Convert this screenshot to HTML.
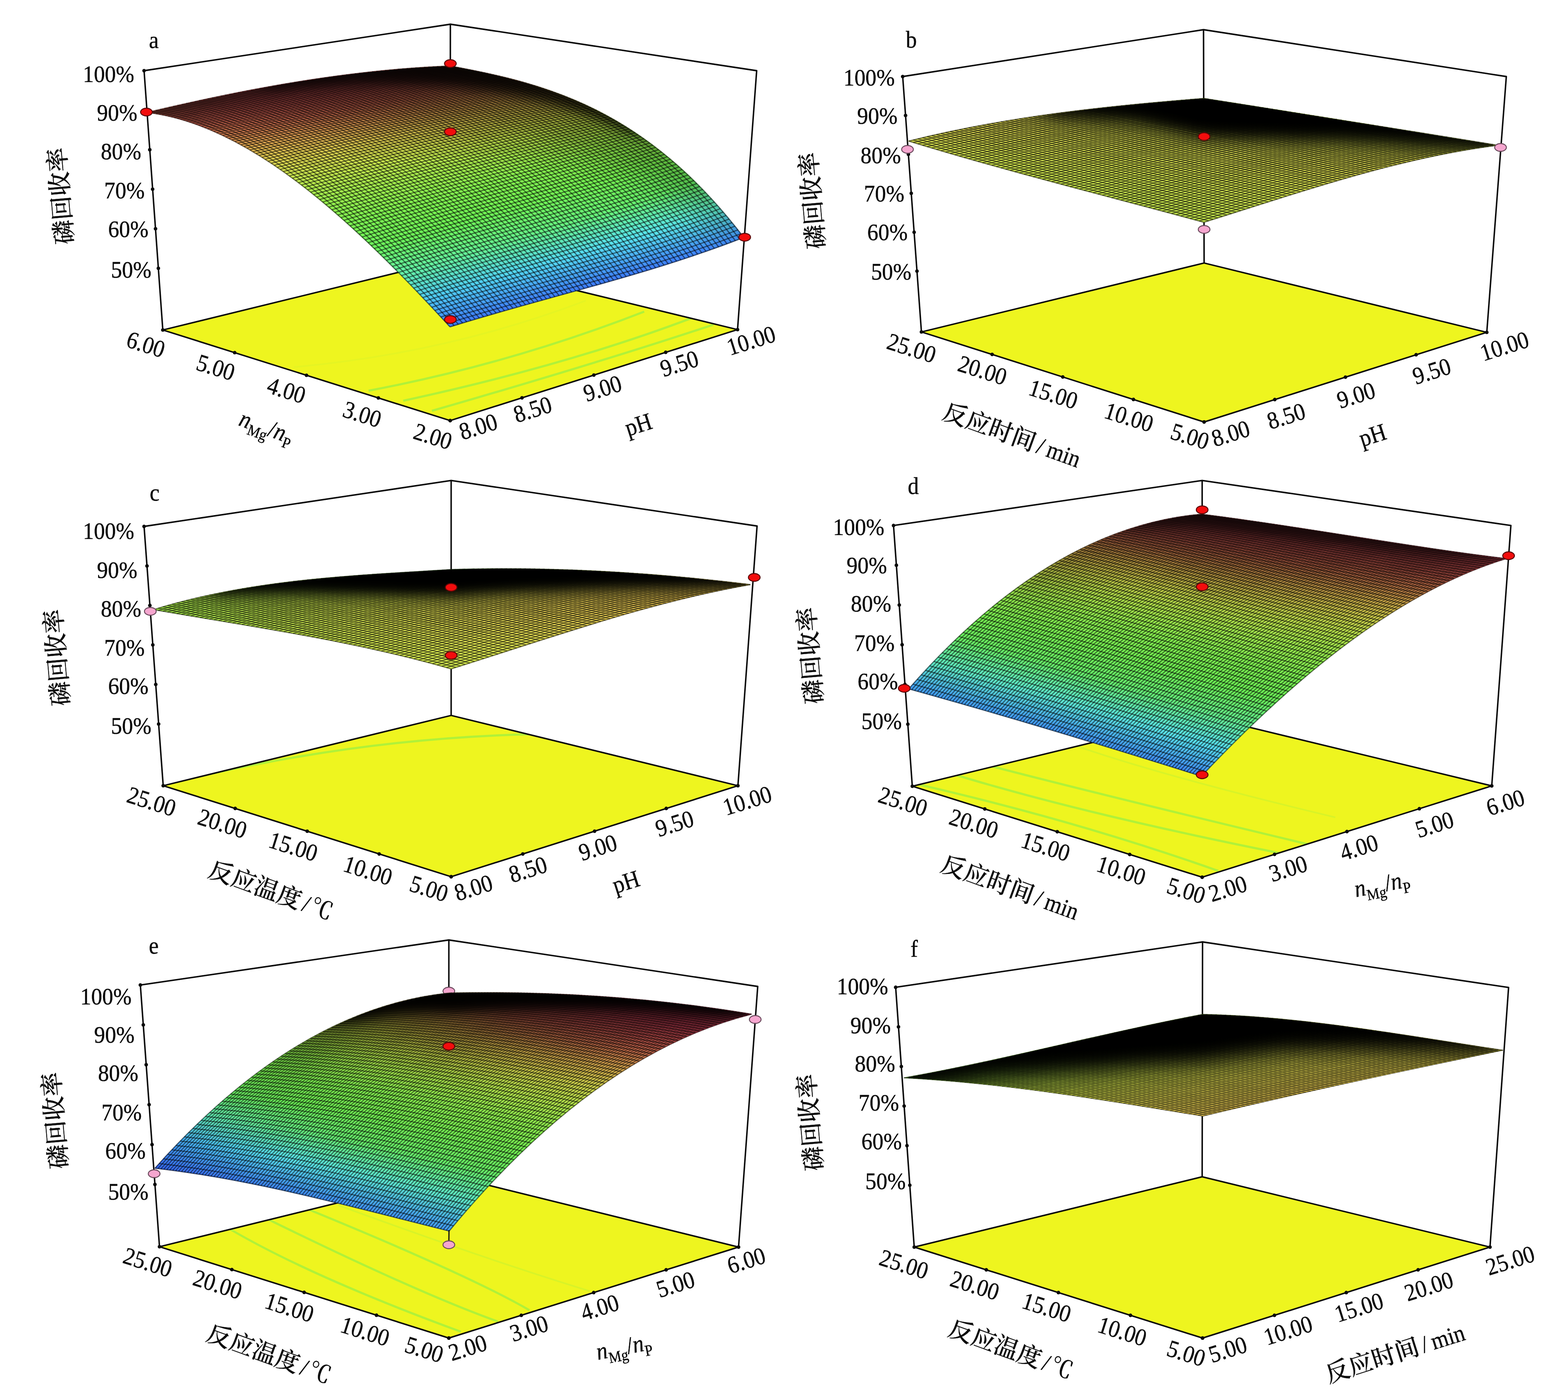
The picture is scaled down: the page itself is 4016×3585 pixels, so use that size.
<!DOCTYPE html>
<html lang="zh-CN">
<head>
<meta charset="utf-8">
<title>响应面图 — 磷回收率</title>
<style>
html,body{margin:0;padding:0;background:#fff;}
body{width:4016px;height:3585px;}
svg{display:block;}
text{font-family:"Liberation Serif","Noto Serif CJK SC",serif;fill:#0a0a0a;stroke:#0a0a0a;stroke-width:0.55px;}
.it{font-style:italic;}
.cj{font-family:"Noto Serif CJK SC","Liberation Serif",serif;font-weight:500;stroke-width:0.4px;}
</style>
</head>
<body>
<svg xmlns="http://www.w3.org/2000/svg" width="4016" height="3585" viewBox="0 0 4016 3585">
<defs>
<clipPath id="fla"><path d="M417 845 L1153 1077 L1889 844 L1153 665Z"/></clipPath>
<linearGradient id="a0" gradientUnits="userSpaceOnUse" x1="386.2" y1="285.7" x2="1161.9" y2="834.1"><stop offset="0" stop-color="#e9705b"/><stop offset="0.063" stop-color="#e76a5b"/><stop offset="0.13" stop-color="#e9725b"/><stop offset="0.202" stop-color="#ed8e59"/><stop offset="0.279" stop-color="#f1be56"/><stop offset="0.359" stop-color="#e3e052"/><stop offset="0.442" stop-color="#c2f04f"/><stop offset="0.529" stop-color="#9af54f"/><stop offset="0.619" stop-color="#7df852"/><stop offset="0.711" stop-color="#6cf75e"/><stop offset="0.806" stop-color="#65f3a8"/><stop offset="0.902" stop-color="#4ecbf6"/><stop offset="1" stop-color="#3c7afa"/></linearGradient>
<linearGradient id="a1" gradientUnits="userSpaceOnUse" x1="405.6" y1="281.2" x2="1180.7" y2="828.3"><stop offset="0" stop-color="#e86e5b"/><stop offset="0.063" stop-color="#e7695c"/><stop offset="0.13" stop-color="#e9705b"/><stop offset="0.203" stop-color="#ed8b59"/><stop offset="0.279" stop-color="#f1bb56"/><stop offset="0.359" stop-color="#e4de52"/><stop offset="0.442" stop-color="#c4ef4f"/><stop offset="0.529" stop-color="#9cf54f"/><stop offset="0.619" stop-color="#7df852"/><stop offset="0.711" stop-color="#6cf75d"/><stop offset="0.805" stop-color="#65f3a6"/><stop offset="0.902" stop-color="#4fccf6"/><stop offset="1" stop-color="#3c7afa"/></linearGradient>
<linearGradient id="a2" gradientUnits="userSpaceOnUse" x1="425" y1="276.7" x2="1199.5" y2="822.7"><stop offset="0" stop-color="#e86b5b"/><stop offset="0.063" stop-color="#e7675c"/><stop offset="0.131" stop-color="#e96f5b"/><stop offset="0.203" stop-color="#ec8959"/><stop offset="0.279" stop-color="#f1b956"/><stop offset="0.359" stop-color="#e5dd52"/><stop offset="0.442" stop-color="#c6ef4f"/><stop offset="0.529" stop-color="#9df54f"/><stop offset="0.618" stop-color="#7ef852"/><stop offset="0.71" stop-color="#6df75c"/><stop offset="0.805" stop-color="#65f3a3"/><stop offset="0.902" stop-color="#4fcef6"/><stop offset="1" stop-color="#3c7bfa"/></linearGradient>
<linearGradient id="a3" gradientUnits="userSpaceOnUse" x1="444.4" y1="272.2" x2="1218.3" y2="817.1"><stop offset="0" stop-color="#e7695b"/><stop offset="0.063" stop-color="#e6655c"/><stop offset="0.131" stop-color="#e86d5b"/><stop offset="0.203" stop-color="#ec8659"/><stop offset="0.279" stop-color="#f0b656"/><stop offset="0.359" stop-color="#e6dc52"/><stop offset="0.442" stop-color="#c7ef4f"/><stop offset="0.528" stop-color="#9ff54f"/><stop offset="0.618" stop-color="#7ff852"/><stop offset="0.71" stop-color="#6df75b"/><stop offset="0.805" stop-color="#65f3a0"/><stop offset="0.901" stop-color="#50cff5"/><stop offset="1" stop-color="#3d7bfa"/></linearGradient>
<linearGradient id="a4" gradientUnits="userSpaceOnUse" x1="463.8" y1="267.9" x2="1237.2" y2="811.5"><stop offset="0" stop-color="#e7675c"/><stop offset="0.063" stop-color="#e6645c"/><stop offset="0.131" stop-color="#e86c5b"/><stop offset="0.203" stop-color="#ec8459"/><stop offset="0.279" stop-color="#f0b456"/><stop offset="0.359" stop-color="#e6db52"/><stop offset="0.442" stop-color="#c9ee4f"/><stop offset="0.528" stop-color="#a0f54f"/><stop offset="0.617" stop-color="#7ff852"/><stop offset="0.71" stop-color="#6df75a"/><stop offset="0.804" stop-color="#66f39e"/><stop offset="0.901" stop-color="#50d0f5"/><stop offset="1" stop-color="#3d7bfa"/></linearGradient>
<linearGradient id="a5" gradientUnits="userSpaceOnUse" x1="483.2" y1="263.5" x2="1256" y2="806.1"><stop offset="0" stop-color="#e6665c"/><stop offset="0.063" stop-color="#e5625c"/><stop offset="0.131" stop-color="#e86b5b"/><stop offset="0.203" stop-color="#ec8259"/><stop offset="0.279" stop-color="#f0b156"/><stop offset="0.358" stop-color="#e7d953"/><stop offset="0.441" stop-color="#caee4f"/><stop offset="0.528" stop-color="#a1f44f"/><stop offset="0.617" stop-color="#80f851"/><stop offset="0.709" stop-color="#6df759"/><stop offset="0.804" stop-color="#66f39c"/><stop offset="0.901" stop-color="#51d2f5"/><stop offset="1" stop-color="#3d7bfa"/></linearGradient>
<linearGradient id="a6" gradientUnits="userSpaceOnUse" x1="502.6" y1="259.3" x2="1274.8" y2="800.7"><stop offset="0" stop-color="#e6645c"/><stop offset="0.064" stop-color="#e5615c"/><stop offset="0.131" stop-color="#e76a5b"/><stop offset="0.203" stop-color="#ec8059"/><stop offset="0.279" stop-color="#f0af57"/><stop offset="0.358" stop-color="#e8d853"/><stop offset="0.441" stop-color="#cbee4f"/><stop offset="0.527" stop-color="#a3f44f"/><stop offset="0.617" stop-color="#81f851"/><stop offset="0.709" stop-color="#6df858"/><stop offset="0.803" stop-color="#66f39a"/><stop offset="0.901" stop-color="#51d3f5"/><stop offset="1" stop-color="#3d7cfa"/></linearGradient>
<linearGradient id="a7" gradientUnits="userSpaceOnUse" x1="522" y1="255.1" x2="1293.6" y2="795.3"><stop offset="0" stop-color="#e5625c"/><stop offset="0.064" stop-color="#e5605c"/><stop offset="0.132" stop-color="#e7695c"/><stop offset="0.203" stop-color="#ec7f5a"/><stop offset="0.279" stop-color="#f0ae57"/><stop offset="0.358" stop-color="#e8d753"/><stop offset="0.441" stop-color="#cdee4f"/><stop offset="0.527" stop-color="#a4f44f"/><stop offset="0.616" stop-color="#81f851"/><stop offset="0.708" stop-color="#6df858"/><stop offset="0.803" stop-color="#66f398"/><stop offset="0.9" stop-color="#52d4f4"/><stop offset="1" stop-color="#3d7cfa"/></linearGradient>
<linearGradient id="a8" gradientUnits="userSpaceOnUse" x1="541.4" y1="251" x2="1312.4" y2="790"><stop offset="0" stop-color="#e5615c"/><stop offset="0.064" stop-color="#e45f5d"/><stop offset="0.132" stop-color="#e7685c"/><stop offset="0.204" stop-color="#eb7d5a"/><stop offset="0.279" stop-color="#f0ac57"/><stop offset="0.358" stop-color="#e9d753"/><stop offset="0.441" stop-color="#ceed4f"/><stop offset="0.527" stop-color="#a5f44f"/><stop offset="0.616" stop-color="#82f851"/><stop offset="0.708" stop-color="#6ef857"/><stop offset="0.803" stop-color="#66f396"/><stop offset="0.9" stop-color="#52d5f4"/><stop offset="1" stop-color="#3d7cfa"/></linearGradient>
<linearGradient id="a9" gradientUnits="userSpaceOnUse" x1="560.8" y1="246.9" x2="1331.2" y2="784.7"><stop offset="0" stop-color="#e55f5c"/><stop offset="0.064" stop-color="#e45e5d"/><stop offset="0.132" stop-color="#e7675c"/><stop offset="0.204" stop-color="#eb7c5a"/><stop offset="0.279" stop-color="#efaa57"/><stop offset="0.358" stop-color="#e9d653"/><stop offset="0.441" stop-color="#cfed4f"/><stop offset="0.527" stop-color="#a6f44f"/><stop offset="0.615" stop-color="#82f851"/><stop offset="0.707" stop-color="#6ef856"/><stop offset="0.802" stop-color="#66f394"/><stop offset="0.9" stop-color="#52d5f4"/><stop offset="1" stop-color="#3d7cfa"/></linearGradient>
<linearGradient id="a10" gradientUnits="userSpaceOnUse" x1="580.2" y1="243" x2="1350" y2="779.5"><stop offset="0" stop-color="#e45e5d"/><stop offset="0.064" stop-color="#e45d5d"/><stop offset="0.132" stop-color="#e6665c"/><stop offset="0.204" stop-color="#eb7a5a"/><stop offset="0.279" stop-color="#efa957"/><stop offset="0.358" stop-color="#ead553"/><stop offset="0.441" stop-color="#d0ed4f"/><stop offset="0.526" stop-color="#a7f44f"/><stop offset="0.615" stop-color="#83f851"/><stop offset="0.707" stop-color="#6ef855"/><stop offset="0.802" stop-color="#66f392"/><stop offset="0.9" stop-color="#53d6f4"/><stop offset="1" stop-color="#3d7bfa"/></linearGradient>
<linearGradient id="a11" gradientUnits="userSpaceOnUse" x1="599.6" y1="239" x2="1368.8" y2="774.2"><stop offset="0" stop-color="#e45d5d"/><stop offset="0.064" stop-color="#e45c5d"/><stop offset="0.132" stop-color="#e6655c"/><stop offset="0.204" stop-color="#eb795a"/><stop offset="0.279" stop-color="#efa757"/><stop offset="0.358" stop-color="#ead453"/><stop offset="0.44" stop-color="#d1ed4f"/><stop offset="0.526" stop-color="#a8f44f"/><stop offset="0.615" stop-color="#83f851"/><stop offset="0.707" stop-color="#6ef855"/><stop offset="0.802" stop-color="#67f491"/><stop offset="0.899" stop-color="#53d7f4"/><stop offset="1" stop-color="#3d7bfa"/></linearGradient>
<linearGradient id="a12" gradientUnits="userSpaceOnUse" x1="619" y1="235.2" x2="1387.7" y2="769"><stop offset="0" stop-color="#e45c5d"/><stop offset="0.064" stop-color="#e45b5d"/><stop offset="0.132" stop-color="#e6655c"/><stop offset="0.204" stop-color="#eb785a"/><stop offset="0.279" stop-color="#efa657"/><stop offset="0.358" stop-color="#ebd353"/><stop offset="0.44" stop-color="#d2ed50"/><stop offset="0.526" stop-color="#a9f34e"/><stop offset="0.614" stop-color="#84f851"/><stop offset="0.706" stop-color="#6ff855"/><stop offset="0.801" stop-color="#67f48f"/><stop offset="0.899" stop-color="#53d8f4"/><stop offset="1" stop-color="#3d7bfa"/></linearGradient>
<linearGradient id="a13" gradientUnits="userSpaceOnUse" x1="638.4" y1="231.5" x2="1406.5" y2="763.8"><stop offset="0" stop-color="#e35b5d"/><stop offset="0.065" stop-color="#e35b5d"/><stop offset="0.133" stop-color="#e6645c"/><stop offset="0.204" stop-color="#eb785a"/><stop offset="0.279" stop-color="#efa557"/><stop offset="0.358" stop-color="#ebd353"/><stop offset="0.44" stop-color="#d3ed50"/><stop offset="0.525" stop-color="#aaf34e"/><stop offset="0.614" stop-color="#84f851"/><stop offset="0.706" stop-color="#6ff855"/><stop offset="0.801" stop-color="#67f48d"/><stop offset="0.899" stop-color="#54d8f3"/><stop offset="1" stop-color="#3d7bfa"/></linearGradient>
<linearGradient id="a14" gradientUnits="userSpaceOnUse" x1="657.8" y1="227.8" x2="1425.3" y2="758.6"><stop offset="0" stop-color="#e35a5d"/><stop offset="0.065" stop-color="#e35a5d"/><stop offset="0.133" stop-color="#e6645c"/><stop offset="0.204" stop-color="#eb775a"/><stop offset="0.28" stop-color="#efa457"/><stop offset="0.358" stop-color="#ecd254"/><stop offset="0.44" stop-color="#d4ec50"/><stop offset="0.525" stop-color="#abf34e"/><stop offset="0.614" stop-color="#84f851"/><stop offset="0.705" stop-color="#70f855"/><stop offset="0.8" stop-color="#67f48c"/><stop offset="0.899" stop-color="#54d9f3"/><stop offset="1" stop-color="#3c7bfa"/></linearGradient>
<linearGradient id="a15" gradientUnits="userSpaceOnUse" x1="677.2" y1="224.2" x2="1444.1" y2="753.5"><stop offset="0" stop-color="#e3595d"/><stop offset="0.065" stop-color="#e35a5d"/><stop offset="0.133" stop-color="#e6645c"/><stop offset="0.205" stop-color="#eb775a"/><stop offset="0.28" stop-color="#efa357"/><stop offset="0.358" stop-color="#ecd254"/><stop offset="0.44" stop-color="#d5ec50"/><stop offset="0.525" stop-color="#abf34e"/><stop offset="0.613" stop-color="#85f850"/><stop offset="0.705" stop-color="#70f855"/><stop offset="0.8" stop-color="#67f48a"/><stop offset="0.898" stop-color="#54daf3"/><stop offset="1" stop-color="#3c7bfa"/></linearGradient>
<linearGradient id="a16" gradientUnits="userSpaceOnUse" x1="696.6" y1="220.7" x2="1462.9" y2="748.3"><stop offset="0" stop-color="#e3595d"/><stop offset="0.065" stop-color="#e35a5d"/><stop offset="0.133" stop-color="#e6645c"/><stop offset="0.205" stop-color="#eb775a"/><stop offset="0.28" stop-color="#efa357"/><stop offset="0.358" stop-color="#ecd154"/><stop offset="0.44" stop-color="#d5ec50"/><stop offset="0.525" stop-color="#acf34e"/><stop offset="0.613" stop-color="#85f850"/><stop offset="0.705" stop-color="#70f855"/><stop offset="0.8" stop-color="#67f489"/><stop offset="0.898" stop-color="#54daf3"/><stop offset="1" stop-color="#3c7bfa"/></linearGradient>
<linearGradient id="a17" gradientUnits="userSpaceOnUse" x1="716" y1="217.3" x2="1481.7" y2="743"><stop offset="0" stop-color="#e3585d"/><stop offset="0.065" stop-color="#e35a5d"/><stop offset="0.133" stop-color="#e6645c"/><stop offset="0.205" stop-color="#eb775a"/><stop offset="0.28" stop-color="#efa257"/><stop offset="0.358" stop-color="#ecd154"/><stop offset="0.439" stop-color="#d6ec50"/><stop offset="0.524" stop-color="#adf34e"/><stop offset="0.612" stop-color="#86f850"/><stop offset="0.704" stop-color="#71f854"/><stop offset="0.799" stop-color="#67f487"/><stop offset="0.898" stop-color="#55dbf3"/><stop offset="1" stop-color="#3c7bfa"/></linearGradient>
<linearGradient id="a18" gradientUnits="userSpaceOnUse" x1="735.4" y1="214" x2="1500.5" y2="737.8"><stop offset="0" stop-color="#e3585d"/><stop offset="0.065" stop-color="#e35a5d"/><stop offset="0.134" stop-color="#e6645c"/><stop offset="0.205" stop-color="#eb775a"/><stop offset="0.28" stop-color="#efa257"/><stop offset="0.358" stop-color="#edd154"/><stop offset="0.439" stop-color="#d7ec50"/><stop offset="0.524" stop-color="#aef34e"/><stop offset="0.612" stop-color="#86f850"/><stop offset="0.704" stop-color="#71f854"/><stop offset="0.799" stop-color="#67f486"/><stop offset="0.898" stop-color="#55dcf3"/><stop offset="1" stop-color="#3c7afa"/></linearGradient>
<linearGradient id="a19" gradientUnits="userSpaceOnUse" x1="754.8" y1="210.8" x2="1519.3" y2="732.6"><stop offset="0" stop-color="#e3585d"/><stop offset="0.065" stop-color="#e35a5d"/><stop offset="0.134" stop-color="#e6645c"/><stop offset="0.205" stop-color="#eb775a"/><stop offset="0.28" stop-color="#efa257"/><stop offset="0.358" stop-color="#edd054"/><stop offset="0.439" stop-color="#d7ec50"/><stop offset="0.524" stop-color="#aff34e"/><stop offset="0.612" stop-color="#86f850"/><stop offset="0.703" stop-color="#72f854"/><stop offset="0.799" stop-color="#67f484"/><stop offset="0.897" stop-color="#55dcf2"/><stop offset="1" stop-color="#3c7afa"/></linearGradient>
<linearGradient id="a20" gradientUnits="userSpaceOnUse" x1="774.2" y1="207.6" x2="1538.2" y2="727.3"><stop offset="0" stop-color="#e3585d"/><stop offset="0.066" stop-color="#e35a5d"/><stop offset="0.134" stop-color="#e6655c"/><stop offset="0.205" stop-color="#eb775a"/><stop offset="0.28" stop-color="#efa257"/><stop offset="0.358" stop-color="#edd054"/><stop offset="0.439" stop-color="#d8ec50"/><stop offset="0.523" stop-color="#aff34e"/><stop offset="0.611" stop-color="#87f850"/><stop offset="0.703" stop-color="#72f854"/><stop offset="0.798" stop-color="#68f483"/><stop offset="0.897" stop-color="#56ddf2"/><stop offset="1" stop-color="#3c7afa"/></linearGradient>
<linearGradient id="a21" gradientUnits="userSpaceOnUse" x1="793.6" y1="204.6" x2="1557" y2="721.9"><stop offset="0" stop-color="#e3585d"/><stop offset="0.066" stop-color="#e35b5d"/><stop offset="0.134" stop-color="#e6655c"/><stop offset="0.206" stop-color="#eb785a"/><stop offset="0.28" stop-color="#efa257"/><stop offset="0.358" stop-color="#edd054"/><stop offset="0.439" stop-color="#d9ec50"/><stop offset="0.523" stop-color="#b0f34e"/><stop offset="0.611" stop-color="#87f850"/><stop offset="0.703" stop-color="#72f854"/><stop offset="0.798" stop-color="#68f481"/><stop offset="0.897" stop-color="#56def2"/><stop offset="1" stop-color="#3c7afa"/></linearGradient>
<linearGradient id="a22" gradientUnits="userSpaceOnUse" x1="813" y1="201.7" x2="1575.8" y2="716.5"><stop offset="0" stop-color="#e3595d"/><stop offset="0.066" stop-color="#e45c5d"/><stop offset="0.134" stop-color="#e6665c"/><stop offset="0.206" stop-color="#eb785a"/><stop offset="0.28" stop-color="#efa257"/><stop offset="0.358" stop-color="#edd054"/><stop offset="0.439" stop-color="#d9ec50"/><stop offset="0.523" stop-color="#b1f24e"/><stop offset="0.611" stop-color="#88f850"/><stop offset="0.702" stop-color="#73f854"/><stop offset="0.797" stop-color="#68f47f"/><stop offset="0.897" stop-color="#56dff2"/><stop offset="1" stop-color="#3c7afa"/></linearGradient>
<linearGradient id="a23" gradientUnits="userSpaceOnUse" x1="832.4" y1="198.9" x2="1594.6" y2="711.1"><stop offset="0" stop-color="#e3595d"/><stop offset="0.066" stop-color="#e45c5d"/><stop offset="0.135" stop-color="#e7675c"/><stop offset="0.206" stop-color="#eb795a"/><stop offset="0.28" stop-color="#efa357"/><stop offset="0.358" stop-color="#edcf54"/><stop offset="0.439" stop-color="#daeb50"/><stop offset="0.523" stop-color="#b1f24e"/><stop offset="0.61" stop-color="#89f850"/><stop offset="0.702" stop-color="#73f854"/><stop offset="0.797" stop-color="#68f47e"/><stop offset="0.896" stop-color="#57e0f2"/><stop offset="1" stop-color="#3c7bfa"/></linearGradient>
<linearGradient id="a24" gradientUnits="userSpaceOnUse" x1="851.8" y1="196.1" x2="1613.4" y2="705.6"><stop offset="0" stop-color="#e35a5d"/><stop offset="0.066" stop-color="#e45d5d"/><stop offset="0.135" stop-color="#e7685c"/><stop offset="0.206" stop-color="#eb7a5a"/><stop offset="0.281" stop-color="#efa357"/><stop offset="0.358" stop-color="#edcf54"/><stop offset="0.438" stop-color="#daeb50"/><stop offset="0.522" stop-color="#b2f24e"/><stop offset="0.61" stop-color="#8af850"/><stop offset="0.701" stop-color="#74f854"/><stop offset="0.797" stop-color="#68f47c"/><stop offset="0.896" stop-color="#57e1f2"/><stop offset="1" stop-color="#3c7bfa"/></linearGradient>
<linearGradient id="a25" gradientUnits="userSpaceOnUse" x1="871.2" y1="193.5" x2="1632.2" y2="700.1"><stop offset="0" stop-color="#e45b5d"/><stop offset="0.066" stop-color="#e45f5d"/><stop offset="0.135" stop-color="#e7695c"/><stop offset="0.206" stop-color="#eb7c5a"/><stop offset="0.281" stop-color="#efa457"/><stop offset="0.358" stop-color="#edcf54"/><stop offset="0.438" stop-color="#dbeb50"/><stop offset="0.522" stop-color="#b3f24e"/><stop offset="0.61" stop-color="#8bf850"/><stop offset="0.701" stop-color="#74f854"/><stop offset="0.796" stop-color="#68f47a"/><stop offset="0.896" stop-color="#58e2f1"/><stop offset="1" stop-color="#3d7bfa"/></linearGradient>
<linearGradient id="a26" gradientUnits="userSpaceOnUse" x1="890.6" y1="191" x2="1651" y2="694.4"><stop offset="0" stop-color="#e45c5d"/><stop offset="0.066" stop-color="#e5605c"/><stop offset="0.135" stop-color="#e76a5b"/><stop offset="0.207" stop-color="#eb7d5a"/><stop offset="0.281" stop-color="#efa457"/><stop offset="0.358" stop-color="#edcf54"/><stop offset="0.438" stop-color="#dbeb50"/><stop offset="0.522" stop-color="#b3f24e"/><stop offset="0.609" stop-color="#8bf750"/><stop offset="0.701" stop-color="#74f854"/><stop offset="0.796" stop-color="#68f578"/><stop offset="0.896" stop-color="#58e3f1"/><stop offset="1" stop-color="#3d7bfa"/></linearGradient>
<linearGradient id="a27" gradientUnits="userSpaceOnUse" x1="910" y1="188.6" x2="1669.8" y2="688.7"><stop offset="0" stop-color="#e45e5d"/><stop offset="0.067" stop-color="#e5615c"/><stop offset="0.136" stop-color="#e86b5b"/><stop offset="0.207" stop-color="#ec7f5a"/><stop offset="0.281" stop-color="#efa557"/><stop offset="0.358" stop-color="#edcf54"/><stop offset="0.438" stop-color="#dbeb50"/><stop offset="0.522" stop-color="#b4f24e"/><stop offset="0.609" stop-color="#8cf750"/><stop offset="0.7" stop-color="#75f854"/><stop offset="0.796" stop-color="#68f576"/><stop offset="0.896" stop-color="#59e5f1"/><stop offset="1" stop-color="#3d7cfa"/></linearGradient>
<linearGradient id="a28" gradientUnits="userSpaceOnUse" x1="929.4" y1="186.3" x2="1688.7" y2="682.9"><stop offset="0" stop-color="#e55f5c"/><stop offset="0.067" stop-color="#e6635c"/><stop offset="0.136" stop-color="#e86d5b"/><stop offset="0.207" stop-color="#ec8059"/><stop offset="0.281" stop-color="#efa657"/><stop offset="0.358" stop-color="#edcf54"/><stop offset="0.438" stop-color="#dceb50"/><stop offset="0.522" stop-color="#b5f24e"/><stop offset="0.609" stop-color="#8df750"/><stop offset="0.7" stop-color="#75f854"/><stop offset="0.795" stop-color="#69f573"/><stop offset="0.895" stop-color="#59e6f0"/><stop offset="1" stop-color="#3d7cfa"/></linearGradient>
<linearGradient id="a29" gradientUnits="userSpaceOnUse" x1="948.8" y1="184.2" x2="1707.5" y2="677"><stop offset="0" stop-color="#e5615c"/><stop offset="0.067" stop-color="#e6655c"/><stop offset="0.136" stop-color="#e96f5b"/><stop offset="0.207" stop-color="#ec8359"/><stop offset="0.281" stop-color="#efa857"/><stop offset="0.358" stop-color="#edcf54"/><stop offset="0.438" stop-color="#dceb50"/><stop offset="0.521" stop-color="#b6f24e"/><stop offset="0.609" stop-color="#8ef750"/><stop offset="0.7" stop-color="#76f853"/><stop offset="0.795" stop-color="#69f571"/><stop offset="0.895" stop-color="#5ae8f0"/><stop offset="1" stop-color="#3d7dfa"/></linearGradient>
<linearGradient id="a30" gradientUnits="userSpaceOnUse" x1="968.2" y1="182.1" x2="1726.3" y2="671"><stop offset="0" stop-color="#e6635c"/><stop offset="0.067" stop-color="#e7675c"/><stop offset="0.136" stop-color="#e9705b"/><stop offset="0.208" stop-color="#ec8559"/><stop offset="0.281" stop-color="#efa957"/><stop offset="0.358" stop-color="#edd054"/><stop offset="0.438" stop-color="#dceb50"/><stop offset="0.521" stop-color="#b6f24e"/><stop offset="0.608" stop-color="#8ff750"/><stop offset="0.699" stop-color="#76f853"/><stop offset="0.795" stop-color="#69f56e"/><stop offset="0.895" stop-color="#5ae8ee"/><stop offset="1" stop-color="#3d7efa"/></linearGradient>
<linearGradient id="a31" gradientUnits="userSpaceOnUse" x1="987.6" y1="180.2" x2="1745.1" y2="664.9"><stop offset="0" stop-color="#e6665c"/><stop offset="0.067" stop-color="#e7695b"/><stop offset="0.137" stop-color="#ea725b"/><stop offset="0.208" stop-color="#ec8759"/><stop offset="0.282" stop-color="#efaa57"/><stop offset="0.358" stop-color="#edd054"/><stop offset="0.438" stop-color="#dcea50"/><stop offset="0.521" stop-color="#b7f14e"/><stop offset="0.608" stop-color="#90f750"/><stop offset="0.699" stop-color="#77f853"/><stop offset="0.795" stop-color="#69f56d"/><stop offset="0.895" stop-color="#5be9eb"/><stop offset="1" stop-color="#3d7ffa"/></linearGradient>
<linearGradient id="a32" gradientUnits="userSpaceOnUse" x1="1007" y1="178.4" x2="1763.9" y2="658.7"><stop offset="0" stop-color="#e7685c"/><stop offset="0.068" stop-color="#e86c5b"/><stop offset="0.137" stop-color="#ea745a"/><stop offset="0.208" stop-color="#ed8a59"/><stop offset="0.282" stop-color="#f0ac57"/><stop offset="0.358" stop-color="#edd054"/><stop offset="0.438" stop-color="#ddea50"/><stop offset="0.521" stop-color="#b8f14e"/><stop offset="0.608" stop-color="#91f750"/><stop offset="0.699" stop-color="#78f853"/><stop offset="0.794" stop-color="#69f56c"/><stop offset="0.895" stop-color="#5be9e8"/><stop offset="1" stop-color="#3d80fa"/></linearGradient>
<linearGradient id="a33" gradientUnits="userSpaceOnUse" x1="1026.4" y1="176.7" x2="1782.7" y2="652.4"><stop offset="0" stop-color="#e86b5b"/><stop offset="0.068" stop-color="#e96e5b"/><stop offset="0.137" stop-color="#eb775a"/><stop offset="0.208" stop-color="#ed8c59"/><stop offset="0.282" stop-color="#f0ae57"/><stop offset="0.359" stop-color="#edd054"/><stop offset="0.438" stop-color="#ddea50"/><stop offset="0.521" stop-color="#b9f14e"/><stop offset="0.608" stop-color="#93f64f"/><stop offset="0.699" stop-color="#78f853"/><stop offset="0.794" stop-color="#6af56b"/><stop offset="0.894" stop-color="#5ceae5"/><stop offset="1" stop-color="#3e81fa"/></linearGradient>
<linearGradient id="a34" gradientUnits="userSpaceOnUse" x1="1045.8" y1="175.1" x2="1801.5" y2="646"><stop offset="0" stop-color="#e86e5b"/><stop offset="0.068" stop-color="#e9715b"/><stop offset="0.137" stop-color="#eb7a5a"/><stop offset="0.209" stop-color="#ed8f59"/><stop offset="0.282" stop-color="#f0af57"/><stop offset="0.359" stop-color="#edd054"/><stop offset="0.438" stop-color="#dde950"/><stop offset="0.521" stop-color="#baf14e"/><stop offset="0.608" stop-color="#94f64f"/><stop offset="0.698" stop-color="#79f853"/><stop offset="0.794" stop-color="#6af66a"/><stop offset="0.894" stop-color="#5ceae2"/><stop offset="1" stop-color="#3e82fa"/></linearGradient>
<linearGradient id="a35" gradientUnits="userSpaceOnUse" x1="1065.2" y1="173.7" x2="1820.3" y2="639.4"><stop offset="0" stop-color="#e9715b"/><stop offset="0.068" stop-color="#ea745a"/><stop offset="0.138" stop-color="#ec7e5a"/><stop offset="0.209" stop-color="#ed9358"/><stop offset="0.283" stop-color="#f0b156"/><stop offset="0.359" stop-color="#edd154"/><stop offset="0.438" stop-color="#dde950"/><stop offset="0.521" stop-color="#bbf14e"/><stop offset="0.607" stop-color="#95f64f"/><stop offset="0.698" stop-color="#7af853"/><stop offset="0.794" stop-color="#6af669"/><stop offset="0.894" stop-color="#5debde"/><stop offset="1" stop-color="#3e84fa"/></linearGradient>
<linearGradient id="a36" gradientUnits="userSpaceOnUse" x1="1084.6" y1="172.4" x2="1839.2" y2="632.7"><stop offset="0" stop-color="#ea745a"/><stop offset="0.068" stop-color="#eb785a"/><stop offset="0.138" stop-color="#ec8359"/><stop offset="0.209" stop-color="#ee9658"/><stop offset="0.283" stop-color="#f0b356"/><stop offset="0.359" stop-color="#ecd154"/><stop offset="0.438" stop-color="#dde950"/><stop offset="0.521" stop-color="#bcf14e"/><stop offset="0.607" stop-color="#96f64f"/><stop offset="0.698" stop-color="#7af853"/><stop offset="0.793" stop-color="#6af667"/><stop offset="0.894" stop-color="#5eecdb"/><stop offset="1" stop-color="#3e86fa"/></linearGradient>
<linearGradient id="a37" gradientUnits="userSpaceOnUse" x1="1104" y1="171.3" x2="1858" y2="625.8"><stop offset="0" stop-color="#eb785a"/><stop offset="0.069" stop-color="#eb7d5a"/><stop offset="0.138" stop-color="#ec8759"/><stop offset="0.21" stop-color="#ee9a58"/><stop offset="0.283" stop-color="#f0b656"/><stop offset="0.359" stop-color="#ecd154"/><stop offset="0.438" stop-color="#dee850"/><stop offset="0.521" stop-color="#bdf04e"/><stop offset="0.607" stop-color="#98f64f"/><stop offset="0.698" stop-color="#7bf852"/><stop offset="0.793" stop-color="#6bf666"/><stop offset="0.894" stop-color="#5eecd6"/><stop offset="1" stop-color="#3f87fa"/></linearGradient>
<linearGradient id="a38" gradientUnits="userSpaceOnUse" x1="1123.4" y1="170.3" x2="1876.8" y2="618.8"><stop offset="0" stop-color="#ec7f5a"/><stop offset="0.069" stop-color="#ec8359"/><stop offset="0.139" stop-color="#ed8c59"/><stop offset="0.21" stop-color="#ee9d58"/><stop offset="0.284" stop-color="#f1b856"/><stop offset="0.36" stop-color="#ecd254"/><stop offset="0.439" stop-color="#dee850"/><stop offset="0.521" stop-color="#bef04e"/><stop offset="0.607" stop-color="#99f64f"/><stop offset="0.698" stop-color="#7cf852"/><stop offset="0.793" stop-color="#6bf664"/><stop offset="0.894" stop-color="#5fedd2"/><stop offset="1" stop-color="#3f89fa"/></linearGradient>
<linearGradient id="a39" gradientUnits="userSpaceOnUse" x1="1142.8" y1="169.4" x2="1895.6" y2="611.6"><stop offset="0" stop-color="#ec8659"/><stop offset="0.069" stop-color="#ec8959"/><stop offset="0.139" stop-color="#ed9258"/><stop offset="0.21" stop-color="#efa157"/><stop offset="0.284" stop-color="#f1ba56"/><stop offset="0.36" stop-color="#ecd254"/><stop offset="0.439" stop-color="#dee850"/><stop offset="0.521" stop-color="#bff04f"/><stop offset="0.607" stop-color="#9bf54f"/><stop offset="0.698" stop-color="#7df852"/><stop offset="0.793" stop-color="#6bf663"/><stop offset="0.894" stop-color="#60eecd"/><stop offset="1" stop-color="#3f8cfa"/></linearGradient>
<clipPath id="csa"><path d="M376.5 288 C635.2 226.7 893.8 178.8 1152.5 169 C1403.3 214.3 1654.2 280.7 1905 608 C1654.2 705.7 1403.3 759 1152.5 837 C893.8 554.8 635.2 318 376.5 288Z"/></clipPath>
<filter id="bla0" x="-5%" y="-60%" width="110%" height="220%"><feGaussianBlur stdDeviation="14"/></filter>
<filter id="bla1" x="-5%" y="-60%" width="110%" height="220%"><feGaussianBlur stdDeviation="50"/></filter>
<linearGradient id="b0" gradientUnits="userSpaceOnUse" x1="2336.9" y1="364.1" x2="3092.9" y2="253.4"><stop offset="0" stop-color="#dfe751"/><stop offset="0.084" stop-color="#e2e251"/><stop offset="0.169" stop-color="#e3df52"/><stop offset="0.253" stop-color="#e4de52"/><stop offset="0.336" stop-color="#e4de52"/><stop offset="0.42" stop-color="#e3df52"/><stop offset="0.503" stop-color="#e2e251"/><stop offset="0.586" stop-color="#dfe651"/><stop offset="0.669" stop-color="#dcea50"/><stop offset="0.752" stop-color="#d6ec50"/><stop offset="0.835" stop-color="#cfed4f"/><stop offset="0.917" stop-color="#c6ef4f"/><stop offset="1" stop-color="#bdf04e"/></linearGradient>
<linearGradient id="b1" gradientUnits="userSpaceOnUse" x1="2355.9" y1="369.8" x2="3111.7" y2="256.3"><stop offset="0" stop-color="#dee850"/><stop offset="0.084" stop-color="#e1e351"/><stop offset="0.169" stop-color="#e3e052"/><stop offset="0.253" stop-color="#e4df52"/><stop offset="0.336" stop-color="#e4df52"/><stop offset="0.42" stop-color="#e3e052"/><stop offset="0.503" stop-color="#e2e251"/><stop offset="0.586" stop-color="#dfe651"/><stop offset="0.669" stop-color="#dcea50"/><stop offset="0.752" stop-color="#d7ec50"/><stop offset="0.835" stop-color="#cfed4f"/><stop offset="0.917" stop-color="#c7ef4f"/><stop offset="1" stop-color="#bef04f"/></linearGradient>
<linearGradient id="b2" gradientUnits="userSpaceOnUse" x1="2374.8" y1="375.5" x2="3130.5" y2="259.3"><stop offset="0" stop-color="#dde950"/><stop offset="0.084" stop-color="#e0e451"/><stop offset="0.169" stop-color="#e2e151"/><stop offset="0.253" stop-color="#e3e052"/><stop offset="0.336" stop-color="#e3df52"/><stop offset="0.42" stop-color="#e3e052"/><stop offset="0.503" stop-color="#e1e251"/><stop offset="0.586" stop-color="#dfe651"/><stop offset="0.669" stop-color="#ddea50"/><stop offset="0.752" stop-color="#d7ec50"/><stop offset="0.835" stop-color="#d0ed4f"/><stop offset="0.918" stop-color="#c8ef4f"/><stop offset="1" stop-color="#bff04f"/></linearGradient>
<linearGradient id="b3" gradientUnits="userSpaceOnUse" x1="2393.6" y1="381.2" x2="3149.3" y2="262.2"><stop offset="0" stop-color="#ddea50"/><stop offset="0.084" stop-color="#dfe651"/><stop offset="0.169" stop-color="#e1e251"/><stop offset="0.253" stop-color="#e3e151"/><stop offset="0.336" stop-color="#e3e052"/><stop offset="0.42" stop-color="#e2e151"/><stop offset="0.503" stop-color="#e1e351"/><stop offset="0.586" stop-color="#dfe651"/><stop offset="0.669" stop-color="#ddea50"/><stop offset="0.752" stop-color="#d7ec50"/><stop offset="0.835" stop-color="#d0ed4f"/><stop offset="0.918" stop-color="#c8ee4f"/><stop offset="1" stop-color="#c0f04f"/></linearGradient>
<linearGradient id="b4" gradientUnits="userSpaceOnUse" x1="2412.6" y1="386.8" x2="3168.2" y2="265.1"><stop offset="0" stop-color="#dceb50"/><stop offset="0.084" stop-color="#dfe751"/><stop offset="0.169" stop-color="#e1e351"/><stop offset="0.253" stop-color="#e2e151"/><stop offset="0.336" stop-color="#e3e151"/><stop offset="0.42" stop-color="#e2e151"/><stop offset="0.503" stop-color="#e1e351"/><stop offset="0.587" stop-color="#dfe651"/><stop offset="0.67" stop-color="#ddea50"/><stop offset="0.752" stop-color="#d8ec50"/><stop offset="0.835" stop-color="#d1ed4f"/><stop offset="0.918" stop-color="#c9ee4f"/><stop offset="1" stop-color="#c0f04f"/></linearGradient>
<linearGradient id="b5" gradientUnits="userSpaceOnUse" x1="2431.4" y1="392.3" x2="3187" y2="268"><stop offset="0" stop-color="#dbeb50"/><stop offset="0.085" stop-color="#dee751"/><stop offset="0.169" stop-color="#e0e451"/><stop offset="0.253" stop-color="#e2e251"/><stop offset="0.337" stop-color="#e2e151"/><stop offset="0.42" stop-color="#e2e251"/><stop offset="0.503" stop-color="#e1e351"/><stop offset="0.587" stop-color="#dfe651"/><stop offset="0.67" stop-color="#ddea50"/><stop offset="0.752" stop-color="#d8ec50"/><stop offset="0.835" stop-color="#d1ed4f"/><stop offset="0.918" stop-color="#caee4f"/><stop offset="1" stop-color="#c1f04f"/></linearGradient>
<linearGradient id="b6" gradientUnits="userSpaceOnUse" x1="2450.4" y1="397.8" x2="3205.8" y2="271"><stop offset="0" stop-color="#daeb50"/><stop offset="0.085" stop-color="#dee850"/><stop offset="0.169" stop-color="#e0e551"/><stop offset="0.253" stop-color="#e1e351"/><stop offset="0.337" stop-color="#e2e251"/><stop offset="0.42" stop-color="#e2e251"/><stop offset="0.504" stop-color="#e1e351"/><stop offset="0.587" stop-color="#dfe651"/><stop offset="0.67" stop-color="#dde950"/><stop offset="0.753" stop-color="#d8ec50"/><stop offset="0.835" stop-color="#d2ed4f"/><stop offset="0.918" stop-color="#caee4f"/><stop offset="1" stop-color="#c2f04f"/></linearGradient>
<linearGradient id="b7" gradientUnits="userSpaceOnUse" x1="2469.2" y1="403.2" x2="3224.6" y2="273.9"><stop offset="0" stop-color="#d9ec50"/><stop offset="0.085" stop-color="#dde950"/><stop offset="0.169" stop-color="#dfe651"/><stop offset="0.253" stop-color="#e1e351"/><stop offset="0.337" stop-color="#e2e251"/><stop offset="0.42" stop-color="#e1e251"/><stop offset="0.504" stop-color="#e1e351"/><stop offset="0.587" stop-color="#dfe651"/><stop offset="0.67" stop-color="#dde950"/><stop offset="0.753" stop-color="#d9ec50"/><stop offset="0.835" stop-color="#d3ed50"/><stop offset="0.918" stop-color="#cbee4f"/><stop offset="1" stop-color="#c2ef4f"/></linearGradient>
<linearGradient id="b8" gradientUnits="userSpaceOnUse" x1="2488.1" y1="408.6" x2="3243.4" y2="276.9"><stop offset="0" stop-color="#d8ec50"/><stop offset="0.085" stop-color="#ddea50"/><stop offset="0.169" stop-color="#dfe651"/><stop offset="0.253" stop-color="#e0e451"/><stop offset="0.337" stop-color="#e1e351"/><stop offset="0.42" stop-color="#e1e351"/><stop offset="0.504" stop-color="#e1e451"/><stop offset="0.587" stop-color="#dfe651"/><stop offset="0.67" stop-color="#dde950"/><stop offset="0.753" stop-color="#d9eb50"/><stop offset="0.835" stop-color="#d3ed50"/><stop offset="0.918" stop-color="#ccee4f"/><stop offset="1" stop-color="#c3ef4f"/></linearGradient>
<linearGradient id="b9" gradientUnits="userSpaceOnUse" x1="2507.1" y1="414" x2="3262.2" y2="279.8"><stop offset="0" stop-color="#d7ec50"/><stop offset="0.085" stop-color="#dceb50"/><stop offset="0.169" stop-color="#dee751"/><stop offset="0.253" stop-color="#e0e551"/><stop offset="0.337" stop-color="#e1e351"/><stop offset="0.42" stop-color="#e1e351"/><stop offset="0.504" stop-color="#e1e451"/><stop offset="0.587" stop-color="#dfe651"/><stop offset="0.67" stop-color="#dde950"/><stop offset="0.753" stop-color="#daeb50"/><stop offset="0.835" stop-color="#d4ec50"/><stop offset="0.918" stop-color="#ccee4f"/><stop offset="1" stop-color="#c4ef4f"/></linearGradient>
<linearGradient id="b10" gradientUnits="userSpaceOnUse" x1="2525.9" y1="419.3" x2="3281" y2="282.8"><stop offset="0" stop-color="#d6ec50"/><stop offset="0.085" stop-color="#dceb50"/><stop offset="0.169" stop-color="#dee850"/><stop offset="0.253" stop-color="#e0e551"/><stop offset="0.337" stop-color="#e1e451"/><stop offset="0.42" stop-color="#e1e351"/><stop offset="0.504" stop-color="#e0e451"/><stop offset="0.587" stop-color="#dfe651"/><stop offset="0.67" stop-color="#dde950"/><stop offset="0.753" stop-color="#daeb50"/><stop offset="0.835" stop-color="#d4ec50"/><stop offset="0.918" stop-color="#cdee4f"/><stop offset="1" stop-color="#c4ef4f"/></linearGradient>
<linearGradient id="b11" gradientUnits="userSpaceOnUse" x1="2544.9" y1="424.6" x2="3299.8" y2="285.8"><stop offset="0" stop-color="#d5ec50"/><stop offset="0.085" stop-color="#dbeb50"/><stop offset="0.169" stop-color="#dee850"/><stop offset="0.253" stop-color="#dfe651"/><stop offset="0.337" stop-color="#e0e451"/><stop offset="0.42" stop-color="#e1e351"/><stop offset="0.504" stop-color="#e0e451"/><stop offset="0.587" stop-color="#dfe651"/><stop offset="0.67" stop-color="#dee850"/><stop offset="0.753" stop-color="#daeb50"/><stop offset="0.835" stop-color="#d5ec50"/><stop offset="0.918" stop-color="#cdee4f"/><stop offset="1" stop-color="#c5ef4f"/></linearGradient>
<linearGradient id="b12" gradientUnits="userSpaceOnUse" x1="2563.8" y1="429.9" x2="3318.7" y2="288.8"><stop offset="0" stop-color="#d5ec50"/><stop offset="0.085" stop-color="#daeb50"/><stop offset="0.169" stop-color="#dde950"/><stop offset="0.253" stop-color="#dfe651"/><stop offset="0.337" stop-color="#e0e451"/><stop offset="0.421" stop-color="#e1e451"/><stop offset="0.504" stop-color="#e0e451"/><stop offset="0.587" stop-color="#dfe651"/><stop offset="0.67" stop-color="#dee850"/><stop offset="0.753" stop-color="#dbeb50"/><stop offset="0.836" stop-color="#d5ec50"/><stop offset="0.918" stop-color="#ceed4f"/><stop offset="1" stop-color="#c6ef4f"/></linearGradient>
<linearGradient id="b13" gradientUnits="userSpaceOnUse" x1="2582.6" y1="435.1" x2="3337.5" y2="291.7"><stop offset="0" stop-color="#d4ec50"/><stop offset="0.085" stop-color="#d9eb50"/><stop offset="0.169" stop-color="#dde950"/><stop offset="0.253" stop-color="#dfe751"/><stop offset="0.337" stop-color="#e0e551"/><stop offset="0.421" stop-color="#e1e451"/><stop offset="0.504" stop-color="#e0e451"/><stop offset="0.587" stop-color="#e0e551"/><stop offset="0.67" stop-color="#dee850"/><stop offset="0.753" stop-color="#dbeb50"/><stop offset="0.836" stop-color="#d6ec50"/><stop offset="0.918" stop-color="#cfed4f"/><stop offset="1" stop-color="#c6ef4f"/></linearGradient>
<linearGradient id="b14" gradientUnits="userSpaceOnUse" x1="2601.6" y1="440.3" x2="3356.3" y2="294.7"><stop offset="0" stop-color="#d3ed50"/><stop offset="0.085" stop-color="#d9ec50"/><stop offset="0.169" stop-color="#ddea50"/><stop offset="0.253" stop-color="#dfe751"/><stop offset="0.337" stop-color="#e0e551"/><stop offset="0.421" stop-color="#e0e451"/><stop offset="0.504" stop-color="#e0e451"/><stop offset="0.587" stop-color="#e0e551"/><stop offset="0.67" stop-color="#dee850"/><stop offset="0.753" stop-color="#dceb50"/><stop offset="0.836" stop-color="#d6ec50"/><stop offset="0.918" stop-color="#cfed4f"/><stop offset="1" stop-color="#c7ef4f"/></linearGradient>
<linearGradient id="b15" gradientUnits="userSpaceOnUse" x1="2620.4" y1="445.5" x2="3375.1" y2="297.7"><stop offset="0" stop-color="#d3ed50"/><stop offset="0.085" stop-color="#d8ec50"/><stop offset="0.169" stop-color="#dcea50"/><stop offset="0.253" stop-color="#dee751"/><stop offset="0.337" stop-color="#e0e551"/><stop offset="0.421" stop-color="#e0e451"/><stop offset="0.504" stop-color="#e0e451"/><stop offset="0.587" stop-color="#e0e551"/><stop offset="0.67" stop-color="#dee751"/><stop offset="0.753" stop-color="#dceb50"/><stop offset="0.836" stop-color="#d7ec50"/><stop offset="0.918" stop-color="#d0ed4f"/><stop offset="1" stop-color="#c7ef4f"/></linearGradient>
<linearGradient id="b16" gradientUnits="userSpaceOnUse" x1="2639.3" y1="450.7" x2="3393.9" y2="300.7"><stop offset="0" stop-color="#d2ed50"/><stop offset="0.085" stop-color="#d8ec50"/><stop offset="0.169" stop-color="#dceb50"/><stop offset="0.253" stop-color="#dee850"/><stop offset="0.337" stop-color="#dfe651"/><stop offset="0.421" stop-color="#e0e451"/><stop offset="0.504" stop-color="#e0e451"/><stop offset="0.588" stop-color="#e0e551"/><stop offset="0.671" stop-color="#dee751"/><stop offset="0.753" stop-color="#dcea50"/><stop offset="0.836" stop-color="#d7ec50"/><stop offset="0.918" stop-color="#d0ed4f"/><stop offset="1" stop-color="#c8ef4f"/></linearGradient>
<linearGradient id="b17" gradientUnits="userSpaceOnUse" x1="2658.2" y1="455.8" x2="3412.7" y2="303.7"><stop offset="0" stop-color="#d2ed4f"/><stop offset="0.085" stop-color="#d7ec50"/><stop offset="0.169" stop-color="#dceb50"/><stop offset="0.253" stop-color="#dee850"/><stop offset="0.337" stop-color="#dfe651"/><stop offset="0.421" stop-color="#e0e451"/><stop offset="0.504" stop-color="#e0e451"/><stop offset="0.588" stop-color="#e0e551"/><stop offset="0.671" stop-color="#dfe751"/><stop offset="0.753" stop-color="#ddea50"/><stop offset="0.836" stop-color="#d8ec50"/><stop offset="0.918" stop-color="#d1ed4f"/><stop offset="1" stop-color="#c8ee4f"/></linearGradient>
<linearGradient id="b18" gradientUnits="userSpaceOnUse" x1="2677.2" y1="460.9" x2="3431.5" y2="306.7"><stop offset="0" stop-color="#d1ed4f"/><stop offset="0.085" stop-color="#d7ec50"/><stop offset="0.169" stop-color="#dbeb50"/><stop offset="0.253" stop-color="#dee850"/><stop offset="0.337" stop-color="#dfe651"/><stop offset="0.421" stop-color="#e0e551"/><stop offset="0.504" stop-color="#e0e451"/><stop offset="0.588" stop-color="#e0e551"/><stop offset="0.671" stop-color="#dfe751"/><stop offset="0.753" stop-color="#ddea50"/><stop offset="0.836" stop-color="#d8ec50"/><stop offset="0.918" stop-color="#d2ed4f"/><stop offset="1" stop-color="#c9ee4f"/></linearGradient>
<linearGradient id="b19" gradientUnits="userSpaceOnUse" x1="2696.1" y1="466" x2="3450.3" y2="309.8"><stop offset="0" stop-color="#d1ed4f"/><stop offset="0.085" stop-color="#d6ec50"/><stop offset="0.169" stop-color="#dbeb50"/><stop offset="0.253" stop-color="#dde950"/><stop offset="0.337" stop-color="#dfe651"/><stop offset="0.421" stop-color="#e0e551"/><stop offset="0.504" stop-color="#e0e451"/><stop offset="0.588" stop-color="#e0e551"/><stop offset="0.671" stop-color="#dfe651"/><stop offset="0.754" stop-color="#dde950"/><stop offset="0.836" stop-color="#d9ec50"/><stop offset="0.918" stop-color="#d2ed50"/><stop offset="1" stop-color="#caee4f"/></linearGradient>
<linearGradient id="b20" gradientUnits="userSpaceOnUse" x1="2714.9" y1="471" x2="3469.2" y2="312.8"><stop offset="0" stop-color="#d0ed4f"/><stop offset="0.085" stop-color="#d6ec50"/><stop offset="0.169" stop-color="#daeb50"/><stop offset="0.253" stop-color="#dde950"/><stop offset="0.337" stop-color="#dfe651"/><stop offset="0.421" stop-color="#e0e551"/><stop offset="0.505" stop-color="#e0e451"/><stop offset="0.588" stop-color="#e0e451"/><stop offset="0.671" stop-color="#dfe651"/><stop offset="0.754" stop-color="#dde950"/><stop offset="0.836" stop-color="#d9eb50"/><stop offset="0.918" stop-color="#d3ed50"/><stop offset="1" stop-color="#caee4f"/></linearGradient>
<linearGradient id="b21" gradientUnits="userSpaceOnUse" x1="2733.8" y1="476.1" x2="3488" y2="315.8"><stop offset="0" stop-color="#d0ed4f"/><stop offset="0.085" stop-color="#d5ec50"/><stop offset="0.169" stop-color="#daeb50"/><stop offset="0.253" stop-color="#dde950"/><stop offset="0.337" stop-color="#dfe751"/><stop offset="0.421" stop-color="#e0e551"/><stop offset="0.505" stop-color="#e0e451"/><stop offset="0.588" stop-color="#e0e451"/><stop offset="0.671" stop-color="#dfe651"/><stop offset="0.754" stop-color="#dee950"/><stop offset="0.836" stop-color="#daeb50"/><stop offset="0.918" stop-color="#d3ed50"/><stop offset="1" stop-color="#cbee4f"/></linearGradient>
<linearGradient id="b22" gradientUnits="userSpaceOnUse" x1="2752.8" y1="481.1" x2="3506.8" y2="318.8"><stop offset="0" stop-color="#cfed4f"/><stop offset="0.085" stop-color="#d5ec50"/><stop offset="0.169" stop-color="#d9eb50"/><stop offset="0.253" stop-color="#ddea50"/><stop offset="0.337" stop-color="#dfe751"/><stop offset="0.421" stop-color="#e0e551"/><stop offset="0.505" stop-color="#e0e451"/><stop offset="0.588" stop-color="#e0e451"/><stop offset="0.671" stop-color="#dfe651"/><stop offset="0.754" stop-color="#dee850"/><stop offset="0.836" stop-color="#daeb50"/><stop offset="0.918" stop-color="#d4ec50"/><stop offset="1" stop-color="#cbee4f"/></linearGradient>
<linearGradient id="b23" gradientUnits="userSpaceOnUse" x1="2771.7" y1="486.1" x2="3525.6" y2="321.9"><stop offset="0" stop-color="#cfed4f"/><stop offset="0.085" stop-color="#d4ec50"/><stop offset="0.169" stop-color="#d9ec50"/><stop offset="0.253" stop-color="#ddea50"/><stop offset="0.337" stop-color="#dee751"/><stop offset="0.421" stop-color="#e0e551"/><stop offset="0.505" stop-color="#e0e451"/><stop offset="0.588" stop-color="#e0e451"/><stop offset="0.671" stop-color="#e0e551"/><stop offset="0.754" stop-color="#dee850"/><stop offset="0.836" stop-color="#dbeb50"/><stop offset="0.918" stop-color="#d4ec50"/><stop offset="1" stop-color="#ccee4f"/></linearGradient>
<linearGradient id="b24" gradientUnits="userSpaceOnUse" x1="2790.6" y1="491.1" x2="3544.4" y2="324.9"><stop offset="0" stop-color="#cfed4f"/><stop offset="0.085" stop-color="#d4ec50"/><stop offset="0.169" stop-color="#d9ec50"/><stop offset="0.253" stop-color="#ddea50"/><stop offset="0.337" stop-color="#dee751"/><stop offset="0.421" stop-color="#e0e551"/><stop offset="0.505" stop-color="#e0e451"/><stop offset="0.588" stop-color="#e1e451"/><stop offset="0.671" stop-color="#e0e551"/><stop offset="0.754" stop-color="#dee751"/><stop offset="0.836" stop-color="#dbeb50"/><stop offset="0.918" stop-color="#d5ec50"/><stop offset="1" stop-color="#ccee4f"/></linearGradient>
<linearGradient id="b25" gradientUnits="userSpaceOnUse" x1="2809.4" y1="496.1" x2="3563.2" y2="327.9"><stop offset="0" stop-color="#ceed4f"/><stop offset="0.085" stop-color="#d4ec50"/><stop offset="0.169" stop-color="#d8ec50"/><stop offset="0.253" stop-color="#dcea50"/><stop offset="0.337" stop-color="#dee751"/><stop offset="0.421" stop-color="#e0e551"/><stop offset="0.505" stop-color="#e0e451"/><stop offset="0.588" stop-color="#e1e451"/><stop offset="0.671" stop-color="#e0e551"/><stop offset="0.754" stop-color="#dee751"/><stop offset="0.836" stop-color="#dceb50"/><stop offset="0.918" stop-color="#d5ec50"/><stop offset="1" stop-color="#cdee4f"/></linearGradient>
<linearGradient id="b26" gradientUnits="userSpaceOnUse" x1="2828.3" y1="501.2" x2="3582" y2="330.9"><stop offset="0" stop-color="#ceed4f"/><stop offset="0.085" stop-color="#d3ed50"/><stop offset="0.169" stop-color="#d8ec50"/><stop offset="0.253" stop-color="#dceb50"/><stop offset="0.337" stop-color="#dee850"/><stop offset="0.421" stop-color="#e0e551"/><stop offset="0.505" stop-color="#e1e451"/><stop offset="0.588" stop-color="#e1e351"/><stop offset="0.671" stop-color="#e0e451"/><stop offset="0.754" stop-color="#dfe751"/><stop offset="0.837" stop-color="#dceb50"/><stop offset="0.918" stop-color="#d6ec50"/><stop offset="1" stop-color="#cdee4f"/></linearGradient>
<linearGradient id="b27" gradientUnits="userSpaceOnUse" x1="2847.2" y1="506.2" x2="3600.8" y2="334"><stop offset="0" stop-color="#ceee4f"/><stop offset="0.085" stop-color="#d3ed50"/><stop offset="0.169" stop-color="#d8ec50"/><stop offset="0.253" stop-color="#dceb50"/><stop offset="0.337" stop-color="#dee850"/><stop offset="0.421" stop-color="#e0e551"/><stop offset="0.505" stop-color="#e1e451"/><stop offset="0.588" stop-color="#e1e351"/><stop offset="0.671" stop-color="#e0e451"/><stop offset="0.754" stop-color="#dfe651"/><stop offset="0.837" stop-color="#dcea50"/><stop offset="0.919" stop-color="#d6ec50"/><stop offset="1" stop-color="#ceee4f"/></linearGradient>
<linearGradient id="b28" gradientUnits="userSpaceOnUse" x1="2866.2" y1="511.1" x2="3619.7" y2="337"><stop offset="0" stop-color="#cdee4f"/><stop offset="0.085" stop-color="#d2ed50"/><stop offset="0.169" stop-color="#d7ec50"/><stop offset="0.253" stop-color="#dceb50"/><stop offset="0.337" stop-color="#dee850"/><stop offset="0.421" stop-color="#e0e551"/><stop offset="0.505" stop-color="#e1e451"/><stop offset="0.588" stop-color="#e1e351"/><stop offset="0.672" stop-color="#e1e451"/><stop offset="0.754" stop-color="#dfe651"/><stop offset="0.837" stop-color="#ddea50"/><stop offset="0.919" stop-color="#d7ec50"/><stop offset="1" stop-color="#ceed4f"/></linearGradient>
<linearGradient id="b29" gradientUnits="userSpaceOnUse" x1="2885.1" y1="516.1" x2="3638.5" y2="340.1"><stop offset="0" stop-color="#cdee4f"/><stop offset="0.085" stop-color="#d2ed50"/><stop offset="0.169" stop-color="#d7ec50"/><stop offset="0.253" stop-color="#dbeb50"/><stop offset="0.337" stop-color="#dee850"/><stop offset="0.421" stop-color="#e0e551"/><stop offset="0.505" stop-color="#e1e451"/><stop offset="0.589" stop-color="#e1e351"/><stop offset="0.672" stop-color="#e1e451"/><stop offset="0.754" stop-color="#dfe651"/><stop offset="0.837" stop-color="#dde950"/><stop offset="0.919" stop-color="#d7ec50"/><stop offset="1" stop-color="#cfed4f"/></linearGradient>
<linearGradient id="b30" gradientUnits="userSpaceOnUse" x1="2903.9" y1="521.1" x2="3657.3" y2="343.1"><stop offset="0" stop-color="#cdee4f"/><stop offset="0.085" stop-color="#d2ed4f"/><stop offset="0.169" stop-color="#d7ec50"/><stop offset="0.253" stop-color="#dbeb50"/><stop offset="0.337" stop-color="#dee850"/><stop offset="0.421" stop-color="#dfe551"/><stop offset="0.505" stop-color="#e1e451"/><stop offset="0.589" stop-color="#e1e351"/><stop offset="0.672" stop-color="#e1e351"/><stop offset="0.754" stop-color="#e0e551"/><stop offset="0.837" stop-color="#dde950"/><stop offset="0.919" stop-color="#d8ec50"/><stop offset="1" stop-color="#cfed4f"/></linearGradient>
<linearGradient id="b31" gradientUnits="userSpaceOnUse" x1="2922.8" y1="526.2" x2="3676.1" y2="346.1"><stop offset="0" stop-color="#ccee4f"/><stop offset="0.084" stop-color="#d1ed4f"/><stop offset="0.169" stop-color="#d6ec50"/><stop offset="0.253" stop-color="#dbeb50"/><stop offset="0.337" stop-color="#dee850"/><stop offset="0.421" stop-color="#dfe651"/><stop offset="0.505" stop-color="#e1e451"/><stop offset="0.589" stop-color="#e1e351"/><stop offset="0.672" stop-color="#e1e351"/><stop offset="0.755" stop-color="#e0e551"/><stop offset="0.837" stop-color="#dee950"/><stop offset="0.919" stop-color="#d8ec50"/><stop offset="1" stop-color="#d0ed4f"/></linearGradient>
<linearGradient id="b32" gradientUnits="userSpaceOnUse" x1="2941.8" y1="531.2" x2="3694.9" y2="349.2"><stop offset="0" stop-color="#ccee4f"/><stop offset="0.084" stop-color="#d1ed4f"/><stop offset="0.169" stop-color="#d6ec50"/><stop offset="0.253" stop-color="#dbeb50"/><stop offset="0.337" stop-color="#dee950"/><stop offset="0.422" stop-color="#dfe651"/><stop offset="0.505" stop-color="#e1e351"/><stop offset="0.589" stop-color="#e1e251"/><stop offset="0.672" stop-color="#e1e351"/><stop offset="0.755" stop-color="#e0e551"/><stop offset="0.837" stop-color="#dee850"/><stop offset="0.919" stop-color="#d9ec50"/><stop offset="1" stop-color="#d0ed4f"/></linearGradient>
<linearGradient id="b33" gradientUnits="userSpaceOnUse" x1="2960.7" y1="536.2" x2="3713.7" y2="352.2"><stop offset="0" stop-color="#cbee4f"/><stop offset="0.084" stop-color="#d1ed4f"/><stop offset="0.169" stop-color="#d6ec50"/><stop offset="0.253" stop-color="#daeb50"/><stop offset="0.338" stop-color="#dde950"/><stop offset="0.422" stop-color="#dfe651"/><stop offset="0.505" stop-color="#e1e351"/><stop offset="0.589" stop-color="#e1e251"/><stop offset="0.672" stop-color="#e1e351"/><stop offset="0.755" stop-color="#e0e451"/><stop offset="0.837" stop-color="#dee850"/><stop offset="0.919" stop-color="#d9eb50"/><stop offset="1" stop-color="#d1ed4f"/></linearGradient>
<linearGradient id="b34" gradientUnits="userSpaceOnUse" x1="2979.6" y1="541.2" x2="3732.5" y2="355.3"><stop offset="0" stop-color="#cbee4f"/><stop offset="0.084" stop-color="#d0ed4f"/><stop offset="0.169" stop-color="#d5ec50"/><stop offset="0.253" stop-color="#daeb50"/><stop offset="0.338" stop-color="#dde950"/><stop offset="0.422" stop-color="#dfe651"/><stop offset="0.505" stop-color="#e1e351"/><stop offset="0.589" stop-color="#e2e251"/><stop offset="0.672" stop-color="#e2e251"/><stop offset="0.755" stop-color="#e0e451"/><stop offset="0.837" stop-color="#dee751"/><stop offset="0.919" stop-color="#daeb50"/><stop offset="1" stop-color="#d1ed4f"/></linearGradient>
<linearGradient id="b35" gradientUnits="userSpaceOnUse" x1="2998.4" y1="546.3" x2="3751.3" y2="358.3"><stop offset="0" stop-color="#cbee4f"/><stop offset="0.084" stop-color="#d0ed4f"/><stop offset="0.169" stop-color="#d5ec50"/><stop offset="0.253" stop-color="#daeb50"/><stop offset="0.338" stop-color="#dde950"/><stop offset="0.422" stop-color="#dfe651"/><stop offset="0.505" stop-color="#e1e351"/><stop offset="0.589" stop-color="#e2e251"/><stop offset="0.672" stop-color="#e2e251"/><stop offset="0.755" stop-color="#e1e451"/><stop offset="0.837" stop-color="#dfe751"/><stop offset="0.919" stop-color="#daeb50"/><stop offset="1" stop-color="#d1ed4f"/></linearGradient>
<linearGradient id="b36" gradientUnits="userSpaceOnUse" x1="3017.4" y1="551.3" x2="3770.2" y2="361.4"><stop offset="0" stop-color="#caee4f"/><stop offset="0.084" stop-color="#cfed4f"/><stop offset="0.169" stop-color="#d4ec50"/><stop offset="0.253" stop-color="#d9eb50"/><stop offset="0.338" stop-color="#dde950"/><stop offset="0.422" stop-color="#dfe651"/><stop offset="0.506" stop-color="#e1e351"/><stop offset="0.589" stop-color="#e2e251"/><stop offset="0.672" stop-color="#e2e251"/><stop offset="0.755" stop-color="#e1e351"/><stop offset="0.837" stop-color="#dfe751"/><stop offset="0.919" stop-color="#dbeb50"/><stop offset="1" stop-color="#d2ed4f"/></linearGradient>
<linearGradient id="b37" gradientUnits="userSpaceOnUse" x1="3036.2" y1="556.4" x2="3789" y2="364.4"><stop offset="0" stop-color="#caee4f"/><stop offset="0.084" stop-color="#cfed4f"/><stop offset="0.169" stop-color="#d4ec50"/><stop offset="0.253" stop-color="#d9ec50"/><stop offset="0.338" stop-color="#ddea50"/><stop offset="0.422" stop-color="#dfe651"/><stop offset="0.506" stop-color="#e1e351"/><stop offset="0.589" stop-color="#e2e251"/><stop offset="0.672" stop-color="#e2e251"/><stop offset="0.755" stop-color="#e1e351"/><stop offset="0.837" stop-color="#dfe651"/><stop offset="0.919" stop-color="#dbeb50"/><stop offset="1" stop-color="#d2ed50"/></linearGradient>
<linearGradient id="b38" gradientUnits="userSpaceOnUse" x1="3055.1" y1="561.5" x2="3807.8" y2="367.4"><stop offset="0" stop-color="#c9ee4f"/><stop offset="0.084" stop-color="#ceed4f"/><stop offset="0.169" stop-color="#d4ec50"/><stop offset="0.253" stop-color="#d9ec50"/><stop offset="0.338" stop-color="#ddea50"/><stop offset="0.422" stop-color="#dfe651"/><stop offset="0.506" stop-color="#e1e351"/><stop offset="0.589" stop-color="#e2e251"/><stop offset="0.672" stop-color="#e2e151"/><stop offset="0.755" stop-color="#e1e351"/><stop offset="0.837" stop-color="#dfe651"/><stop offset="0.919" stop-color="#dceb50"/><stop offset="1" stop-color="#d3ed50"/></linearGradient>
<linearGradient id="b39" gradientUnits="userSpaceOnUse" x1="3074.1" y1="566.6" x2="3826.6" y2="370.5"><stop offset="0" stop-color="#c9ee4f"/><stop offset="0.084" stop-color="#ceed4f"/><stop offset="0.169" stop-color="#d3ed50"/><stop offset="0.253" stop-color="#d8ec50"/><stop offset="0.338" stop-color="#ddea50"/><stop offset="0.422" stop-color="#dfe651"/><stop offset="0.506" stop-color="#e1e351"/><stop offset="0.589" stop-color="#e2e251"/><stop offset="0.673" stop-color="#e2e151"/><stop offset="0.755" stop-color="#e2e251"/><stop offset="0.838" stop-color="#e0e551"/><stop offset="0.919" stop-color="#dceb50"/><stop offset="1" stop-color="#d3ed50"/></linearGradient>
<clipPath id="csb"><path d="M2327.5 361.2 C2579.5 298.4 2831.5 271.9 3083.5 252 C3334.3 290.6 3585.2 331.5 3836 372 C3585.2 403 3334.3 490.8 3083.5 569.2 C2831.5 500.6 2579.5 438.5 2327.5 361.2Z"/></clipPath>
<filter id="blb0" x="-5%" y="-60%" width="110%" height="220%"><feGaussianBlur stdDeviation="20"/></filter>
<clipPath id="flc"><path d="M418 2012 L1155.5 2245 L1890 2012 L1155.5 1832Z"/></clipPath>
<linearGradient id="c0" gradientUnits="userSpaceOnUse" x1="403" y1="1562.7" x2="1165.1" y2="1458.2"><stop offset="0" stop-color="#a9f34e"/><stop offset="0.085" stop-color="#b1f24e"/><stop offset="0.17" stop-color="#b6f24e"/><stop offset="0.254" stop-color="#b8f14e"/><stop offset="0.337" stop-color="#b8f14e"/><stop offset="0.421" stop-color="#b5f24e"/><stop offset="0.504" stop-color="#b1f24e"/><stop offset="0.587" stop-color="#abf34e"/><stop offset="0.67" stop-color="#a4f44f"/><stop offset="0.752" stop-color="#9bf54f"/><stop offset="0.835" stop-color="#92f64f"/><stop offset="0.917" stop-color="#89f850"/><stop offset="1" stop-color="#84f851"/></linearGradient>
<linearGradient id="c1" gradientUnits="userSpaceOnUse" x1="422.1" y1="1566" x2="1184.2" y2="1457.7"><stop offset="0" stop-color="#abf34e"/><stop offset="0.085" stop-color="#b2f24e"/><stop offset="0.17" stop-color="#b8f14e"/><stop offset="0.254" stop-color="#baf14e"/><stop offset="0.338" stop-color="#baf14e"/><stop offset="0.421" stop-color="#b8f14e"/><stop offset="0.504" stop-color="#b3f24e"/><stop offset="0.587" stop-color="#aef34e"/><stop offset="0.67" stop-color="#a7f44f"/><stop offset="0.753" stop-color="#9ff54f"/><stop offset="0.835" stop-color="#97f64f"/><stop offset="0.918" stop-color="#8ef750"/><stop offset="1" stop-color="#86f850"/></linearGradient>
<linearGradient id="c2" gradientUnits="userSpaceOnUse" x1="441.1" y1="1569.2" x2="1203.4" y2="1457.3"><stop offset="0" stop-color="#acf34e"/><stop offset="0.085" stop-color="#b4f24e"/><stop offset="0.17" stop-color="#baf14e"/><stop offset="0.254" stop-color="#bdf14e"/><stop offset="0.338" stop-color="#bdf04e"/><stop offset="0.421" stop-color="#bbf14e"/><stop offset="0.504" stop-color="#b6f24e"/><stop offset="0.587" stop-color="#b1f24e"/><stop offset="0.67" stop-color="#abf34e"/><stop offset="0.753" stop-color="#a3f44f"/><stop offset="0.835" stop-color="#9bf54f"/><stop offset="0.918" stop-color="#92f64f"/><stop offset="1" stop-color="#89f850"/></linearGradient>
<linearGradient id="c3" gradientUnits="userSpaceOnUse" x1="460.2" y1="1572.5" x2="1222.6" y2="1456.9"><stop offset="0" stop-color="#aef34e"/><stop offset="0.085" stop-color="#b6f24e"/><stop offset="0.17" stop-color="#bcf14e"/><stop offset="0.254" stop-color="#bff04f"/><stop offset="0.338" stop-color="#bff04f"/><stop offset="0.421" stop-color="#bef04e"/><stop offset="0.504" stop-color="#baf14e"/><stop offset="0.587" stop-color="#b4f24e"/><stop offset="0.67" stop-color="#aef34e"/><stop offset="0.753" stop-color="#a7f44f"/><stop offset="0.835" stop-color="#9ff54f"/><stop offset="0.918" stop-color="#97f64f"/><stop offset="1" stop-color="#8ef750"/></linearGradient>
<linearGradient id="c4" gradientUnits="userSpaceOnUse" x1="479.2" y1="1575.7" x2="1241.7" y2="1456.7"><stop offset="0" stop-color="#b0f34e"/><stop offset="0.085" stop-color="#b8f14e"/><stop offset="0.17" stop-color="#bef04e"/><stop offset="0.254" stop-color="#c1f04f"/><stop offset="0.338" stop-color="#c2f04f"/><stop offset="0.421" stop-color="#c0f04f"/><stop offset="0.504" stop-color="#bdf04e"/><stop offset="0.587" stop-color="#b8f14e"/><stop offset="0.67" stop-color="#b1f24e"/><stop offset="0.753" stop-color="#abf34e"/><stop offset="0.835" stop-color="#a3f44f"/><stop offset="0.918" stop-color="#9bf54f"/><stop offset="1" stop-color="#93f64f"/></linearGradient>
<linearGradient id="c5" gradientUnits="userSpaceOnUse" x1="498.3" y1="1578.9" x2="1260.9" y2="1456.5"><stop offset="0" stop-color="#b1f24e"/><stop offset="0.085" stop-color="#baf14e"/><stop offset="0.17" stop-color="#c0f04f"/><stop offset="0.254" stop-color="#c3ef4f"/><stop offset="0.338" stop-color="#c4ef4f"/><stop offset="0.421" stop-color="#c3ef4f"/><stop offset="0.505" stop-color="#c0f04f"/><stop offset="0.587" stop-color="#bbf14e"/><stop offset="0.67" stop-color="#b5f24e"/><stop offset="0.753" stop-color="#aef34e"/><stop offset="0.835" stop-color="#a7f44f"/><stop offset="0.918" stop-color="#9ff54f"/><stop offset="1" stop-color="#97f64f"/></linearGradient>
<linearGradient id="c6" gradientUnits="userSpaceOnUse" x1="517.3" y1="1582.1" x2="1280.1" y2="1456.4"><stop offset="0" stop-color="#b3f24e"/><stop offset="0.085" stop-color="#bcf14e"/><stop offset="0.17" stop-color="#c2f04f"/><stop offset="0.254" stop-color="#c5ef4f"/><stop offset="0.338" stop-color="#c7ef4f"/><stop offset="0.421" stop-color="#c6ef4f"/><stop offset="0.505" stop-color="#c3ef4f"/><stop offset="0.588" stop-color="#bff04f"/><stop offset="0.67" stop-color="#b9f14e"/><stop offset="0.753" stop-color="#b2f24e"/><stop offset="0.835" stop-color="#abf34e"/><stop offset="0.918" stop-color="#a3f44f"/><stop offset="1" stop-color="#9bf54f"/></linearGradient>
<linearGradient id="c7" gradientUnits="userSpaceOnUse" x1="536.4" y1="1585.3" x2="1299.2" y2="1456.4"><stop offset="0" stop-color="#b5f24e"/><stop offset="0.085" stop-color="#bef04e"/><stop offset="0.17" stop-color="#c4ef4f"/><stop offset="0.254" stop-color="#c8ef4f"/><stop offset="0.338" stop-color="#c9ee4f"/><stop offset="0.421" stop-color="#c9ee4f"/><stop offset="0.505" stop-color="#c6ef4f"/><stop offset="0.588" stop-color="#c2f04f"/><stop offset="0.67" stop-color="#bcf14e"/><stop offset="0.753" stop-color="#b5f24e"/><stop offset="0.835" stop-color="#aff34e"/><stop offset="0.918" stop-color="#a7f44f"/><stop offset="1" stop-color="#9ff54f"/></linearGradient>
<linearGradient id="c8" gradientUnits="userSpaceOnUse" x1="555.4" y1="1588.4" x2="1318.4" y2="1456.4"><stop offset="0" stop-color="#b7f24e"/><stop offset="0.085" stop-color="#c0f04f"/><stop offset="0.17" stop-color="#c6ef4f"/><stop offset="0.254" stop-color="#caee4f"/><stop offset="0.338" stop-color="#cbee4f"/><stop offset="0.421" stop-color="#cbee4f"/><stop offset="0.505" stop-color="#c9ee4f"/><stop offset="0.588" stop-color="#c5ef4f"/><stop offset="0.67" stop-color="#c0f04f"/><stop offset="0.753" stop-color="#b9f14e"/><stop offset="0.835" stop-color="#b2f24e"/><stop offset="0.918" stop-color="#abf34e"/><stop offset="1" stop-color="#a3f44f"/></linearGradient>
<linearGradient id="c9" gradientUnits="userSpaceOnUse" x1="574.5" y1="1591.6" x2="1337.5" y2="1456.6"><stop offset="0" stop-color="#b9f14e"/><stop offset="0.085" stop-color="#c1f04f"/><stop offset="0.17" stop-color="#c8ef4f"/><stop offset="0.254" stop-color="#ccee4f"/><stop offset="0.338" stop-color="#ceed4f"/><stop offset="0.421" stop-color="#ceee4f"/><stop offset="0.505" stop-color="#ccee4f"/><stop offset="0.588" stop-color="#c8ee4f"/><stop offset="0.671" stop-color="#c3ef4f"/><stop offset="0.753" stop-color="#bdf04e"/><stop offset="0.835" stop-color="#b6f24e"/><stop offset="0.918" stop-color="#aff34e"/><stop offset="1" stop-color="#a7f44f"/></linearGradient>
<linearGradient id="c10" gradientUnits="userSpaceOnUse" x1="593.5" y1="1594.8" x2="1356.7" y2="1456.8"><stop offset="0" stop-color="#bbf14e"/><stop offset="0.085" stop-color="#c3ef4f"/><stop offset="0.17" stop-color="#caee4f"/><stop offset="0.254" stop-color="#ceed4f"/><stop offset="0.338" stop-color="#d0ed4f"/><stop offset="0.422" stop-color="#d0ed4f"/><stop offset="0.505" stop-color="#cfed4f"/><stop offset="0.588" stop-color="#cbee4f"/><stop offset="0.671" stop-color="#c7ef4f"/><stop offset="0.753" stop-color="#c1f04f"/><stop offset="0.836" stop-color="#baf14e"/><stop offset="0.918" stop-color="#b3f24e"/><stop offset="1" stop-color="#abf34e"/></linearGradient>
<linearGradient id="c11" gradientUnits="userSpaceOnUse" x1="612.6" y1="1598" x2="1375.9" y2="1457.1"><stop offset="0" stop-color="#bdf04e"/><stop offset="0.085" stop-color="#c5ef4f"/><stop offset="0.17" stop-color="#ccee4f"/><stop offset="0.254" stop-color="#d0ed4f"/><stop offset="0.338" stop-color="#d2ed50"/><stop offset="0.422" stop-color="#d3ed50"/><stop offset="0.505" stop-color="#d1ed4f"/><stop offset="0.588" stop-color="#cfed4f"/><stop offset="0.671" stop-color="#caee4f"/><stop offset="0.753" stop-color="#c5ef4f"/><stop offset="0.836" stop-color="#bef04f"/><stop offset="0.918" stop-color="#b6f24e"/><stop offset="1" stop-color="#aff34e"/></linearGradient>
<linearGradient id="c12" gradientUnits="userSpaceOnUse" x1="631.6" y1="1601.2" x2="1395" y2="1457.5"><stop offset="0" stop-color="#bff04f"/><stop offset="0.085" stop-color="#c7ef4f"/><stop offset="0.17" stop-color="#cdee4f"/><stop offset="0.254" stop-color="#d2ed4f"/><stop offset="0.338" stop-color="#d4ec50"/><stop offset="0.422" stop-color="#d5ec50"/><stop offset="0.505" stop-color="#d4ec50"/><stop offset="0.588" stop-color="#d1ed4f"/><stop offset="0.671" stop-color="#ceee4f"/><stop offset="0.753" stop-color="#c8ee4f"/><stop offset="0.836" stop-color="#c2f04f"/><stop offset="0.918" stop-color="#bbf14e"/><stop offset="1" stop-color="#b3f24e"/></linearGradient>
<linearGradient id="c13" gradientUnits="userSpaceOnUse" x1="650.7" y1="1604.4" x2="1414.2" y2="1457.9"><stop offset="0" stop-color="#c0f04f"/><stop offset="0.085" stop-color="#c9ee4f"/><stop offset="0.17" stop-color="#cfed4f"/><stop offset="0.254" stop-color="#d4ec50"/><stop offset="0.338" stop-color="#d6ec50"/><stop offset="0.422" stop-color="#d7ec50"/><stop offset="0.505" stop-color="#d7ec50"/><stop offset="0.588" stop-color="#d4ec50"/><stop offset="0.671" stop-color="#d1ed4f"/><stop offset="0.753" stop-color="#ccee4f"/><stop offset="0.836" stop-color="#c6ef4f"/><stop offset="0.918" stop-color="#bef04f"/><stop offset="1" stop-color="#b6f24e"/></linearGradient>
<linearGradient id="c14" gradientUnits="userSpaceOnUse" x1="669.7" y1="1607.7" x2="1433.4" y2="1458.5"><stop offset="0" stop-color="#c2f04f"/><stop offset="0.085" stop-color="#cbee4f"/><stop offset="0.17" stop-color="#d1ed4f"/><stop offset="0.254" stop-color="#d6ec50"/><stop offset="0.338" stop-color="#d8ec50"/><stop offset="0.422" stop-color="#d9eb50"/><stop offset="0.505" stop-color="#d9ec50"/><stop offset="0.588" stop-color="#d7ec50"/><stop offset="0.671" stop-color="#d4ec50"/><stop offset="0.753" stop-color="#cfed4f"/><stop offset="0.836" stop-color="#c9ee4f"/><stop offset="0.918" stop-color="#c2ef4f"/><stop offset="1" stop-color="#baf14e"/></linearGradient>
<linearGradient id="c15" gradientUnits="userSpaceOnUse" x1="688.8" y1="1610.9" x2="1452.5" y2="1459.1"><stop offset="0" stop-color="#c4ef4f"/><stop offset="0.085" stop-color="#ccee4f"/><stop offset="0.17" stop-color="#d3ed50"/><stop offset="0.254" stop-color="#d7ec50"/><stop offset="0.338" stop-color="#daeb50"/><stop offset="0.422" stop-color="#dceb50"/><stop offset="0.505" stop-color="#dbeb50"/><stop offset="0.588" stop-color="#daeb50"/><stop offset="0.671" stop-color="#d7ec50"/><stop offset="0.753" stop-color="#d2ed50"/><stop offset="0.836" stop-color="#cdee4f"/><stop offset="0.918" stop-color="#c6ef4f"/><stop offset="1" stop-color="#bef04f"/></linearGradient>
<linearGradient id="c16" gradientUnits="userSpaceOnUse" x1="707.8" y1="1614.3" x2="1471.7" y2="1459.8"><stop offset="0" stop-color="#c6ef4f"/><stop offset="0.085" stop-color="#ceed4f"/><stop offset="0.17" stop-color="#d4ec50"/><stop offset="0.254" stop-color="#d9ec50"/><stop offset="0.338" stop-color="#dceb50"/><stop offset="0.422" stop-color="#ddea50"/><stop offset="0.505" stop-color="#dde950"/><stop offset="0.588" stop-color="#dceb50"/><stop offset="0.671" stop-color="#daeb50"/><stop offset="0.753" stop-color="#d5ec50"/><stop offset="0.836" stop-color="#d0ed4f"/><stop offset="0.918" stop-color="#caee4f"/><stop offset="1" stop-color="#c2f04f"/></linearGradient>
<linearGradient id="c17" gradientUnits="userSpaceOnUse" x1="726.9" y1="1617.6" x2="1490.8" y2="1460.5"><stop offset="0" stop-color="#c8ef4f"/><stop offset="0.085" stop-color="#d0ed4f"/><stop offset="0.17" stop-color="#d6ec50"/><stop offset="0.254" stop-color="#dbeb50"/><stop offset="0.338" stop-color="#dde950"/><stop offset="0.422" stop-color="#dee850"/><stop offset="0.505" stop-color="#dee850"/><stop offset="0.588" stop-color="#dee950"/><stop offset="0.671" stop-color="#dceb50"/><stop offset="0.753" stop-color="#d8ec50"/><stop offset="0.836" stop-color="#d3ed50"/><stop offset="0.918" stop-color="#cdee4f"/><stop offset="1" stop-color="#c6ef4f"/></linearGradient>
<linearGradient id="c18" gradientUnits="userSpaceOnUse" x1="745.9" y1="1621" x2="1510" y2="1461.4"><stop offset="0" stop-color="#c9ee4f"/><stop offset="0.085" stop-color="#d1ed4f"/><stop offset="0.17" stop-color="#d7ec50"/><stop offset="0.254" stop-color="#dceb50"/><stop offset="0.338" stop-color="#dee850"/><stop offset="0.422" stop-color="#dfe651"/><stop offset="0.588" stop-color="#dfe651"/><stop offset="0.671" stop-color="#dee850"/><stop offset="0.754" stop-color="#dbeb50"/><stop offset="0.836" stop-color="#d7ec50"/><stop offset="0.918" stop-color="#d0ed4f"/><stop offset="1" stop-color="#c9ee4f"/></linearGradient>
<linearGradient id="c19" gradientUnits="userSpaceOnUse" x1="765" y1="1624.4" x2="1529.2" y2="1462.3"><stop offset="0" stop-color="#cbee4f"/><stop offset="0.085" stop-color="#d3ed50"/><stop offset="0.17" stop-color="#d9ec50"/><stop offset="0.254" stop-color="#dde950"/><stop offset="0.338" stop-color="#dfe651"/><stop offset="0.422" stop-color="#e0e551"/><stop offset="0.505" stop-color="#e0e451"/><stop offset="0.588" stop-color="#e0e451"/><stop offset="0.671" stop-color="#dfe651"/><stop offset="0.754" stop-color="#dde950"/><stop offset="0.836" stop-color="#daeb50"/><stop offset="0.918" stop-color="#d4ec50"/><stop offset="1" stop-color="#cdee4f"/></linearGradient>
<linearGradient id="c20" gradientUnits="userSpaceOnUse" x1="784" y1="1627.9" x2="1548.3" y2="1463.3"><stop offset="0" stop-color="#ccee4f"/><stop offset="0.085" stop-color="#d4ec50"/><stop offset="0.17" stop-color="#daeb50"/><stop offset="0.254" stop-color="#dee850"/><stop offset="0.338" stop-color="#e0e551"/><stop offset="0.422" stop-color="#e1e351"/><stop offset="0.505" stop-color="#e2e251"/><stop offset="0.588" stop-color="#e1e351"/><stop offset="0.671" stop-color="#e0e451"/><stop offset="0.754" stop-color="#dfe751"/><stop offset="0.836" stop-color="#dceb50"/><stop offset="0.918" stop-color="#d7ec50"/><stop offset="1" stop-color="#d0ed4f"/></linearGradient>
<linearGradient id="c21" gradientUnits="userSpaceOnUse" x1="803.1" y1="1631.5" x2="1567.5" y2="1464.4"><stop offset="0" stop-color="#ceee4f"/><stop offset="0.085" stop-color="#d5ec50"/><stop offset="0.169" stop-color="#dbeb50"/><stop offset="0.254" stop-color="#dee751"/><stop offset="0.338" stop-color="#e1e451"/><stop offset="0.421" stop-color="#e2e251"/><stop offset="0.505" stop-color="#e3e151"/><stop offset="0.588" stop-color="#e2e151"/><stop offset="0.671" stop-color="#e2e251"/><stop offset="0.754" stop-color="#e0e451"/><stop offset="0.836" stop-color="#dee850"/><stop offset="0.918" stop-color="#daeb50"/><stop offset="1" stop-color="#d3ed50"/></linearGradient>
<linearGradient id="c22" gradientUnits="userSpaceOnUse" x1="822.1" y1="1635.1" x2="1586.7" y2="1465.5"><stop offset="0" stop-color="#cfed4f"/><stop offset="0.085" stop-color="#d6ec50"/><stop offset="0.169" stop-color="#dcea50"/><stop offset="0.254" stop-color="#dfe651"/><stop offset="0.338" stop-color="#e1e351"/><stop offset="0.421" stop-color="#e3e052"/><stop offset="0.505" stop-color="#e4df52"/><stop offset="0.588" stop-color="#e4df52"/><stop offset="0.671" stop-color="#e3e052"/><stop offset="0.754" stop-color="#e2e251"/><stop offset="0.836" stop-color="#dfe651"/><stop offset="0.918" stop-color="#dcea50"/><stop offset="1" stop-color="#d6ec50"/></linearGradient>
<linearGradient id="c23" gradientUnits="userSpaceOnUse" x1="841.2" y1="1638.8" x2="1605.8" y2="1466.7"><stop offset="0" stop-color="#d0ed4f"/><stop offset="0.085" stop-color="#d8ec50"/><stop offset="0.169" stop-color="#dde950"/><stop offset="0.254" stop-color="#e0e551"/><stop offset="0.338" stop-color="#e2e151"/><stop offset="0.421" stop-color="#e4df52"/><stop offset="0.505" stop-color="#e4de52"/><stop offset="0.588" stop-color="#e5dd52"/><stop offset="0.671" stop-color="#e4de52"/><stop offset="0.754" stop-color="#e3e052"/><stop offset="0.836" stop-color="#e1e351"/><stop offset="0.918" stop-color="#dee850"/><stop offset="1" stop-color="#d9ec50"/></linearGradient>
<linearGradient id="c24" gradientUnits="userSpaceOnUse" x1="860.2" y1="1642.5" x2="1625" y2="1468"><stop offset="0" stop-color="#d1ed4f"/><stop offset="0.085" stop-color="#d9ec50"/><stop offset="0.169" stop-color="#dee950"/><stop offset="0.254" stop-color="#e0e451"/><stop offset="0.338" stop-color="#e3e052"/><stop offset="0.421" stop-color="#e4de52"/><stop offset="0.505" stop-color="#e5dc52"/><stop offset="0.588" stop-color="#e6dc52"/><stop offset="0.671" stop-color="#e5dc52"/><stop offset="0.754" stop-color="#e4de52"/><stop offset="0.836" stop-color="#e2e151"/><stop offset="0.918" stop-color="#dfe651"/><stop offset="1" stop-color="#dceb50"/></linearGradient>
<linearGradient id="c25" gradientUnits="userSpaceOnUse" x1="879.3" y1="1646.3" x2="1644.1" y2="1469.4"><stop offset="0" stop-color="#d2ed50"/><stop offset="0.085" stop-color="#d9eb50"/><stop offset="0.169" stop-color="#dee850"/><stop offset="0.254" stop-color="#e1e351"/><stop offset="0.338" stop-color="#e3df52"/><stop offset="0.421" stop-color="#e5dd52"/><stop offset="0.505" stop-color="#e6db52"/><stop offset="0.588" stop-color="#e7da52"/><stop offset="0.671" stop-color="#e6db52"/><stop offset="0.754" stop-color="#e5dc52"/><stop offset="0.836" stop-color="#e3df52"/><stop offset="0.918" stop-color="#e1e351"/><stop offset="1" stop-color="#dde950"/></linearGradient>
<linearGradient id="c26" gradientUnits="userSpaceOnUse" x1="898.3" y1="1650.2" x2="1663.3" y2="1470.8"><stop offset="0" stop-color="#d3ed50"/><stop offset="0.085" stop-color="#daeb50"/><stop offset="0.169" stop-color="#dee751"/><stop offset="0.253" stop-color="#e1e251"/><stop offset="0.338" stop-color="#e4df52"/><stop offset="0.421" stop-color="#e6dc52"/><stop offset="0.505" stop-color="#e7da52"/><stop offset="0.588" stop-color="#e7d953"/><stop offset="0.671" stop-color="#e7d953"/><stop offset="0.754" stop-color="#e6da52"/><stop offset="0.836" stop-color="#e5dd52"/><stop offset="0.918" stop-color="#e2e151"/><stop offset="1" stop-color="#dfe751"/></linearGradient>
<linearGradient id="c27" gradientUnits="userSpaceOnUse" x1="917.4" y1="1654.2" x2="1682.5" y2="1472.3"><stop offset="0" stop-color="#d4ec50"/><stop offset="0.085" stop-color="#dbeb50"/><stop offset="0.169" stop-color="#dfe651"/><stop offset="0.253" stop-color="#e2e251"/><stop offset="0.337" stop-color="#e4de52"/><stop offset="0.421" stop-color="#e6db52"/><stop offset="0.505" stop-color="#e8d953"/><stop offset="0.588" stop-color="#e8d853"/><stop offset="0.671" stop-color="#e8d853"/><stop offset="0.754" stop-color="#e7d953"/><stop offset="0.836" stop-color="#e6db52"/><stop offset="0.918" stop-color="#e3df52"/><stop offset="1" stop-color="#e0e551"/></linearGradient>
<linearGradient id="c28" gradientUnits="userSpaceOnUse" x1="936.4" y1="1658.3" x2="1701.6" y2="1473.9"><stop offset="0" stop-color="#d5ec50"/><stop offset="0.085" stop-color="#dceb50"/><stop offset="0.169" stop-color="#dfe651"/><stop offset="0.253" stop-color="#e2e151"/><stop offset="0.337" stop-color="#e5dd52"/><stop offset="0.421" stop-color="#e7da52"/><stop offset="0.505" stop-color="#e8d853"/><stop offset="0.588" stop-color="#e9d653"/><stop offset="0.671" stop-color="#e9d653"/><stop offset="0.754" stop-color="#e8d753"/><stop offset="0.836" stop-color="#e7d953"/><stop offset="0.918" stop-color="#e5dd52"/><stop offset="1" stop-color="#e1e351"/></linearGradient>
<linearGradient id="c29" gradientUnits="userSpaceOnUse" x1="955.5" y1="1662.4" x2="1720.8" y2="1475.5"><stop offset="0" stop-color="#d6ec50"/><stop offset="0.085" stop-color="#dceb50"/><stop offset="0.169" stop-color="#dfe651"/><stop offset="0.253" stop-color="#e2e151"/><stop offset="0.337" stop-color="#e5dd52"/><stop offset="0.421" stop-color="#e7d953"/><stop offset="0.505" stop-color="#e9d753"/><stop offset="0.588" stop-color="#ead553"/><stop offset="0.671" stop-color="#ead553"/><stop offset="0.754" stop-color="#e9d653"/><stop offset="0.836" stop-color="#e8d853"/><stop offset="0.918" stop-color="#e6db52"/><stop offset="1" stop-color="#e3e151"/></linearGradient>
<linearGradient id="c30" gradientUnits="userSpaceOnUse" x1="974.5" y1="1666.7" x2="1740" y2="1477.3"><stop offset="0" stop-color="#d6ec50"/><stop offset="0.085" stop-color="#dceb50"/><stop offset="0.169" stop-color="#e0e551"/><stop offset="0.253" stop-color="#e3e052"/><stop offset="0.337" stop-color="#e5dc52"/><stop offset="0.421" stop-color="#e8d953"/><stop offset="0.505" stop-color="#e9d653"/><stop offset="0.588" stop-color="#ead453"/><stop offset="0.671" stop-color="#ebd453"/><stop offset="0.754" stop-color="#ead453"/><stop offset="0.836" stop-color="#e9d653"/><stop offset="0.918" stop-color="#e7da52"/><stop offset="1" stop-color="#e4df52"/></linearGradient>
<linearGradient id="c31" gradientUnits="userSpaceOnUse" x1="993.6" y1="1671.1" x2="1759.1" y2="1479.1"><stop offset="0" stop-color="#d6ec50"/><stop offset="0.085" stop-color="#dcea50"/><stop offset="0.169" stop-color="#e0e551"/><stop offset="0.253" stop-color="#e3e052"/><stop offset="0.337" stop-color="#e6dc52"/><stop offset="0.421" stop-color="#e8d853"/><stop offset="0.505" stop-color="#ead553"/><stop offset="0.588" stop-color="#ebd353"/><stop offset="0.671" stop-color="#ebd254"/><stop offset="0.754" stop-color="#ebd353"/><stop offset="0.836" stop-color="#ead553"/><stop offset="0.918" stop-color="#e8d853"/><stop offset="1" stop-color="#e5dd52"/></linearGradient>
<linearGradient id="c32" gradientUnits="userSpaceOnUse" x1="1012.6" y1="1675.5" x2="1778.3" y2="1480.9"><stop offset="0" stop-color="#d7ec50"/><stop offset="0.084" stop-color="#dcea50"/><stop offset="0.169" stop-color="#e0e551"/><stop offset="0.253" stop-color="#e3e052"/><stop offset="0.337" stop-color="#e6dc52"/><stop offset="0.421" stop-color="#e8d853"/><stop offset="0.505" stop-color="#ead553"/><stop offset="0.588" stop-color="#ebd353"/><stop offset="0.671" stop-color="#ecd154"/><stop offset="0.754" stop-color="#ecd254"/><stop offset="0.836" stop-color="#ebd353"/><stop offset="0.918" stop-color="#e9d653"/><stop offset="1" stop-color="#e6db52"/></linearGradient>
<linearGradient id="c33" gradientUnits="userSpaceOnUse" x1="1031.7" y1="1680.1" x2="1797.4" y2="1482.8"><stop offset="0" stop-color="#d7ec50"/><stop offset="0.084" stop-color="#dcea50"/><stop offset="0.169" stop-color="#e0e551"/><stop offset="0.253" stop-color="#e3e052"/><stop offset="0.337" stop-color="#e6db52"/><stop offset="0.421" stop-color="#e8d753"/><stop offset="0.505" stop-color="#ead453"/><stop offset="0.588" stop-color="#ecd254"/><stop offset="0.671" stop-color="#edd154"/><stop offset="0.754" stop-color="#edd154"/><stop offset="0.837" stop-color="#ecd254"/><stop offset="0.919" stop-color="#ead553"/><stop offset="1" stop-color="#e7da52"/></linearGradient>
<linearGradient id="c34" gradientUnits="userSpaceOnUse" x1="1050.7" y1="1684.8" x2="1816.6" y2="1484.8"><stop offset="0" stop-color="#d7ec50"/><stop offset="0.084" stop-color="#dcea50"/><stop offset="0.169" stop-color="#e0e551"/><stop offset="0.253" stop-color="#e3e052"/><stop offset="0.337" stop-color="#e6db52"/><stop offset="0.421" stop-color="#e8d753"/><stop offset="0.505" stop-color="#ebd453"/><stop offset="0.588" stop-color="#ecd154"/><stop offset="0.671" stop-color="#edd054"/><stop offset="0.754" stop-color="#edcf54"/><stop offset="0.837" stop-color="#edd154"/><stop offset="0.919" stop-color="#ebd353"/><stop offset="1" stop-color="#e8d853"/></linearGradient>
<linearGradient id="c35" gradientUnits="userSpaceOnUse" x1="1069.8" y1="1689.7" x2="1835.8" y2="1486.9"><stop offset="0" stop-color="#d6ec50"/><stop offset="0.084" stop-color="#dceb50"/><stop offset="0.169" stop-color="#e0e551"/><stop offset="0.253" stop-color="#e3e052"/><stop offset="0.337" stop-color="#e6dc52"/><stop offset="0.421" stop-color="#e8d753"/><stop offset="0.505" stop-color="#ebd453"/><stop offset="0.588" stop-color="#ecd154"/><stop offset="0.671" stop-color="#eecf54"/><stop offset="0.754" stop-color="#eecf54"/><stop offset="0.837" stop-color="#edd054"/><stop offset="0.919" stop-color="#ecd254"/><stop offset="1" stop-color="#e9d753"/></linearGradient>
<linearGradient id="c36" gradientUnits="userSpaceOnUse" x1="1088.8" y1="1694.6" x2="1854.9" y2="1489"><stop offset="0" stop-color="#d6ec50"/><stop offset="0.084" stop-color="#dceb50"/><stop offset="0.169" stop-color="#dfe651"/><stop offset="0.253" stop-color="#e3e151"/><stop offset="0.337" stop-color="#e6dc52"/><stop offset="0.421" stop-color="#e8d753"/><stop offset="0.505" stop-color="#ebd353"/><stop offset="0.588" stop-color="#edd054"/><stop offset="0.671" stop-color="#eece54"/><stop offset="0.837" stop-color="#eece54"/><stop offset="0.919" stop-color="#ecd154"/><stop offset="1" stop-color="#ead553"/></linearGradient>
<linearGradient id="c37" gradientUnits="userSpaceOnUse" x1="1107.9" y1="1699.7" x2="1874.1" y2="1491.2"><stop offset="0" stop-color="#d6ec50"/><stop offset="0.084" stop-color="#dbeb50"/><stop offset="0.168" stop-color="#dfe651"/><stop offset="0.253" stop-color="#e2e151"/><stop offset="0.337" stop-color="#e5dc52"/><stop offset="0.421" stop-color="#e8d753"/><stop offset="0.505" stop-color="#ebd353"/><stop offset="0.588" stop-color="#edd054"/><stop offset="0.671" stop-color="#eece54"/><stop offset="0.754" stop-color="#efcd54"/><stop offset="0.837" stop-color="#efce54"/><stop offset="0.919" stop-color="#edd054"/><stop offset="1" stop-color="#ead453"/></linearGradient>
<linearGradient id="c38" gradientUnits="userSpaceOnUse" x1="1126.9" y1="1704.9" x2="1893.3" y2="1493.5"><stop offset="0" stop-color="#d5ec50"/><stop offset="0.084" stop-color="#dbeb50"/><stop offset="0.168" stop-color="#dfe751"/><stop offset="0.253" stop-color="#e2e251"/><stop offset="0.337" stop-color="#e5dc52"/><stop offset="0.421" stop-color="#e8d853"/><stop offset="0.505" stop-color="#ebd353"/><stop offset="0.588" stop-color="#edd054"/><stop offset="0.671" stop-color="#efcd54"/><stop offset="0.754" stop-color="#efcc54"/><stop offset="0.837" stop-color="#efcd54"/><stop offset="0.919" stop-color="#eecf54"/><stop offset="1" stop-color="#ebd353"/></linearGradient>
<linearGradient id="c39" gradientUnits="userSpaceOnUse" x1="1146" y1="1710.3" x2="1912.4" y2="1495.8"><stop offset="0" stop-color="#d4ec50"/><stop offset="0.084" stop-color="#daeb50"/><stop offset="0.168" stop-color="#dee850"/><stop offset="0.253" stop-color="#e1e251"/><stop offset="0.337" stop-color="#e5dd52"/><stop offset="0.421" stop-color="#e8d853"/><stop offset="0.505" stop-color="#ebd453"/><stop offset="0.588" stop-color="#edd054"/><stop offset="0.672" stop-color="#efcd54"/><stop offset="0.754" stop-color="#f0cc54"/><stop offset="0.837" stop-color="#f0cc54"/><stop offset="0.919" stop-color="#eece54"/><stop offset="1" stop-color="#ecd254"/></linearGradient>
<clipPath id="csc"><path d="M393.5 1561 C647.5 1482.5 901.5 1474.5 1155.5 1458.5 C1411 1450.5 1666.5 1465.1 1922 1497 C1666.5 1540.8 1411 1633 1155.5 1713 C901.5 1639.6 647.5 1605.5 393.5 1561Z"/></clipPath>
<filter id="blc0" x="-5%" y="-60%" width="110%" height="220%"><feGaussianBlur stdDeviation="16"/></filter>
<clipPath id="fld"><path d="M2336.6 2013.3 L3079 2246.3 L3820.7 2012.4 L3079 1833Z"/></clipPath>
<linearGradient id="d0" gradientUnits="userSpaceOnUse" x1="2336.9" y1="1766.6" x2="3086.8" y2="1317.9"><stop offset="0" stop-color="#439ffa"/><stop offset="0.102" stop-color="#61efc3"/><stop offset="0.2" stop-color="#6bf663"/><stop offset="0.294" stop-color="#7cf852"/><stop offset="0.385" stop-color="#9bf54f"/><stop offset="0.473" stop-color="#c4ef4f"/><stop offset="0.558" stop-color="#e4de52"/><stop offset="0.639" stop-color="#f1ba56"/><stop offset="0.718" stop-color="#ec8859"/><stop offset="0.793" stop-color="#e86b5b"/><stop offset="0.865" stop-color="#e45d5d"/><stop offset="0.934" stop-color="#e3595d"/><stop offset="1" stop-color="#e45d5d"/></linearGradient>
<linearGradient id="d1" gradientUnits="userSpaceOnUse" x1="2355.6" y1="1771.8" x2="3106.3" y2="1320.4"><stop offset="0" stop-color="#439ffa"/><stop offset="0.101" stop-color="#61efc4"/><stop offset="0.199" stop-color="#6bf663"/><stop offset="0.294" stop-color="#7cf852"/><stop offset="0.385" stop-color="#9af54f"/><stop offset="0.473" stop-color="#c3ef4f"/><stop offset="0.558" stop-color="#e4df52"/><stop offset="0.639" stop-color="#f1bb56"/><stop offset="0.717" stop-color="#ec8859"/><stop offset="0.793" stop-color="#e86b5b"/><stop offset="0.865" stop-color="#e45d5d"/><stop offset="0.934" stop-color="#e3585d"/><stop offset="1" stop-color="#e45c5d"/></linearGradient>
<linearGradient id="d2" gradientUnits="userSpaceOnUse" x1="2374.3" y1="1777.1" x2="3125.8" y2="1323"><stop offset="0" stop-color="#439ffa"/><stop offset="0.101" stop-color="#61efc5"/><stop offset="0.199" stop-color="#6bf664"/><stop offset="0.294" stop-color="#7bf852"/><stop offset="0.385" stop-color="#99f64f"/><stop offset="0.473" stop-color="#c2f04f"/><stop offset="0.557" stop-color="#e3df52"/><stop offset="0.639" stop-color="#f1bc56"/><stop offset="0.717" stop-color="#ed8959"/><stop offset="0.792" stop-color="#e86c5b"/><stop offset="0.865" stop-color="#e45d5d"/><stop offset="0.934" stop-color="#e3575d"/><stop offset="1" stop-color="#e35b5d"/></linearGradient>
<linearGradient id="d3" gradientUnits="userSpaceOnUse" x1="2393.1" y1="1782.3" x2="3145.3" y2="1325.6"><stop offset="0" stop-color="#439ffa"/><stop offset="0.101" stop-color="#61efc5"/><stop offset="0.199" stop-color="#6bf664"/><stop offset="0.293" stop-color="#7bf852"/><stop offset="0.384" stop-color="#98f64f"/><stop offset="0.472" stop-color="#c1f04f"/><stop offset="0.557" stop-color="#e3e052"/><stop offset="0.639" stop-color="#f1be56"/><stop offset="0.717" stop-color="#ed8a59"/><stop offset="0.792" stop-color="#e86c5b"/><stop offset="0.864" stop-color="#e45d5d"/><stop offset="0.934" stop-color="#e2575d"/><stop offset="1" stop-color="#e35a5d"/></linearGradient>
<linearGradient id="d4" gradientUnits="userSpaceOnUse" x1="2411.8" y1="1787.6" x2="3164.8" y2="1328.3"><stop offset="0" stop-color="#439efa"/><stop offset="0.101" stop-color="#61efc6"/><stop offset="0.199" stop-color="#6bf665"/><stop offset="0.293" stop-color="#7bf852"/><stop offset="0.384" stop-color="#98f64f"/><stop offset="0.472" stop-color="#c0f04f"/><stop offset="0.557" stop-color="#e2e151"/><stop offset="0.638" stop-color="#f1bf56"/><stop offset="0.717" stop-color="#ed8c59"/><stop offset="0.792" stop-color="#e86c5b"/><stop offset="0.864" stop-color="#e45d5d"/><stop offset="0.934" stop-color="#e2575d"/><stop offset="1" stop-color="#e3595d"/></linearGradient>
<linearGradient id="d5" gradientUnits="userSpaceOnUse" x1="2430.6" y1="1792.9" x2="3184.3" y2="1331"><stop offset="0" stop-color="#439efa"/><stop offset="0.101" stop-color="#61efc7"/><stop offset="0.198" stop-color="#6bf665"/><stop offset="0.293" stop-color="#7af853"/><stop offset="0.384" stop-color="#97f64f"/><stop offset="0.472" stop-color="#bff04f"/><stop offset="0.556" stop-color="#e2e251"/><stop offset="0.638" stop-color="#f1c155"/><stop offset="0.716" stop-color="#ed8d59"/><stop offset="0.792" stop-color="#e86d5b"/><stop offset="0.864" stop-color="#e45d5d"/><stop offset="0.934" stop-color="#e2565d"/><stop offset="1" stop-color="#e3585d"/></linearGradient>
<linearGradient id="d6" gradientUnits="userSpaceOnUse" x1="2449.3" y1="1798.3" x2="3203.8" y2="1333.8"><stop offset="0" stop-color="#439efa"/><stop offset="0.101" stop-color="#61efc8"/><stop offset="0.198" stop-color="#6bf666"/><stop offset="0.292" stop-color="#7af853"/><stop offset="0.384" stop-color="#96f64f"/><stop offset="0.471" stop-color="#bef04f"/><stop offset="0.556" stop-color="#e1e351"/><stop offset="0.638" stop-color="#f2c355"/><stop offset="0.716" stop-color="#ed8e59"/><stop offset="0.792" stop-color="#e86d5b"/><stop offset="0.864" stop-color="#e45d5d"/><stop offset="0.934" stop-color="#e2565d"/><stop offset="1" stop-color="#e3585d"/></linearGradient>
<linearGradient id="d7" gradientUnits="userSpaceOnUse" x1="2468" y1="1803.6" x2="3223.4" y2="1336.6"><stop offset="0" stop-color="#439efa"/><stop offset="0.101" stop-color="#61efc9"/><stop offset="0.198" stop-color="#6bf666"/><stop offset="0.292" stop-color="#7af853"/><stop offset="0.383" stop-color="#95f64f"/><stop offset="0.471" stop-color="#bdf04e"/><stop offset="0.556" stop-color="#e1e351"/><stop offset="0.637" stop-color="#f2c555"/><stop offset="0.716" stop-color="#ed9059"/><stop offset="0.791" stop-color="#e86e5b"/><stop offset="0.864" stop-color="#e45e5d"/><stop offset="0.933" stop-color="#e2565d"/><stop offset="1" stop-color="#e2575d"/></linearGradient>
<linearGradient id="d8" gradientUnits="userSpaceOnUse" x1="2486.8" y1="1809" x2="3242.9" y2="1339.4"><stop offset="0" stop-color="#439dfa"/><stop offset="0.1" stop-color="#60eeca"/><stop offset="0.198" stop-color="#6af667"/><stop offset="0.292" stop-color="#79f853"/><stop offset="0.383" stop-color="#94f64f"/><stop offset="0.471" stop-color="#bcf14e"/><stop offset="0.555" stop-color="#e0e451"/><stop offset="0.637" stop-color="#f2c655"/><stop offset="0.716" stop-color="#ed9158"/><stop offset="0.791" stop-color="#e96f5b"/><stop offset="0.864" stop-color="#e45e5d"/><stop offset="0.933" stop-color="#e2565d"/><stop offset="1" stop-color="#e2575d"/></linearGradient>
<linearGradient id="d9" gradientUnits="userSpaceOnUse" x1="2505.5" y1="1814.4" x2="3262.4" y2="1342.3"><stop offset="0" stop-color="#439dfa"/><stop offset="0.1" stop-color="#60eecb"/><stop offset="0.198" stop-color="#6af667"/><stop offset="0.292" stop-color="#79f853"/><stop offset="0.383" stop-color="#93f64f"/><stop offset="0.47" stop-color="#bbf14e"/><stop offset="0.555" stop-color="#e0e551"/><stop offset="0.637" stop-color="#f2c855"/><stop offset="0.715" stop-color="#ed9358"/><stop offset="0.791" stop-color="#e96f5b"/><stop offset="0.864" stop-color="#e45e5d"/><stop offset="0.933" stop-color="#e2565d"/><stop offset="1" stop-color="#e2565d"/></linearGradient>
<linearGradient id="d10" gradientUnits="userSpaceOnUse" x1="2524.2" y1="1819.8" x2="3281.9" y2="1345.2"><stop offset="0" stop-color="#429dfa"/><stop offset="0.1" stop-color="#60eecc"/><stop offset="0.197" stop-color="#6af668"/><stop offset="0.291" stop-color="#79f853"/><stop offset="0.382" stop-color="#92f750"/><stop offset="0.47" stop-color="#baf14e"/><stop offset="0.555" stop-color="#dfe651"/><stop offset="0.637" stop-color="#f1c955"/><stop offset="0.715" stop-color="#ed9458"/><stop offset="0.791" stop-color="#e9705b"/><stop offset="0.864" stop-color="#e45f5d"/><stop offset="0.933" stop-color="#e2565d"/><stop offset="1" stop-color="#e2565d"/></linearGradient>
<linearGradient id="d11" gradientUnits="userSpaceOnUse" x1="2543" y1="1825.2" x2="3301.4" y2="1348.2"><stop offset="0" stop-color="#429cfa"/><stop offset="0.1" stop-color="#60eecd"/><stop offset="0.197" stop-color="#6af668"/><stop offset="0.291" stop-color="#78f853"/><stop offset="0.382" stop-color="#91f750"/><stop offset="0.47" stop-color="#b8f14e"/><stop offset="0.554" stop-color="#dee751"/><stop offset="0.636" stop-color="#f1ca55"/><stop offset="0.715" stop-color="#ee9658"/><stop offset="0.791" stop-color="#e9715b"/><stop offset="0.863" stop-color="#e55f5c"/><stop offset="0.933" stop-color="#e2565d"/><stop offset="1" stop-color="#e2565d"/></linearGradient>
<linearGradient id="d12" gradientUnits="userSpaceOnUse" x1="2561.7" y1="1830.7" x2="3320.9" y2="1351.2"><stop offset="0" stop-color="#429cfa"/><stop offset="0.1" stop-color="#60eece"/><stop offset="0.197" stop-color="#6af669"/><stop offset="0.291" stop-color="#78f853"/><stop offset="0.382" stop-color="#90f750"/><stop offset="0.469" stop-color="#b7f14e"/><stop offset="0.554" stop-color="#dee850"/><stop offset="0.636" stop-color="#f0cb55"/><stop offset="0.715" stop-color="#ee9858"/><stop offset="0.79" stop-color="#e9725b"/><stop offset="0.863" stop-color="#e5605c"/><stop offset="0.933" stop-color="#e2565d"/><stop offset="1" stop-color="#e2555d"/></linearGradient>
<linearGradient id="d13" gradientUnits="userSpaceOnUse" x1="2580.5" y1="1836.2" x2="3340.5" y2="1354.2"><stop offset="0" stop-color="#429bfa"/><stop offset="0.1" stop-color="#5fedd0"/><stop offset="0.197" stop-color="#6af669"/><stop offset="0.29" stop-color="#77f853"/><stop offset="0.381" stop-color="#8ff750"/><stop offset="0.469" stop-color="#b6f24e"/><stop offset="0.554" stop-color="#dde950"/><stop offset="0.636" stop-color="#f0cc54"/><stop offset="0.714" stop-color="#ee9a58"/><stop offset="0.79" stop-color="#ea735b"/><stop offset="0.863" stop-color="#e5605c"/><stop offset="0.933" stop-color="#e2575d"/><stop offset="1" stop-color="#e2555d"/></linearGradient>
<linearGradient id="d14" gradientUnits="userSpaceOnUse" x1="2599.2" y1="1841.7" x2="3360" y2="1357.2"><stop offset="0" stop-color="#429bfa"/><stop offset="0.1" stop-color="#5fedd1"/><stop offset="0.196" stop-color="#6af56a"/><stop offset="0.29" stop-color="#77f853"/><stop offset="0.381" stop-color="#8ef750"/><stop offset="0.469" stop-color="#b5f24e"/><stop offset="0.553" stop-color="#dcea50"/><stop offset="0.635" stop-color="#efcd54"/><stop offset="0.714" stop-color="#ee9c58"/><stop offset="0.79" stop-color="#ea745a"/><stop offset="0.863" stop-color="#e5615c"/><stop offset="0.933" stop-color="#e2575d"/><stop offset="1" stop-color="#e2555d"/></linearGradient>
<linearGradient id="d15" gradientUnits="userSpaceOnUse" x1="2617.9" y1="1847.2" x2="3379.5" y2="1360.2"><stop offset="0" stop-color="#429afa"/><stop offset="0.1" stop-color="#5fedd2"/><stop offset="0.196" stop-color="#6af56b"/><stop offset="0.29" stop-color="#76f853"/><stop offset="0.381" stop-color="#8df750"/><stop offset="0.468" stop-color="#b4f24e"/><stop offset="0.553" stop-color="#dbeb50"/><stop offset="0.635" stop-color="#eece54"/><stop offset="0.714" stop-color="#ee9e58"/><stop offset="0.79" stop-color="#ea755a"/><stop offset="0.863" stop-color="#e5625c"/><stop offset="0.933" stop-color="#e2575d"/><stop offset="1" stop-color="#e2555d"/></linearGradient>
<linearGradient id="d16" gradientUnits="userSpaceOnUse" x1="2636.7" y1="1852.7" x2="3399" y2="1363.3"><stop offset="0" stop-color="#4299fa"/><stop offset="0.099" stop-color="#5fedd4"/><stop offset="0.196" stop-color="#6af56b"/><stop offset="0.289" stop-color="#76f853"/><stop offset="0.38" stop-color="#8cf750"/><stop offset="0.468" stop-color="#b2f24e"/><stop offset="0.553" stop-color="#daeb50"/><stop offset="0.635" stop-color="#eecf54"/><stop offset="0.714" stop-color="#eea058"/><stop offset="0.79" stop-color="#ea765a"/><stop offset="0.863" stop-color="#e5625c"/><stop offset="0.933" stop-color="#e3575d"/><stop offset="1" stop-color="#e2555e"/></linearGradient>
<linearGradient id="d17" gradientUnits="userSpaceOnUse" x1="2655.4" y1="1858.3" x2="3418.5" y2="1366.3"><stop offset="0" stop-color="#4299fa"/><stop offset="0.099" stop-color="#5fedd5"/><stop offset="0.196" stop-color="#69f56c"/><stop offset="0.289" stop-color="#75f854"/><stop offset="0.38" stop-color="#8bf750"/><stop offset="0.468" stop-color="#b1f24e"/><stop offset="0.552" stop-color="#d9ec50"/><stop offset="0.634" stop-color="#edd054"/><stop offset="0.713" stop-color="#efa257"/><stop offset="0.789" stop-color="#eb775a"/><stop offset="0.863" stop-color="#e6635c"/><stop offset="0.933" stop-color="#e3585d"/><stop offset="1" stop-color="#e2555e"/></linearGradient>
<linearGradient id="d18" gradientUnits="userSpaceOnUse" x1="2674.1" y1="1863.9" x2="3438" y2="1369.4"><stop offset="0" stop-color="#4198fa"/><stop offset="0.099" stop-color="#5eecd6"/><stop offset="0.195" stop-color="#69f56d"/><stop offset="0.289" stop-color="#75f854"/><stop offset="0.379" stop-color="#8af850"/><stop offset="0.467" stop-color="#b0f34e"/><stop offset="0.552" stop-color="#d8ec50"/><stop offset="0.634" stop-color="#ecd154"/><stop offset="0.713" stop-color="#efa457"/><stop offset="0.789" stop-color="#eb785a"/><stop offset="0.862" stop-color="#e6645c"/><stop offset="0.933" stop-color="#e3585d"/><stop offset="1" stop-color="#e2555e"/></linearGradient>
<linearGradient id="d19" gradientUnits="userSpaceOnUse" x1="2692.9" y1="1869.5" x2="3457.5" y2="1372.5"><stop offset="0" stop-color="#4197fa"/><stop offset="0.099" stop-color="#5eecd8"/><stop offset="0.195" stop-color="#69f56d"/><stop offset="0.289" stop-color="#75f854"/><stop offset="0.379" stop-color="#89f850"/><stop offset="0.467" stop-color="#aff34e"/><stop offset="0.552" stop-color="#d6ec50"/><stop offset="0.634" stop-color="#ecd254"/><stop offset="0.713" stop-color="#efa657"/><stop offset="0.789" stop-color="#eb795a"/><stop offset="0.862" stop-color="#e6645c"/><stop offset="0.933" stop-color="#e3585d"/><stop offset="1" stop-color="#e2555e"/></linearGradient>
<linearGradient id="d20" gradientUnits="userSpaceOnUse" x1="2711.6" y1="1875.1" x2="3477.1" y2="1375.5"><stop offset="0" stop-color="#4196fa"/><stop offset="0.099" stop-color="#5eecd9"/><stop offset="0.195" stop-color="#69f56e"/><stop offset="0.288" stop-color="#74f854"/><stop offset="0.379" stop-color="#87f850"/><stop offset="0.467" stop-color="#aef34e"/><stop offset="0.551" stop-color="#d5ec50"/><stop offset="0.633" stop-color="#ebd353"/><stop offset="0.713" stop-color="#efa857"/><stop offset="0.789" stop-color="#eb7b5a"/><stop offset="0.862" stop-color="#e6655c"/><stop offset="0.933" stop-color="#e3595d"/><stop offset="1" stop-color="#e2555e"/></linearGradient>
<linearGradient id="d21" gradientUnits="userSpaceOnUse" x1="2730.4" y1="1880.7" x2="3496.6" y2="1378.6"><stop offset="0" stop-color="#4196fa"/><stop offset="0.099" stop-color="#5eecdb"/><stop offset="0.195" stop-color="#69f56f"/><stop offset="0.288" stop-color="#74f854"/><stop offset="0.378" stop-color="#87f850"/><stop offset="0.466" stop-color="#adf34e"/><stop offset="0.551" stop-color="#d4ec50"/><stop offset="0.633" stop-color="#ead453"/><stop offset="0.712" stop-color="#efaa57"/><stop offset="0.789" stop-color="#eb7c5a"/><stop offset="0.862" stop-color="#e6665c"/><stop offset="0.933" stop-color="#e3595d"/><stop offset="1" stop-color="#e2555e"/></linearGradient>
<linearGradient id="d22" gradientUnits="userSpaceOnUse" x1="2749.1" y1="1886.3" x2="3516.1" y2="1381.7"><stop offset="0" stop-color="#4195fa"/><stop offset="0.099" stop-color="#5debdc"/><stop offset="0.194" stop-color="#69f571"/><stop offset="0.288" stop-color="#73f854"/><stop offset="0.378" stop-color="#86f850"/><stop offset="0.466" stop-color="#acf34e"/><stop offset="0.551" stop-color="#d2ed50"/><stop offset="0.633" stop-color="#ead553"/><stop offset="0.712" stop-color="#f0ac57"/><stop offset="0.788" stop-color="#ec7e5a"/><stop offset="0.862" stop-color="#e6665c"/><stop offset="0.932" stop-color="#e3595d"/><stop offset="1" stop-color="#e2555e"/></linearGradient>
<linearGradient id="d23" gradientUnits="userSpaceOnUse" x1="2767.8" y1="1892" x2="3535.6" y2="1384.7"><stop offset="0" stop-color="#4195fa"/><stop offset="0.098" stop-color="#5debde"/><stop offset="0.194" stop-color="#69f573"/><stop offset="0.287" stop-color="#73f854"/><stop offset="0.378" stop-color="#86f850"/><stop offset="0.465" stop-color="#abf34e"/><stop offset="0.55" stop-color="#d1ed4f"/><stop offset="0.633" stop-color="#e9d653"/><stop offset="0.712" stop-color="#f0ae57"/><stop offset="0.788" stop-color="#ec7f5a"/><stop offset="0.862" stop-color="#e7675c"/><stop offset="0.932" stop-color="#e35a5d"/><stop offset="1" stop-color="#e2555e"/></linearGradient>
<linearGradient id="d24" gradientUnits="userSpaceOnUse" x1="2786.6" y1="1897.7" x2="3555.1" y2="1387.7"><stop offset="0" stop-color="#4194fa"/><stop offset="0.098" stop-color="#5debdf"/><stop offset="0.194" stop-color="#68f575"/><stop offset="0.287" stop-color="#72f854"/><stop offset="0.377" stop-color="#85f850"/><stop offset="0.465" stop-color="#a9f34e"/><stop offset="0.55" stop-color="#d0ed4f"/><stop offset="0.632" stop-color="#e9d753"/><stop offset="0.712" stop-color="#f0b057"/><stop offset="0.788" stop-color="#ec8159"/><stop offset="0.862" stop-color="#e7685c"/><stop offset="0.932" stop-color="#e35a5d"/><stop offset="1" stop-color="#e2545e"/></linearGradient>
<linearGradient id="d25" gradientUnits="userSpaceOnUse" x1="2805.3" y1="1903.4" x2="3574.6" y2="1390.8"><stop offset="0" stop-color="#4194fa"/><stop offset="0.098" stop-color="#5debe1"/><stop offset="0.194" stop-color="#68f577"/><stop offset="0.287" stop-color="#72f854"/><stop offset="0.377" stop-color="#85f850"/><stop offset="0.465" stop-color="#a8f44f"/><stop offset="0.55" stop-color="#ceed4f"/><stop offset="0.632" stop-color="#e8d853"/><stop offset="0.711" stop-color="#f0b256"/><stop offset="0.788" stop-color="#ec8259"/><stop offset="0.862" stop-color="#e7685c"/><stop offset="0.932" stop-color="#e35a5d"/><stop offset="1" stop-color="#e2545e"/></linearGradient>
<linearGradient id="d26" gradientUnits="userSpaceOnUse" x1="2824" y1="1909.1" x2="3594.1" y2="1393.8"><stop offset="0" stop-color="#4193fa"/><stop offset="0.098" stop-color="#5ceae3"/><stop offset="0.193" stop-color="#68f579"/><stop offset="0.286" stop-color="#71f854"/><stop offset="0.377" stop-color="#84f851"/><stop offset="0.464" stop-color="#a7f44f"/><stop offset="0.549" stop-color="#cdee4f"/><stop offset="0.632" stop-color="#e7d953"/><stop offset="0.711" stop-color="#f0b456"/><stop offset="0.788" stop-color="#ec8459"/><stop offset="0.861" stop-color="#e7695b"/><stop offset="0.932" stop-color="#e35a5d"/><stop offset="1" stop-color="#e2545e"/></linearGradient>
<linearGradient id="d27" gradientUnits="userSpaceOnUse" x1="2842.8" y1="1914.8" x2="3613.7" y2="1396.7"><stop offset="0" stop-color="#4093fa"/><stop offset="0.098" stop-color="#5ceae4"/><stop offset="0.193" stop-color="#68f47b"/><stop offset="0.286" stop-color="#71f854"/><stop offset="0.376" stop-color="#84f851"/><stop offset="0.464" stop-color="#a6f44f"/><stop offset="0.549" stop-color="#ccee4f"/><stop offset="0.631" stop-color="#e7da52"/><stop offset="0.711" stop-color="#f0b656"/><stop offset="0.787" stop-color="#ec8559"/><stop offset="0.861" stop-color="#e76a5b"/><stop offset="0.932" stop-color="#e35b5d"/><stop offset="1" stop-color="#e2545e"/></linearGradient>
<linearGradient id="d28" gradientUnits="userSpaceOnUse" x1="2861.5" y1="1920.6" x2="3633.2" y2="1399.7"><stop offset="0" stop-color="#4092fa"/><stop offset="0.098" stop-color="#5ceae6"/><stop offset="0.193" stop-color="#68f47d"/><stop offset="0.286" stop-color="#70f855"/><stop offset="0.376" stop-color="#83f851"/><stop offset="0.464" stop-color="#a5f44f"/><stop offset="0.549" stop-color="#cbee4f"/><stop offset="0.631" stop-color="#e6db52"/><stop offset="0.711" stop-color="#f1b756"/><stop offset="0.787" stop-color="#ec8759"/><stop offset="0.861" stop-color="#e76a5b"/><stop offset="0.932" stop-color="#e35b5d"/><stop offset="1" stop-color="#e2545e"/></linearGradient>
<linearGradient id="d29" gradientUnits="userSpaceOnUse" x1="2880.3" y1="1926.3" x2="3652.7" y2="1402.6"><stop offset="0" stop-color="#4092fa"/><stop offset="0.098" stop-color="#5be9e8"/><stop offset="0.193" stop-color="#68f47f"/><stop offset="0.285" stop-color="#70f855"/><stop offset="0.376" stop-color="#83f851"/><stop offset="0.463" stop-color="#a4f44f"/><stop offset="0.548" stop-color="#c9ee4f"/><stop offset="0.631" stop-color="#e5dc52"/><stop offset="0.71" stop-color="#f1b956"/><stop offset="0.787" stop-color="#ec8859"/><stop offset="0.861" stop-color="#e86b5b"/><stop offset="0.932" stop-color="#e35b5d"/><stop offset="1" stop-color="#e1535e"/></linearGradient>
<linearGradient id="d30" gradientUnits="userSpaceOnUse" x1="2899" y1="1932.1" x2="3672.2" y2="1405.5"><stop offset="0" stop-color="#4091fa"/><stop offset="0.097" stop-color="#5be9e9"/><stop offset="0.192" stop-color="#68f481"/><stop offset="0.285" stop-color="#6ff855"/><stop offset="0.375" stop-color="#82f851"/><stop offset="0.463" stop-color="#a3f44f"/><stop offset="0.548" stop-color="#c8ee4f"/><stop offset="0.63" stop-color="#e5dd52"/><stop offset="0.71" stop-color="#f1bb56"/><stop offset="0.787" stop-color="#ed8959"/><stop offset="0.861" stop-color="#e86b5b"/><stop offset="0.932" stop-color="#e35b5d"/><stop offset="1" stop-color="#e1535e"/></linearGradient>
<linearGradient id="d31" gradientUnits="userSpaceOnUse" x1="2917.7" y1="1937.9" x2="3691.7" y2="1408.3"><stop offset="0" stop-color="#4091fa"/><stop offset="0.097" stop-color="#5be9eb"/><stop offset="0.192" stop-color="#67f483"/><stop offset="0.285" stop-color="#6ff855"/><stop offset="0.375" stop-color="#82f851"/><stop offset="0.463" stop-color="#a2f44f"/><stop offset="0.548" stop-color="#c7ef4f"/><stop offset="0.63" stop-color="#e4de52"/><stop offset="0.71" stop-color="#f1bd56"/><stop offset="0.787" stop-color="#ed8a59"/><stop offset="0.861" stop-color="#e86b5b"/><stop offset="0.932" stop-color="#e35b5d"/><stop offset="1" stop-color="#e1535e"/></linearGradient>
<linearGradient id="d32" gradientUnits="userSpaceOnUse" x1="2936.5" y1="1943.7" x2="3711.2" y2="1411.1"><stop offset="0" stop-color="#4090fa"/><stop offset="0.097" stop-color="#5be9ed"/><stop offset="0.192" stop-color="#67f485"/><stop offset="0.284" stop-color="#6ef855"/><stop offset="0.375" stop-color="#81f851"/><stop offset="0.462" stop-color="#a0f54f"/><stop offset="0.547" stop-color="#c6ef4f"/><stop offset="0.63" stop-color="#e4df52"/><stop offset="0.709" stop-color="#f1be56"/><stop offset="0.786" stop-color="#ed8c59"/><stop offset="0.861" stop-color="#e86c5b"/><stop offset="0.932" stop-color="#e35b5d"/><stop offset="1" stop-color="#e1525e"/></linearGradient>
<linearGradient id="d33" gradientUnits="userSpaceOnUse" x1="2955.2" y1="1949.5" x2="3730.8" y2="1413.9"><stop offset="0" stop-color="#408ffa"/><stop offset="0.097" stop-color="#5ae8ee"/><stop offset="0.192" stop-color="#67f487"/><stop offset="0.284" stop-color="#6ef855"/><stop offset="0.374" stop-color="#81f851"/><stop offset="0.462" stop-color="#9ff54f"/><stop offset="0.547" stop-color="#c5ef4f"/><stop offset="0.629" stop-color="#e3e052"/><stop offset="0.709" stop-color="#f1c056"/><stop offset="0.786" stop-color="#ed8d59"/><stop offset="0.86" stop-color="#e86c5b"/><stop offset="0.932" stop-color="#e35b5d"/><stop offset="1" stop-color="#e1525e"/></linearGradient>
<linearGradient id="d34" gradientUnits="userSpaceOnUse" x1="2973.9" y1="1955.3" x2="3750.3" y2="1416.6"><stop offset="0" stop-color="#408ffa"/><stop offset="0.097" stop-color="#5ae8f0"/><stop offset="0.191" stop-color="#67f489"/><stop offset="0.284" stop-color="#6ef856"/><stop offset="0.374" stop-color="#80f851"/><stop offset="0.461" stop-color="#9ef54f"/><stop offset="0.547" stop-color="#c4ef4f"/><stop offset="0.629" stop-color="#e3e052"/><stop offset="0.709" stop-color="#f1c155"/><stop offset="0.786" stop-color="#ed8e59"/><stop offset="0.86" stop-color="#e86c5b"/><stop offset="0.932" stop-color="#e35b5d"/><stop offset="1" stop-color="#e1515e"/></linearGradient>
<linearGradient id="d35" gradientUnits="userSpaceOnUse" x1="2992.7" y1="1961.2" x2="3769.8" y2="1419.3"><stop offset="0" stop-color="#408efa"/><stop offset="0.097" stop-color="#59e6f0"/><stop offset="0.191" stop-color="#67f48b"/><stop offset="0.284" stop-color="#6ef857"/><stop offset="0.374" stop-color="#80f851"/><stop offset="0.461" stop-color="#9df54f"/><stop offset="0.546" stop-color="#c3ef4f"/><stop offset="0.629" stop-color="#e2e151"/><stop offset="0.709" stop-color="#f2c355"/><stop offset="0.786" stop-color="#ed8e59"/><stop offset="0.86" stop-color="#e86c5b"/><stop offset="0.932" stop-color="#e35a5d"/><stop offset="1" stop-color="#e1505e"/></linearGradient>
<linearGradient id="d36" gradientUnits="userSpaceOnUse" x1="3011.4" y1="1967" x2="3789.3" y2="1421.9"><stop offset="0" stop-color="#408dfa"/><stop offset="0.097" stop-color="#59e5f1"/><stop offset="0.191" stop-color="#67f48d"/><stop offset="0.283" stop-color="#6ef857"/><stop offset="0.373" stop-color="#7ff852"/><stop offset="0.461" stop-color="#9cf54f"/><stop offset="0.546" stop-color="#c1f04f"/><stop offset="0.628" stop-color="#e2e251"/><stop offset="0.708" stop-color="#f2c455"/><stop offset="0.786" stop-color="#ed8f59"/><stop offset="0.86" stop-color="#e86d5b"/><stop offset="0.932" stop-color="#e35a5d"/><stop offset="1" stop-color="#e04f5e"/></linearGradient>
<linearGradient id="d37" gradientUnits="userSpaceOnUse" x1="3030.2" y1="1972.9" x2="3808.8" y2="1424.4"><stop offset="0" stop-color="#3f8dfa"/><stop offset="0.096" stop-color="#58e4f1"/><stop offset="0.191" stop-color="#67f48f"/><stop offset="0.283" stop-color="#6df858"/><stop offset="0.373" stop-color="#7ff852"/><stop offset="0.46" stop-color="#9bf54f"/><stop offset="0.546" stop-color="#c0f04f"/><stop offset="0.628" stop-color="#e1e351"/><stop offset="0.708" stop-color="#f2c555"/><stop offset="0.785" stop-color="#ed9059"/><stop offset="0.86" stop-color="#e86d5b"/><stop offset="0.931" stop-color="#e35a5d"/><stop offset="1" stop-color="#e04e5e"/></linearGradient>
<linearGradient id="d38" gradientUnits="userSpaceOnUse" x1="3048.9" y1="1978.8" x2="3828.3" y2="1426.9"><stop offset="0" stop-color="#3f8cfa"/><stop offset="0.096" stop-color="#58e2f1"/><stop offset="0.191" stop-color="#66f391"/><stop offset="0.283" stop-color="#6df859"/><stop offset="0.372" stop-color="#7ef852"/><stop offset="0.46" stop-color="#9af54f"/><stop offset="0.545" stop-color="#bff04f"/><stop offset="0.628" stop-color="#e1e451"/><stop offset="0.708" stop-color="#f2c655"/><stop offset="0.785" stop-color="#ed9058"/><stop offset="0.86" stop-color="#e86c5b"/><stop offset="0.931" stop-color="#e3595d"/><stop offset="1" stop-color="#e04d5e"/></linearGradient>
<linearGradient id="d39" gradientUnits="userSpaceOnUse" x1="3067.6" y1="1984.6" x2="3847.8" y2="1429.3"><stop offset="0" stop-color="#3f8bfa"/><stop offset="0.096" stop-color="#57e1f2"/><stop offset="0.19" stop-color="#66f393"/><stop offset="0.282" stop-color="#6df75a"/><stop offset="0.372" stop-color="#7ef852"/><stop offset="0.46" stop-color="#99f64f"/><stop offset="0.545" stop-color="#bef04f"/><stop offset="0.628" stop-color="#e0e451"/><stop offset="0.708" stop-color="#f2c755"/><stop offset="0.785" stop-color="#ed9158"/><stop offset="0.86" stop-color="#e86c5b"/><stop offset="0.931" stop-color="#e3585d"/><stop offset="1" stop-color="#e04c5e"/></linearGradient>
<clipPath id="csd"><path d="M2327.5 1764 C2577.3 1478.6 2827.2 1338.6 3077 1316.7 C3337.2 1349.1 3597.4 1399.1 3857.6 1430.5 C3597.4 1509.7 3337.2 1711.6 3077 1987.6 C2827.2 1908.9 2577.3 1833.3 2327.5 1764Z"/></clipPath>
<filter id="bld0" x="-5%" y="-60%" width="110%" height="220%"><feGaussianBlur stdDeviation="12"/></filter>
<filter id="bld1" x="-5%" y="-60%" width="110%" height="220%"><feGaussianBlur stdDeviation="50"/></filter>
<clipPath id="fle"><path d="M408.5 3192.5 L1149.6 3426.4 L1891.6 3193.4 L1149.6 3010Z"/></clipPath>
<linearGradient id="e0" gradientUnits="userSpaceOnUse" x1="406.4" y1="2992.5" x2="1160.1" y2="2542.8"><stop offset="0" stop-color="#3669f7"/><stop offset="0.101" stop-color="#46aef9"/><stop offset="0.198" stop-color="#62f0c3"/><stop offset="0.293" stop-color="#6af668"/><stop offset="0.384" stop-color="#76f853"/><stop offset="0.471" stop-color="#87f850"/><stop offset="0.556" stop-color="#a7f44f"/><stop offset="0.638" stop-color="#c5ef4f"/><stop offset="0.716" stop-color="#ddea50"/><stop offset="0.791" stop-color="#e7da52"/><stop offset="0.864" stop-color="#edd054"/><stop offset="0.933" stop-color="#efcc54"/><stop offset="1" stop-color="#eecf54"/></linearGradient>
<linearGradient id="e1" gradientUnits="userSpaceOnUse" x1="425.3" y1="2994.8" x2="1179.4" y2="2542.4"><stop offset="0" stop-color="#376cf8"/><stop offset="0.101" stop-color="#48b4f9"/><stop offset="0.198" stop-color="#63f1bb"/><stop offset="0.293" stop-color="#6bf665"/><stop offset="0.384" stop-color="#78f853"/><stop offset="0.471" stop-color="#8af850"/><stop offset="0.556" stop-color="#abf34e"/><stop offset="0.638" stop-color="#c9ee4f"/><stop offset="0.716" stop-color="#dfe651"/><stop offset="0.791" stop-color="#e9d653"/><stop offset="0.864" stop-color="#f0cc54"/><stop offset="0.933" stop-color="#f2c855"/><stop offset="1" stop-color="#f1ca55"/></linearGradient>
<linearGradient id="e2" gradientUnits="userSpaceOnUse" x1="444.1" y1="2997.2" x2="1198.8" y2="2542.2"><stop offset="0" stop-color="#386ef8"/><stop offset="0.101" stop-color="#49bbf8"/><stop offset="0.198" stop-color="#64f2b5"/><stop offset="0.293" stop-color="#6bf663"/><stop offset="0.384" stop-color="#79f853"/><stop offset="0.472" stop-color="#8ef750"/><stop offset="0.556" stop-color="#aef34e"/><stop offset="0.638" stop-color="#cdee4f"/><stop offset="0.716" stop-color="#e2e251"/><stop offset="0.791" stop-color="#ecd254"/><stop offset="0.864" stop-color="#f2c755"/><stop offset="0.933" stop-color="#f1be56"/><stop offset="1" stop-color="#f2c355"/></linearGradient>
<linearGradient id="e3" gradientUnits="userSpaceOnUse" x1="462.9" y1="2999.8" x2="1218.2" y2="2542"><stop offset="0" stop-color="#3970f8"/><stop offset="0.101" stop-color="#4ac1f8"/><stop offset="0.199" stop-color="#64f2ae"/><stop offset="0.293" stop-color="#6cf761"/><stop offset="0.384" stop-color="#7af853"/><stop offset="0.472" stop-color="#91f750"/><stop offset="0.556" stop-color="#b2f24e"/><stop offset="0.638" stop-color="#d1ed4f"/><stop offset="0.716" stop-color="#e4de52"/><stop offset="0.792" stop-color="#eece54"/><stop offset="0.864" stop-color="#f1be56"/><stop offset="0.933" stop-color="#f0b556"/><stop offset="1" stop-color="#f1b956"/></linearGradient>
<linearGradient id="e4" gradientUnits="userSpaceOnUse" x1="481.8" y1="3002.5" x2="1237.5" y2="2541.9"><stop offset="0" stop-color="#3a72f9"/><stop offset="0.101" stop-color="#4cc6f7"/><stop offset="0.199" stop-color="#65f2a8"/><stop offset="0.293" stop-color="#6cf75e"/><stop offset="0.384" stop-color="#7cf852"/><stop offset="0.472" stop-color="#94f64f"/><stop offset="0.556" stop-color="#b5f24e"/><stop offset="0.638" stop-color="#d5ec50"/><stop offset="0.716" stop-color="#e6db52"/><stop offset="0.792" stop-color="#f0ca55"/><stop offset="0.864" stop-color="#f0b656"/><stop offset="0.933" stop-color="#efab57"/><stop offset="1" stop-color="#f0af57"/></linearGradient>
<linearGradient id="e5" gradientUnits="userSpaceOnUse" x1="500.6" y1="3005.4" x2="1256.9" y2="2541.9"><stop offset="0" stop-color="#3b74f9"/><stop offset="0.101" stop-color="#4ecaf6"/><stop offset="0.199" stop-color="#65f3a3"/><stop offset="0.293" stop-color="#6df75c"/><stop offset="0.384" stop-color="#7df852"/><stop offset="0.472" stop-color="#97f64f"/><stop offset="0.556" stop-color="#b8f14e"/><stop offset="0.638" stop-color="#d9ec50"/><stop offset="0.716" stop-color="#e8d753"/><stop offset="0.792" stop-color="#f2c555"/><stop offset="0.864" stop-color="#f0ad57"/><stop offset="0.933" stop-color="#efa257"/><stop offset="1" stop-color="#efa657"/></linearGradient>
<linearGradient id="e6" gradientUnits="userSpaceOnUse" x1="519.4" y1="3008.3" x2="1276.3" y2="2542"><stop offset="0" stop-color="#3b76fa"/><stop offset="0.101" stop-color="#50cef6"/><stop offset="0.199" stop-color="#66f39d"/><stop offset="0.293" stop-color="#6df75a"/><stop offset="0.384" stop-color="#7ef852"/><stop offset="0.472" stop-color="#9af64f"/><stop offset="0.556" stop-color="#bcf14e"/><stop offset="0.638" stop-color="#dceb50"/><stop offset="0.716" stop-color="#ead453"/><stop offset="0.792" stop-color="#f1be56"/><stop offset="0.864" stop-color="#efa557"/><stop offset="0.933" stop-color="#ee9a58"/><stop offset="1" stop-color="#ee9c58"/></linearGradient>
<linearGradient id="e7" gradientUnits="userSpaceOnUse" x1="538.3" y1="3011.5" x2="1295.6" y2="2542.1"><stop offset="0" stop-color="#3c78fa"/><stop offset="0.101" stop-color="#51d2f5"/><stop offset="0.199" stop-color="#66f398"/><stop offset="0.293" stop-color="#6df859"/><stop offset="0.384" stop-color="#7ff852"/><stop offset="0.472" stop-color="#9cf54f"/><stop offset="0.556" stop-color="#bff04f"/><stop offset="0.638" stop-color="#dee850"/><stop offset="0.716" stop-color="#ecd154"/><stop offset="0.792" stop-color="#f0b656"/><stop offset="0.864" stop-color="#ee9d58"/><stop offset="0.933" stop-color="#ed9258"/><stop offset="1" stop-color="#ed9458"/></linearGradient>
<linearGradient id="e8" gradientUnits="userSpaceOnUse" x1="557.1" y1="3014.7" x2="1315" y2="2542.4"><stop offset="0" stop-color="#3c7bfa"/><stop offset="0.101" stop-color="#53d6f4"/><stop offset="0.199" stop-color="#66f394"/><stop offset="0.293" stop-color="#6ef857"/><stop offset="0.384" stop-color="#80f851"/><stop offset="0.472" stop-color="#9ff54f"/><stop offset="0.556" stop-color="#c2f04f"/><stop offset="0.638" stop-color="#e0e551"/><stop offset="0.716" stop-color="#eece54"/><stop offset="0.792" stop-color="#f0af57"/><stop offset="0.864" stop-color="#ee9658"/><stop offset="0.933" stop-color="#ed8a59"/><stop offset="1" stop-color="#ed8b59"/></linearGradient>
<linearGradient id="e9" gradientUnits="userSpaceOnUse" x1="575.9" y1="3018" x2="1334.4" y2="2542.7"><stop offset="0" stop-color="#3d7dfa"/><stop offset="0.101" stop-color="#54daf3"/><stop offset="0.199" stop-color="#67f48f"/><stop offset="0.293" stop-color="#6ef855"/><stop offset="0.384" stop-color="#81f851"/><stop offset="0.472" stop-color="#a1f54f"/><stop offset="0.557" stop-color="#c5ef4f"/><stop offset="0.638" stop-color="#e1e351"/><stop offset="0.716" stop-color="#f0cb55"/><stop offset="0.792" stop-color="#efa957"/><stop offset="0.864" stop-color="#ed8e59"/><stop offset="0.934" stop-color="#ec8259"/><stop offset="1" stop-color="#ec8359"/></linearGradient>
<linearGradient id="e10" gradientUnits="userSpaceOnUse" x1="594.8" y1="3021.5" x2="1353.7" y2="2543.2"><stop offset="0" stop-color="#3d7ffa"/><stop offset="0.101" stop-color="#55ddf2"/><stop offset="0.199" stop-color="#67f48b"/><stop offset="0.293" stop-color="#6ff855"/><stop offset="0.384" stop-color="#82f851"/><stop offset="0.472" stop-color="#a3f44f"/><stop offset="0.557" stop-color="#c8ef4f"/><stop offset="0.638" stop-color="#e3e052"/><stop offset="0.716" stop-color="#f1c955"/><stop offset="0.792" stop-color="#efa257"/><stop offset="0.864" stop-color="#ec8759"/><stop offset="0.934" stop-color="#eb7a5a"/><stop offset="1" stop-color="#eb7b5a"/></linearGradient>
<linearGradient id="e11" gradientUnits="userSpaceOnUse" x1="613.6" y1="3025.1" x2="1373.1" y2="2543.7"><stop offset="0" stop-color="#3d81fa"/><stop offset="0.101" stop-color="#57e0f2"/><stop offset="0.199" stop-color="#67f487"/><stop offset="0.293" stop-color="#70f855"/><stop offset="0.384" stop-color="#83f851"/><stop offset="0.472" stop-color="#a5f44f"/><stop offset="0.557" stop-color="#caee4f"/><stop offset="0.638" stop-color="#e4de52"/><stop offset="0.717" stop-color="#f2c455"/><stop offset="0.792" stop-color="#ee9c58"/><stop offset="0.864" stop-color="#ec8159"/><stop offset="0.934" stop-color="#ea755a"/><stop offset="1" stop-color="#ea755a"/></linearGradient>
<linearGradient id="e12" gradientUnits="userSpaceOnUse" x1="632.4" y1="3028.7" x2="1392.5" y2="2544.3"><stop offset="0" stop-color="#3e83fa"/><stop offset="0.101" stop-color="#58e3f1"/><stop offset="0.199" stop-color="#67f483"/><stop offset="0.293" stop-color="#70f855"/><stop offset="0.384" stop-color="#84f851"/><stop offset="0.472" stop-color="#a7f44f"/><stop offset="0.557" stop-color="#cdee4f"/><stop offset="0.638" stop-color="#e6db52"/><stop offset="0.717" stop-color="#f1be56"/><stop offset="0.792" stop-color="#ee9658"/><stop offset="0.864" stop-color="#eb7a5a"/><stop offset="0.934" stop-color="#e9715b"/><stop offset="1" stop-color="#e9705b"/></linearGradient>
<linearGradient id="e13" gradientUnits="userSpaceOnUse" x1="651.3" y1="3032.5" x2="1411.8" y2="2545"><stop offset="0" stop-color="#3e85fa"/><stop offset="0.101" stop-color="#59e6f1"/><stop offset="0.199" stop-color="#68f480"/><stop offset="0.293" stop-color="#71f854"/><stop offset="0.384" stop-color="#85f850"/><stop offset="0.472" stop-color="#a9f34e"/><stop offset="0.557" stop-color="#cfed4f"/><stop offset="0.638" stop-color="#e7d953"/><stop offset="0.717" stop-color="#f1b956"/><stop offset="0.792" stop-color="#ed9058"/><stop offset="0.864" stop-color="#ea765a"/><stop offset="0.934" stop-color="#e86d5b"/><stop offset="1" stop-color="#e86c5b"/></linearGradient>
<linearGradient id="e14" gradientUnits="userSpaceOnUse" x1="670.1" y1="3036.4" x2="1431.2" y2="2545.8"><stop offset="0" stop-color="#3e86fa"/><stop offset="0.101" stop-color="#5ae8f0"/><stop offset="0.199" stop-color="#68f47d"/><stop offset="0.293" stop-color="#72f854"/><stop offset="0.384" stop-color="#86f850"/><stop offset="0.472" stop-color="#abf34e"/><stop offset="0.557" stop-color="#d1ed4f"/><stop offset="0.638" stop-color="#e8d753"/><stop offset="0.717" stop-color="#f0b456"/><stop offset="0.792" stop-color="#ed8b59"/><stop offset="0.864" stop-color="#e9725b"/><stop offset="0.934" stop-color="#e7695c"/><stop offset="1" stop-color="#e7685c"/></linearGradient>
<linearGradient id="e15" gradientUnits="userSpaceOnUse" x1="688.9" y1="3040.3" x2="1450.6" y2="2546.6"><stop offset="0" stop-color="#3f88fa"/><stop offset="0.101" stop-color="#5be9ed"/><stop offset="0.199" stop-color="#68f47a"/><stop offset="0.293" stop-color="#73f854"/><stop offset="0.384" stop-color="#86f850"/><stop offset="0.472" stop-color="#acf34e"/><stop offset="0.557" stop-color="#d3ed50"/><stop offset="0.638" stop-color="#ead553"/><stop offset="0.717" stop-color="#f0b057"/><stop offset="0.792" stop-color="#ec8659"/><stop offset="0.864" stop-color="#e96f5b"/><stop offset="0.934" stop-color="#e6655c"/><stop offset="1" stop-color="#e6645c"/></linearGradient>
<linearGradient id="e16" gradientUnits="userSpaceOnUse" x1="707.8" y1="3044.3" x2="1469.9" y2="2547.6"><stop offset="0" stop-color="#3f89fa"/><stop offset="0.101" stop-color="#5be9ea"/><stop offset="0.199" stop-color="#68f577"/><stop offset="0.293" stop-color="#73f854"/><stop offset="0.384" stop-color="#87f850"/><stop offset="0.472" stop-color="#aef34e"/><stop offset="0.557" stop-color="#d5ec50"/><stop offset="0.638" stop-color="#ebd353"/><stop offset="0.717" stop-color="#efab57"/><stop offset="0.792" stop-color="#ec8159"/><stop offset="0.864" stop-color="#e86b5b"/><stop offset="0.934" stop-color="#e5615c"/><stop offset="1" stop-color="#e5605c"/></linearGradient>
<linearGradient id="e17" gradientUnits="userSpaceOnUse" x1="726.6" y1="3048.5" x2="1489.3" y2="2548.7"><stop offset="0" stop-color="#3f8afa"/><stop offset="0.101" stop-color="#5be9e7"/><stop offset="0.199" stop-color="#69f574"/><stop offset="0.293" stop-color="#74f854"/><stop offset="0.384" stop-color="#88f850"/><stop offset="0.472" stop-color="#aff34e"/><stop offset="0.557" stop-color="#d7ec50"/><stop offset="0.638" stop-color="#ecd254"/><stop offset="0.717" stop-color="#efa757"/><stop offset="0.792" stop-color="#eb7c5a"/><stop offset="0.864" stop-color="#e7685c"/><stop offset="0.934" stop-color="#e45e5d"/><stop offset="1" stop-color="#e45c5d"/></linearGradient>
<linearGradient id="e18" gradientUnits="userSpaceOnUse" x1="745.4" y1="3052.7" x2="1508.7" y2="2549.8"><stop offset="0" stop-color="#3f8cfa"/><stop offset="0.101" stop-color="#5ceae5"/><stop offset="0.199" stop-color="#69f572"/><stop offset="0.293" stop-color="#74f854"/><stop offset="0.384" stop-color="#89f850"/><stop offset="0.472" stop-color="#b1f24e"/><stop offset="0.557" stop-color="#d9ec50"/><stop offset="0.638" stop-color="#edd054"/><stop offset="0.717" stop-color="#efa357"/><stop offset="0.792" stop-color="#eb785a"/><stop offset="0.864" stop-color="#e6655c"/><stop offset="0.934" stop-color="#e35b5d"/><stop offset="1" stop-color="#e3585d"/></linearGradient>
<linearGradient id="e19" gradientUnits="userSpaceOnUse" x1="764.3" y1="3056.9" x2="1528" y2="2551"><stop offset="0" stop-color="#3f8dfa"/><stop offset="0.101" stop-color="#5ceae3"/><stop offset="0.199" stop-color="#69f570"/><stop offset="0.293" stop-color="#75f854"/><stop offset="0.385" stop-color="#8bf850"/><stop offset="0.472" stop-color="#b2f24e"/><stop offset="0.557" stop-color="#daeb50"/><stop offset="0.638" stop-color="#eecf54"/><stop offset="0.717" stop-color="#ee9f58"/><stop offset="0.792" stop-color="#ea755a"/><stop offset="0.864" stop-color="#e5625c"/><stop offset="0.934" stop-color="#e3585d"/><stop offset="1" stop-color="#e2555e"/></linearGradient>
<linearGradient id="e20" gradientUnits="userSpaceOnUse" x1="783.1" y1="3061.2" x2="1547.4" y2="2552.4"><stop offset="0" stop-color="#408efa"/><stop offset="0.101" stop-color="#5debe1"/><stop offset="0.199" stop-color="#69f56e"/><stop offset="0.293" stop-color="#75f854"/><stop offset="0.385" stop-color="#8cf750"/><stop offset="0.472" stop-color="#b3f24e"/><stop offset="0.557" stop-color="#dceb50"/><stop offset="0.639" stop-color="#efcd54"/><stop offset="0.717" stop-color="#ee9c58"/><stop offset="0.792" stop-color="#ea735a"/><stop offset="0.864" stop-color="#e5605c"/><stop offset="0.934" stop-color="#e2555e"/><stop offset="1" stop-color="#e1525e"/></linearGradient>
<linearGradient id="e21" gradientUnits="userSpaceOnUse" x1="802" y1="3065.6" x2="1566.7" y2="2553.8"><stop offset="0" stop-color="#408ffa"/><stop offset="0.101" stop-color="#5debdf"/><stop offset="0.199" stop-color="#69f56d"/><stop offset="0.293" stop-color="#76f853"/><stop offset="0.385" stop-color="#8df750"/><stop offset="0.472" stop-color="#b4f24e"/><stop offset="0.557" stop-color="#ddea50"/><stop offset="0.639" stop-color="#f0cc54"/><stop offset="0.717" stop-color="#ee9858"/><stop offset="0.792" stop-color="#e9715b"/><stop offset="0.864" stop-color="#e45d5d"/><stop offset="0.934" stop-color="#e1525e"/><stop offset="1" stop-color="#e04f5e"/></linearGradient>
<linearGradient id="e22" gradientUnits="userSpaceOnUse" x1="820.8" y1="3070.1" x2="1586.1" y2="2555.3"><stop offset="0" stop-color="#4090fa"/><stop offset="0.101" stop-color="#5debdd"/><stop offset="0.199" stop-color="#69f56d"/><stop offset="0.293" stop-color="#76f853"/><stop offset="0.385" stop-color="#8ef750"/><stop offset="0.472" stop-color="#b5f24e"/><stop offset="0.557" stop-color="#dde950"/><stop offset="0.639" stop-color="#f0cb55"/><stop offset="0.717" stop-color="#ee9558"/><stop offset="0.792" stop-color="#e96f5b"/><stop offset="0.864" stop-color="#e35b5d"/><stop offset="0.934" stop-color="#e04f5e"/><stop offset="1" stop-color="#e04c5e"/></linearGradient>
<linearGradient id="e23" gradientUnits="userSpaceOnUse" x1="839.6" y1="3074.6" x2="1605.5" y2="2556.9"><stop offset="0" stop-color="#4091fa"/><stop offset="0.101" stop-color="#5debdb"/><stop offset="0.199" stop-color="#69f56c"/><stop offset="0.293" stop-color="#76f853"/><stop offset="0.385" stop-color="#8ef750"/><stop offset="0.472" stop-color="#b7f24e"/><stop offset="0.557" stop-color="#dee850"/><stop offset="0.639" stop-color="#f1ca55"/><stop offset="0.717" stop-color="#ed9358"/><stop offset="0.792" stop-color="#e86d5b"/><stop offset="0.864" stop-color="#e3595d"/><stop offset="0.934" stop-color="#e04d5e"/><stop offset="1" stop-color="#df495f"/></linearGradient>
<linearGradient id="e24" gradientUnits="userSpaceOnUse" x1="858.5" y1="3079.1" x2="1624.8" y2="2558.6"><stop offset="0" stop-color="#4091fa"/><stop offset="0.101" stop-color="#5eecda"/><stop offset="0.199" stop-color="#6af56b"/><stop offset="0.293" stop-color="#77f853"/><stop offset="0.385" stop-color="#8ff750"/><stop offset="0.472" stop-color="#b8f14e"/><stop offset="0.557" stop-color="#dee751"/><stop offset="0.639" stop-color="#f2c955"/><stop offset="0.717" stop-color="#ed9058"/><stop offset="0.792" stop-color="#e86b5b"/><stop offset="0.864" stop-color="#e2575d"/><stop offset="0.934" stop-color="#df4b5f"/><stop offset="1" stop-color="#de475f"/></linearGradient>
<linearGradient id="e25" gradientUnits="userSpaceOnUse" x1="877.3" y1="3083.7" x2="1644.2" y2="2560.4"><stop offset="0" stop-color="#4092fa"/><stop offset="0.101" stop-color="#5eecd8"/><stop offset="0.199" stop-color="#6af56b"/><stop offset="0.293" stop-color="#77f853"/><stop offset="0.385" stop-color="#90f750"/><stop offset="0.472" stop-color="#b8f14e"/><stop offset="0.557" stop-color="#dfe651"/><stop offset="0.639" stop-color="#f2c755"/><stop offset="0.717" stop-color="#ed8e59"/><stop offset="0.792" stop-color="#e7695b"/><stop offset="0.864" stop-color="#e2555d"/><stop offset="0.934" stop-color="#df495f"/><stop offset="1" stop-color="#dd455f"/></linearGradient>
<linearGradient id="e26" gradientUnits="userSpaceOnUse" x1="896.1" y1="3088.3" x2="1663.6" y2="2562.3"><stop offset="0" stop-color="#4093fa"/><stop offset="0.101" stop-color="#5eecd7"/><stop offset="0.199" stop-color="#6af56a"/><stop offset="0.293" stop-color="#77f853"/><stop offset="0.385" stop-color="#91f750"/><stop offset="0.472" stop-color="#b9f14e"/><stop offset="0.557" stop-color="#dfe551"/><stop offset="0.639" stop-color="#f2c555"/><stop offset="0.717" stop-color="#ed8c59"/><stop offset="0.792" stop-color="#e7685c"/><stop offset="0.864" stop-color="#e1535e"/><stop offset="0.934" stop-color="#de475f"/><stop offset="1" stop-color="#dd455f"/></linearGradient>
<linearGradient id="e27" gradientUnits="userSpaceOnUse" x1="915" y1="3093" x2="1682.9" y2="2564.3"><stop offset="0" stop-color="#4193fa"/><stop offset="0.101" stop-color="#5eecd5"/><stop offset="0.199" stop-color="#6af56a"/><stop offset="0.293" stop-color="#78f853"/><stop offset="0.385" stop-color="#91f750"/><stop offset="0.473" stop-color="#baf14e"/><stop offset="0.557" stop-color="#e0e551"/><stop offset="0.639" stop-color="#f2c455"/><stop offset="0.717" stop-color="#ed8a59"/><stop offset="0.792" stop-color="#e6665c"/><stop offset="0.864" stop-color="#e1525e"/><stop offset="0.934" stop-color="#de465f"/><stop offset="1" stop-color="#dc445f"/></linearGradient>
<linearGradient id="e28" gradientUnits="userSpaceOnUse" x1="933.8" y1="3097.7" x2="1702.3" y2="2566.3"><stop offset="0" stop-color="#4194fa"/><stop offset="0.101" stop-color="#5fedd4"/><stop offset="0.199" stop-color="#6af66a"/><stop offset="0.293" stop-color="#78f853"/><stop offset="0.385" stop-color="#92f750"/><stop offset="0.473" stop-color="#bbf14e"/><stop offset="0.557" stop-color="#e0e451"/><stop offset="0.639" stop-color="#f1c255"/><stop offset="0.717" stop-color="#ec8859"/><stop offset="0.792" stop-color="#e6655c"/><stop offset="0.864" stop-color="#e1505e"/><stop offset="0.934" stop-color="#dd455f"/><stop offset="1" stop-color="#db445f"/></linearGradient>
<linearGradient id="e29" gradientUnits="userSpaceOnUse" x1="952.6" y1="3102.4" x2="1721.7" y2="2568.5"><stop offset="0" stop-color="#4195fa"/><stop offset="0.101" stop-color="#5fedd3"/><stop offset="0.199" stop-color="#6af669"/><stop offset="0.293" stop-color="#78f853"/><stop offset="0.385" stop-color="#92f750"/><stop offset="0.473" stop-color="#bbf14e"/><stop offset="0.557" stop-color="#e1e451"/><stop offset="0.639" stop-color="#f1c155"/><stop offset="0.717" stop-color="#ec8659"/><stop offset="0.792" stop-color="#e6645c"/><stop offset="0.864" stop-color="#e04f5e"/><stop offset="0.934" stop-color="#dd455f"/><stop offset="1" stop-color="#db435f"/></linearGradient>
<linearGradient id="e30" gradientUnits="userSpaceOnUse" x1="971.5" y1="3107.1" x2="1741" y2="2570.8"><stop offset="0" stop-color="#4195fa"/><stop offset="0.101" stop-color="#5fedd2"/><stop offset="0.199" stop-color="#6af669"/><stop offset="0.293" stop-color="#78f853"/><stop offset="0.385" stop-color="#93f64f"/><stop offset="0.472" stop-color="#bcf14e"/><stop offset="0.557" stop-color="#e1e351"/><stop offset="0.639" stop-color="#f1bf56"/><stop offset="0.717" stop-color="#ec8559"/><stop offset="0.792" stop-color="#e6635c"/><stop offset="0.864" stop-color="#e04e5e"/><stop offset="0.934" stop-color="#dc445f"/><stop offset="1" stop-color="#da435f"/></linearGradient>
<linearGradient id="e31" gradientUnits="userSpaceOnUse" x1="990.3" y1="3111.9" x2="1760.4" y2="2573.1"><stop offset="0" stop-color="#4196fa"/><stop offset="0.101" stop-color="#5fedd1"/><stop offset="0.199" stop-color="#6af669"/><stop offset="0.293" stop-color="#78f853"/><stop offset="0.385" stop-color="#93f64f"/><stop offset="0.472" stop-color="#bcf14e"/><stop offset="0.557" stop-color="#e1e351"/><stop offset="0.639" stop-color="#f1be56"/><stop offset="0.717" stop-color="#ec8459"/><stop offset="0.792" stop-color="#e5625c"/><stop offset="0.864" stop-color="#e04d5e"/><stop offset="0.934" stop-color="#dc445f"/><stop offset="1" stop-color="#da425f"/></linearGradient>
<linearGradient id="e32" gradientUnits="userSpaceOnUse" x1="1009.1" y1="3116.7" x2="1779.8" y2="2575.6"><stop offset="0" stop-color="#4197fa"/><stop offset="0.101" stop-color="#5fedd0"/><stop offset="0.199" stop-color="#6af668"/><stop offset="0.293" stop-color="#79f853"/><stop offset="0.385" stop-color="#93f64f"/><stop offset="0.472" stop-color="#bdf04e"/><stop offset="0.557" stop-color="#e1e251"/><stop offset="0.639" stop-color="#f1bd56"/><stop offset="0.717" stop-color="#ec8359"/><stop offset="0.792" stop-color="#e5625c"/><stop offset="0.864" stop-color="#e04c5e"/><stop offset="0.934" stop-color="#dc445f"/><stop offset="1" stop-color="#da425f"/></linearGradient>
<linearGradient id="e33" gradientUnits="userSpaceOnUse" x1="1028" y1="3121.4" x2="1799.1" y2="2578.1"><stop offset="0" stop-color="#4198fa"/><stop offset="0.101" stop-color="#5fedcf"/><stop offset="0.199" stop-color="#6af668"/><stop offset="0.293" stop-color="#79f853"/><stop offset="0.385" stop-color="#94f64f"/><stop offset="0.472" stop-color="#bdf04e"/><stop offset="0.557" stop-color="#e2e251"/><stop offset="0.639" stop-color="#f1bd56"/><stop offset="0.717" stop-color="#ec8259"/><stop offset="0.792" stop-color="#e5615c"/><stop offset="0.864" stop-color="#df4b5e"/><stop offset="0.934" stop-color="#db435f"/><stop offset="1" stop-color="#d9425f"/></linearGradient>
<linearGradient id="e34" gradientUnits="userSpaceOnUse" x1="1046.8" y1="3126.2" x2="1818.5" y2="2580.7"><stop offset="0" stop-color="#4299fa"/><stop offset="0.101" stop-color="#60eecf"/><stop offset="0.199" stop-color="#6af668"/><stop offset="0.293" stop-color="#79f853"/><stop offset="0.385" stop-color="#94f64f"/><stop offset="0.472" stop-color="#bdf04e"/><stop offset="0.557" stop-color="#e2e251"/><stop offset="0.639" stop-color="#f1bc56"/><stop offset="0.717" stop-color="#ec8159"/><stop offset="0.792" stop-color="#e5605c"/><stop offset="0.864" stop-color="#df4b5f"/><stop offset="0.934" stop-color="#db435f"/><stop offset="1" stop-color="#d9415f"/></linearGradient>
<linearGradient id="e35" gradientUnits="userSpaceOnUse" x1="1065.6" y1="3131" x2="1837.9" y2="2583.5"><stop offset="0" stop-color="#429afa"/><stop offset="0.101" stop-color="#60eece"/><stop offset="0.199" stop-color="#6af668"/><stop offset="0.293" stop-color="#79f853"/><stop offset="0.385" stop-color="#94f64f"/><stop offset="0.472" stop-color="#bdf04e"/><stop offset="0.557" stop-color="#e2e251"/><stop offset="0.639" stop-color="#f1bc56"/><stop offset="0.717" stop-color="#ec8159"/><stop offset="0.792" stop-color="#e5605c"/><stop offset="0.864" stop-color="#df4a5f"/><stop offset="0.934" stop-color="#db435f"/><stop offset="1" stop-color="#d9415f"/></linearGradient>
<linearGradient id="e36" gradientUnits="userSpaceOnUse" x1="1084.5" y1="3135.7" x2="1857.2" y2="2586.3"><stop offset="0" stop-color="#429bfa"/><stop offset="0.101" stop-color="#60eecd"/><stop offset="0.199" stop-color="#6af667"/><stop offset="0.293" stop-color="#79f853"/><stop offset="0.385" stop-color="#94f64f"/><stop offset="0.472" stop-color="#bef04e"/><stop offset="0.557" stop-color="#e2e151"/><stop offset="0.638" stop-color="#f1bb56"/><stop offset="0.717" stop-color="#ec8059"/><stop offset="0.792" stop-color="#e5605c"/><stop offset="0.864" stop-color="#df4a5f"/><stop offset="0.934" stop-color="#db435f"/><stop offset="1" stop-color="#d9415f"/></linearGradient>
<linearGradient id="e37" gradientUnits="userSpaceOnUse" x1="1103.3" y1="3140.5" x2="1876.6" y2="2589.2"><stop offset="0" stop-color="#429cfa"/><stop offset="0.101" stop-color="#60eecc"/><stop offset="0.199" stop-color="#6af667"/><stop offset="0.293" stop-color="#79f853"/><stop offset="0.384" stop-color="#94f64f"/><stop offset="0.472" stop-color="#bef04e"/><stop offset="0.557" stop-color="#e2e151"/><stop offset="0.638" stop-color="#f1bb56"/><stop offset="0.717" stop-color="#ec8059"/><stop offset="0.792" stop-color="#e5605c"/><stop offset="0.864" stop-color="#df4a5f"/><stop offset="0.934" stop-color="#db435f"/><stop offset="1" stop-color="#d8415f"/></linearGradient>
<linearGradient id="e38" gradientUnits="userSpaceOnUse" x1="1122.1" y1="3145.2" x2="1896" y2="2592.3"><stop offset="0" stop-color="#429dfa"/><stop offset="0.101" stop-color="#60eecb"/><stop offset="0.199" stop-color="#6af667"/><stop offset="0.293" stop-color="#79f853"/><stop offset="0.384" stop-color="#95f64f"/><stop offset="0.472" stop-color="#bef04e"/><stop offset="0.557" stop-color="#e2e151"/><stop offset="0.638" stop-color="#f1bb56"/><stop offset="0.717" stop-color="#ec8059"/><stop offset="0.792" stop-color="#e5605c"/><stop offset="0.864" stop-color="#df4a5f"/><stop offset="0.934" stop-color="#db435f"/><stop offset="1" stop-color="#d8415f"/></linearGradient>
<linearGradient id="e39" gradientUnits="userSpaceOnUse" x1="1141" y1="3150" x2="1915.3" y2="2595.4"><stop offset="0" stop-color="#439efa"/><stop offset="0.101" stop-color="#60eeca"/><stop offset="0.199" stop-color="#6af667"/><stop offset="0.293" stop-color="#79f853"/><stop offset="0.384" stop-color="#95f64f"/><stop offset="0.472" stop-color="#bef04e"/><stop offset="0.557" stop-color="#e2e151"/><stop offset="0.638" stop-color="#f1bb56"/><stop offset="0.717" stop-color="#ec8059"/><stop offset="0.792" stop-color="#e5605c"/><stop offset="0.864" stop-color="#df4a5f"/><stop offset="0.934" stop-color="#db435f"/><stop offset="1" stop-color="#d8415f"/></linearGradient>
<clipPath id="cse"><path d="M397 2991.4 C648.1 2710 899.3 2568.4 1150.4 2543 C1408.6 2537.2 1666.8 2554 1925 2597 C1666.8 2661.7 1408.6 2839.5 1150.4 3152.3 C899.3 3089.8 648.1 3019.9 397 2991.4Z"/></clipPath>
<filter id="ble0" x="-5%" y="-60%" width="110%" height="220%"><feGaussianBlur stdDeviation="14"/></filter>
<filter id="ble1" x="-5%" y="-60%" width="110%" height="220%"><feGaussianBlur stdDeviation="50"/></filter>
<linearGradient id="f0" gradientUnits="userSpaceOnUse" x1="2324.9" y1="2760.5" x2="3090" y2="2597.7"><stop offset="0" stop-color="#96f64f"/><stop offset="0.083" stop-color="#96f64f"/><stop offset="0.166" stop-color="#97f64f"/><stop offset="0.249" stop-color="#99f64f"/><stop offset="0.333" stop-color="#9cf54f"/><stop offset="0.416" stop-color="#9ff54f"/><stop offset="0.5" stop-color="#a3f44f"/><stop offset="0.583" stop-color="#a6f44f"/><stop offset="0.667" stop-color="#aaf34e"/><stop offset="0.75" stop-color="#adf34e"/><stop offset="0.834" stop-color="#b0f34e"/><stop offset="0.917" stop-color="#b2f24e"/><stop offset="1" stop-color="#b3f24e"/></linearGradient>
<linearGradient id="f1" gradientUnits="userSpaceOnUse" x1="2344" y1="2761.6" x2="3109.2" y2="2598.3"><stop offset="0" stop-color="#9af54f"/><stop offset="0.083" stop-color="#9af54f"/><stop offset="0.166" stop-color="#9bf54f"/><stop offset="0.249" stop-color="#9df54f"/><stop offset="0.333" stop-color="#a0f54f"/><stop offset="0.416" stop-color="#a3f44f"/><stop offset="0.5" stop-color="#a6f44f"/><stop offset="0.583" stop-color="#aaf34e"/><stop offset="0.667" stop-color="#adf34e"/><stop offset="0.75" stop-color="#b1f24e"/><stop offset="0.834" stop-color="#b3f24e"/><stop offset="0.917" stop-color="#b6f24e"/><stop offset="1" stop-color="#b7f14e"/></linearGradient>
<linearGradient id="f2" gradientUnits="userSpaceOnUse" x1="2363.1" y1="2762.9" x2="3128.5" y2="2599"><stop offset="0" stop-color="#9ef54f"/><stop offset="0.083" stop-color="#9ef54f"/><stop offset="0.166" stop-color="#9ff54f"/><stop offset="0.249" stop-color="#a1f44f"/><stop offset="0.333" stop-color="#a4f44f"/><stop offset="0.416" stop-color="#a7f44f"/><stop offset="0.5" stop-color="#aaf34e"/><stop offset="0.583" stop-color="#aef34e"/><stop offset="0.667" stop-color="#b1f24e"/><stop offset="0.75" stop-color="#b4f24e"/><stop offset="0.834" stop-color="#b7f14e"/><stop offset="0.917" stop-color="#baf14e"/><stop offset="1" stop-color="#bbf14e"/></linearGradient>
<linearGradient id="f3" gradientUnits="userSpaceOnUse" x1="2382.2" y1="2764.2" x2="3147.7" y2="2599.8"><stop offset="0" stop-color="#a2f44f"/><stop offset="0.083" stop-color="#a2f44f"/><stop offset="0.166" stop-color="#a3f44f"/><stop offset="0.249" stop-color="#a5f44f"/><stop offset="0.333" stop-color="#a8f44f"/><stop offset="0.416" stop-color="#abf34e"/><stop offset="0.5" stop-color="#aef34e"/><stop offset="0.583" stop-color="#b1f24e"/><stop offset="0.667" stop-color="#b4f24e"/><stop offset="0.75" stop-color="#b8f14e"/><stop offset="0.834" stop-color="#bbf14e"/><stop offset="0.917" stop-color="#bdf04e"/><stop offset="1" stop-color="#bff04f"/></linearGradient>
<linearGradient id="f4" gradientUnits="userSpaceOnUse" x1="2401.4" y1="2765.6" x2="3166.9" y2="2600.8"><stop offset="0" stop-color="#a5f44f"/><stop offset="0.083" stop-color="#a6f44f"/><stop offset="0.166" stop-color="#a7f44f"/><stop offset="0.249" stop-color="#a9f34e"/><stop offset="0.333" stop-color="#abf34e"/><stop offset="0.416" stop-color="#aef34e"/><stop offset="0.5" stop-color="#b1f24e"/><stop offset="0.583" stop-color="#b5f24e"/><stop offset="0.667" stop-color="#b8f14e"/><stop offset="0.75" stop-color="#bcf14e"/><stop offset="0.834" stop-color="#bff04f"/><stop offset="0.917" stop-color="#c1f04f"/><stop offset="1" stop-color="#c2f04f"/></linearGradient>
<linearGradient id="f5" gradientUnits="userSpaceOnUse" x1="2420.5" y1="2767.1" x2="3186.1" y2="2601.9"><stop offset="0" stop-color="#a9f34e"/><stop offset="0.083" stop-color="#a9f34e"/><stop offset="0.166" stop-color="#aaf34e"/><stop offset="0.249" stop-color="#acf34e"/><stop offset="0.333" stop-color="#aff34e"/><stop offset="0.416" stop-color="#b2f24e"/><stop offset="0.5" stop-color="#b5f24e"/><stop offset="0.583" stop-color="#b8f14e"/><stop offset="0.667" stop-color="#bcf14e"/><stop offset="0.75" stop-color="#bff04f"/><stop offset="0.834" stop-color="#c2f04f"/><stop offset="0.917" stop-color="#c4ef4f"/><stop offset="1" stop-color="#c5ef4f"/></linearGradient>
<linearGradient id="f6" gradientUnits="userSpaceOnUse" x1="2439.6" y1="2768.7" x2="3205.4" y2="2603.2"><stop offset="0" stop-color="#acf34e"/><stop offset="0.083" stop-color="#adf34e"/><stop offset="0.166" stop-color="#aef34e"/><stop offset="0.249" stop-color="#b0f34e"/><stop offset="0.333" stop-color="#b2f24e"/><stop offset="0.416" stop-color="#b5f24e"/><stop offset="0.5" stop-color="#b8f14e"/><stop offset="0.583" stop-color="#bcf14e"/><stop offset="0.667" stop-color="#bff04f"/><stop offset="0.75" stop-color="#c2ef4f"/><stop offset="0.834" stop-color="#c5ef4f"/><stop offset="0.917" stop-color="#c7ef4f"/><stop offset="1" stop-color="#c8ee4f"/></linearGradient>
<linearGradient id="f7" gradientUnits="userSpaceOnUse" x1="2458.8" y1="2770.4" x2="3224.6" y2="2604.6"><stop offset="0" stop-color="#b0f34e"/><stop offset="0.083" stop-color="#b0f34e"/><stop offset="0.166" stop-color="#b1f24e"/><stop offset="0.249" stop-color="#b3f24e"/><stop offset="0.333" stop-color="#b5f24e"/><stop offset="0.416" stop-color="#b9f14e"/><stop offset="0.5" stop-color="#bcf14e"/><stop offset="0.583" stop-color="#bff04f"/><stop offset="0.667" stop-color="#c3ef4f"/><stop offset="0.75" stop-color="#c6ef4f"/><stop offset="0.834" stop-color="#c8ee4f"/><stop offset="0.917" stop-color="#caee4f"/><stop offset="1" stop-color="#cbee4f"/></linearGradient>
<linearGradient id="f8" gradientUnits="userSpaceOnUse" x1="2477.9" y1="2772.2" x2="3243.8" y2="2606.1"><stop offset="0" stop-color="#b3f24e"/><stop offset="0.083" stop-color="#b3f24e"/><stop offset="0.166" stop-color="#b4f24e"/><stop offset="0.25" stop-color="#b7f24e"/><stop offset="0.333" stop-color="#b9f14e"/><stop offset="0.416" stop-color="#bcf14e"/><stop offset="0.5" stop-color="#bff04f"/><stop offset="0.583" stop-color="#c3ef4f"/><stop offset="0.667" stop-color="#c6ef4f"/><stop offset="0.75" stop-color="#c9ee4f"/><stop offset="0.834" stop-color="#cbee4f"/><stop offset="0.917" stop-color="#cdee4f"/><stop offset="1" stop-color="#ceed4f"/></linearGradient>
<linearGradient id="f9" gradientUnits="userSpaceOnUse" x1="2497" y1="2774.1" x2="3263" y2="2607.8"><stop offset="0" stop-color="#b6f24e"/><stop offset="0.083" stop-color="#b7f24e"/><stop offset="0.166" stop-color="#b8f14e"/><stop offset="0.25" stop-color="#baf14e"/><stop offset="0.333" stop-color="#bdf04e"/><stop offset="0.416" stop-color="#bff04f"/><stop offset="0.5" stop-color="#c3ef4f"/><stop offset="0.584" stop-color="#c6ef4f"/><stop offset="0.667" stop-color="#c9ee4f"/><stop offset="0.75" stop-color="#cbee4f"/><stop offset="0.834" stop-color="#ceee4f"/><stop offset="0.917" stop-color="#cfed4f"/><stop offset="1" stop-color="#d0ed4f"/></linearGradient>
<linearGradient id="f10" gradientUnits="userSpaceOnUse" x1="2516.1" y1="2776.1" x2="3282.3" y2="2609.5"><stop offset="0" stop-color="#baf14e"/><stop offset="0.083" stop-color="#baf14e"/><stop offset="0.166" stop-color="#bcf14e"/><stop offset="0.25" stop-color="#bef04e"/><stop offset="0.333" stop-color="#c0f04f"/><stop offset="0.417" stop-color="#c3ef4f"/><stop offset="0.5" stop-color="#c6ef4f"/><stop offset="0.584" stop-color="#c9ee4f"/><stop offset="0.667" stop-color="#cbee4f"/><stop offset="0.75" stop-color="#ceed4f"/><stop offset="0.834" stop-color="#d0ed4f"/><stop offset="0.917" stop-color="#d2ed4f"/><stop offset="1" stop-color="#d2ed50"/></linearGradient>
<linearGradient id="f11" gradientUnits="userSpaceOnUse" x1="2535.3" y1="2778.1" x2="3301.5" y2="2611.4"><stop offset="0" stop-color="#bdf04e"/><stop offset="0.083" stop-color="#bef04e"/><stop offset="0.166" stop-color="#bff04f"/><stop offset="0.25" stop-color="#c1f04f"/><stop offset="0.333" stop-color="#c3ef4f"/><stop offset="0.417" stop-color="#c6ef4f"/><stop offset="0.5" stop-color="#c9ee4f"/><stop offset="0.584" stop-color="#cbee4f"/><stop offset="0.667" stop-color="#ceed4f"/><stop offset="0.75" stop-color="#d0ed4f"/><stop offset="0.834" stop-color="#d2ed50"/><stop offset="0.917" stop-color="#d4ec50"/><stop offset="1" stop-color="#d4ec50"/></linearGradient>
<linearGradient id="f12" gradientUnits="userSpaceOnUse" x1="2554.4" y1="2780.2" x2="3320.7" y2="2613.4"><stop offset="0" stop-color="#c1f04f"/><stop offset="0.083" stop-color="#c1f04f"/><stop offset="0.166" stop-color="#c2f04f"/><stop offset="0.25" stop-color="#c4ef4f"/><stop offset="0.333" stop-color="#c6ef4f"/><stop offset="0.417" stop-color="#c9ee4f"/><stop offset="0.5" stop-color="#cbee4f"/><stop offset="0.584" stop-color="#ceed4f"/><stop offset="0.667" stop-color="#d1ed4f"/><stop offset="0.75" stop-color="#d3ed50"/><stop offset="0.834" stop-color="#d5ec50"/><stop offset="0.917" stop-color="#d6ec50"/><stop offset="1" stop-color="#d6ec50"/></linearGradient>
<linearGradient id="f13" gradientUnits="userSpaceOnUse" x1="2573.5" y1="2782.4" x2="3339.9" y2="2615.4"><stop offset="0" stop-color="#c4ef4f"/><stop offset="0.083" stop-color="#c4ef4f"/><stop offset="0.166" stop-color="#c5ef4f"/><stop offset="0.25" stop-color="#c7ef4f"/><stop offset="0.333" stop-color="#c9ee4f"/><stop offset="0.417" stop-color="#ccee4f"/><stop offset="0.5" stop-color="#ceed4f"/><stop offset="0.584" stop-color="#d1ed4f"/><stop offset="0.667" stop-color="#d3ed50"/><stop offset="0.75" stop-color="#d5ec50"/><stop offset="0.834" stop-color="#d7ec50"/><stop offset="0.917" stop-color="#d8ec50"/><stop offset="1" stop-color="#d8ec50"/></linearGradient>
<linearGradient id="f14" gradientUnits="userSpaceOnUse" x1="2592.6" y1="2784.7" x2="3359.2" y2="2617.6"><stop offset="0" stop-color="#c7ef4f"/><stop offset="0.083" stop-color="#c7ef4f"/><stop offset="0.166" stop-color="#c8ee4f"/><stop offset="0.25" stop-color="#caee4f"/><stop offset="0.333" stop-color="#ccee4f"/><stop offset="0.417" stop-color="#ceed4f"/><stop offset="0.5" stop-color="#d1ed4f"/><stop offset="0.584" stop-color="#d3ed50"/><stop offset="0.667" stop-color="#d5ec50"/><stop offset="0.75" stop-color="#d7ec50"/><stop offset="0.834" stop-color="#d9ec50"/><stop offset="0.917" stop-color="#daeb50"/><stop offset="1" stop-color="#daeb50"/></linearGradient>
<linearGradient id="f15" gradientUnits="userSpaceOnUse" x1="2611.8" y1="2787" x2="3378.4" y2="2619.9"><stop offset="0" stop-color="#caee4f"/><stop offset="0.083" stop-color="#caee4f"/><stop offset="0.166" stop-color="#cbee4f"/><stop offset="0.25" stop-color="#cdee4f"/><stop offset="0.333" stop-color="#cfed4f"/><stop offset="0.417" stop-color="#d1ed4f"/><stop offset="0.5" stop-color="#d3ed50"/><stop offset="0.584" stop-color="#d5ec50"/><stop offset="0.667" stop-color="#d7ec50"/><stop offset="0.75" stop-color="#d9ec50"/><stop offset="0.834" stop-color="#daeb50"/><stop offset="0.917" stop-color="#dbeb50"/><stop offset="1" stop-color="#dbeb50"/></linearGradient>
<linearGradient id="f16" gradientUnits="userSpaceOnUse" x1="2630.9" y1="2789.4" x2="3397.6" y2="2622.2"><stop offset="0" stop-color="#cdee4f"/><stop offset="0.083" stop-color="#cdee4f"/><stop offset="0.166" stop-color="#ceed4f"/><stop offset="0.25" stop-color="#d0ed4f"/><stop offset="0.333" stop-color="#d1ed4f"/><stop offset="0.417" stop-color="#d3ed50"/><stop offset="0.5" stop-color="#d5ec50"/><stop offset="0.584" stop-color="#d7ec50"/><stop offset="0.667" stop-color="#d9eb50"/><stop offset="0.75" stop-color="#dbeb50"/><stop offset="0.834" stop-color="#dceb50"/><stop offset="0.917" stop-color="#dcea50"/><stop offset="1" stop-color="#dcea50"/></linearGradient>
<linearGradient id="f17" gradientUnits="userSpaceOnUse" x1="2650" y1="2791.8" x2="3416.8" y2="2624.6"><stop offset="0" stop-color="#d0ed4f"/><stop offset="0.083" stop-color="#d0ed4f"/><stop offset="0.166" stop-color="#d1ed4f"/><stop offset="0.25" stop-color="#d2ed50"/><stop offset="0.333" stop-color="#d4ec50"/><stop offset="0.417" stop-color="#d6ec50"/><stop offset="0.5" stop-color="#d8ec50"/><stop offset="0.584" stop-color="#d9eb50"/><stop offset="0.667" stop-color="#dbeb50"/><stop offset="0.75" stop-color="#dceb50"/><stop offset="0.834" stop-color="#ddea50"/><stop offset="0.917" stop-color="#dde950"/><stop offset="1" stop-color="#dde950"/></linearGradient>
<linearGradient id="f18" gradientUnits="userSpaceOnUse" x1="2669.2" y1="2794.3" x2="3436.1" y2="2627.1"><stop offset="0" stop-color="#d2ed50"/><stop offset="0.083" stop-color="#d3ed50"/><stop offset="0.167" stop-color="#d4ec50"/><stop offset="0.25" stop-color="#d5ec50"/><stop offset="0.333" stop-color="#d6ec50"/><stop offset="0.417" stop-color="#d8ec50"/><stop offset="0.5" stop-color="#daeb50"/><stop offset="0.584" stop-color="#dbeb50"/><stop offset="0.667" stop-color="#dcea50"/><stop offset="0.75" stop-color="#dde950"/><stop offset="0.834" stop-color="#dee850"/><stop offset="1" stop-color="#dee850"/></linearGradient>
<linearGradient id="f19" gradientUnits="userSpaceOnUse" x1="2688.3" y1="2796.9" x2="3455.3" y2="2629.7"><stop offset="0" stop-color="#d5ec50"/><stop offset="0.083" stop-color="#d5ec50"/><stop offset="0.167" stop-color="#d6ec50"/><stop offset="0.25" stop-color="#d7ec50"/><stop offset="0.333" stop-color="#d9ec50"/><stop offset="0.417" stop-color="#daeb50"/><stop offset="0.5" stop-color="#dceb50"/><stop offset="0.584" stop-color="#ddea50"/><stop offset="0.667" stop-color="#dde950"/><stop offset="0.751" stop-color="#dee850"/><stop offset="0.834" stop-color="#dee751"/><stop offset="0.917" stop-color="#dfe751"/><stop offset="1" stop-color="#dee751"/></linearGradient>
<linearGradient id="f20" gradientUnits="userSpaceOnUse" x1="2707.4" y1="2799.5" x2="3474.5" y2="2632.3"><stop offset="0" stop-color="#d7ec50"/><stop offset="0.083" stop-color="#d8ec50"/><stop offset="0.167" stop-color="#d9ec50"/><stop offset="0.25" stop-color="#daeb50"/><stop offset="0.333" stop-color="#dbeb50"/><stop offset="0.417" stop-color="#dceb50"/><stop offset="0.5" stop-color="#ddea50"/><stop offset="0.584" stop-color="#dee850"/><stop offset="0.667" stop-color="#dee751"/><stop offset="0.751" stop-color="#dfe751"/><stop offset="0.834" stop-color="#dfe651"/><stop offset="1" stop-color="#dfe651"/></linearGradient>
<linearGradient id="f21" gradientUnits="userSpaceOnUse" x1="2726.5" y1="2802.2" x2="3493.7" y2="2635"><stop offset="0" stop-color="#daeb50"/><stop offset="0.083" stop-color="#daeb50"/><stop offset="0.167" stop-color="#dbeb50"/><stop offset="0.25" stop-color="#dceb50"/><stop offset="0.333" stop-color="#ddea50"/><stop offset="0.417" stop-color="#dde950"/><stop offset="0.5" stop-color="#dee850"/><stop offset="0.584" stop-color="#dfe751"/><stop offset="0.667" stop-color="#dfe651"/><stop offset="0.751" stop-color="#e0e551"/><stop offset="0.917" stop-color="#e0e551"/><stop offset="1" stop-color="#dfe651"/></linearGradient>
<linearGradient id="f22" gradientUnits="userSpaceOnUse" x1="2745.7" y1="2804.9" x2="3513" y2="2637.7"><stop offset="0" stop-color="#dceb50"/><stop offset="0.083" stop-color="#dcea50"/><stop offset="0.167" stop-color="#ddea50"/><stop offset="0.25" stop-color="#dde950"/><stop offset="0.333" stop-color="#dee850"/><stop offset="0.417" stop-color="#dee751"/><stop offset="0.5" stop-color="#dfe651"/><stop offset="0.584" stop-color="#dfe551"/><stop offset="0.667" stop-color="#e0e551"/><stop offset="0.751" stop-color="#e0e451"/><stop offset="0.917" stop-color="#e0e451"/><stop offset="1" stop-color="#e0e551"/></linearGradient>
<linearGradient id="f23" gradientUnits="userSpaceOnUse" x1="2764.8" y1="2807.7" x2="3532.2" y2="2640.5"><stop offset="0" stop-color="#dde950"/><stop offset="0.083" stop-color="#dee850"/><stop offset="0.167" stop-color="#dee850"/><stop offset="0.25" stop-color="#dee751"/><stop offset="0.334" stop-color="#dfe751"/><stop offset="0.417" stop-color="#dfe651"/><stop offset="0.5" stop-color="#e0e551"/><stop offset="0.584" stop-color="#e0e451"/><stop offset="0.667" stop-color="#e1e451"/><stop offset="0.751" stop-color="#e1e351"/><stop offset="0.834" stop-color="#e1e351"/><stop offset="0.917" stop-color="#e1e451"/><stop offset="1" stop-color="#e0e451"/></linearGradient>
<linearGradient id="f24" gradientUnits="userSpaceOnUse" x1="2783.9" y1="2810.5" x2="3551.4" y2="2643.4"><stop offset="0" stop-color="#dfe751"/><stop offset="0.083" stop-color="#dfe651"/><stop offset="0.167" stop-color="#dfe651"/><stop offset="0.25" stop-color="#dfe551"/><stop offset="0.334" stop-color="#e0e551"/><stop offset="0.417" stop-color="#e0e451"/><stop offset="0.5" stop-color="#e1e351"/><stop offset="0.584" stop-color="#e1e351"/><stop offset="0.667" stop-color="#e1e251"/><stop offset="0.834" stop-color="#e1e251"/><stop offset="0.917" stop-color="#e1e351"/><stop offset="1" stop-color="#e0e451"/></linearGradient>
<linearGradient id="f25" gradientUnits="userSpaceOnUse" x1="2803.1" y1="2813.4" x2="3570.6" y2="2646.2"><stop offset="0" stop-color="#e0e551"/><stop offset="0.083" stop-color="#e0e551"/><stop offset="0.167" stop-color="#e0e451"/><stop offset="0.25" stop-color="#e1e451"/><stop offset="0.334" stop-color="#e1e351"/><stop offset="0.417" stop-color="#e1e351"/><stop offset="0.5" stop-color="#e2e251"/><stop offset="0.584" stop-color="#e2e251"/><stop offset="0.667" stop-color="#e2e151"/><stop offset="0.751" stop-color="#e2e151"/><stop offset="0.834" stop-color="#e2e251"/><stop offset="0.917" stop-color="#e2e251"/><stop offset="1" stop-color="#e1e351"/></linearGradient>
<linearGradient id="f26" gradientUnits="userSpaceOnUse" x1="2822.2" y1="2816.3" x2="3589.9" y2="2649.1"><stop offset="0" stop-color="#e1e351"/><stop offset="0.083" stop-color="#e1e351"/><stop offset="0.167" stop-color="#e1e251"/><stop offset="0.25" stop-color="#e2e251"/><stop offset="0.334" stop-color="#e2e251"/><stop offset="0.417" stop-color="#e2e151"/><stop offset="0.501" stop-color="#e2e151"/><stop offset="0.584" stop-color="#e3e052"/><stop offset="0.751" stop-color="#e3e052"/><stop offset="0.834" stop-color="#e2e151"/><stop offset="0.917" stop-color="#e2e251"/><stop offset="1" stop-color="#e1e351"/></linearGradient>
<linearGradient id="f27" gradientUnits="userSpaceOnUse" x1="2841.3" y1="2819.3" x2="3609.1" y2="2652.1"><stop offset="0" stop-color="#e2e151"/><stop offset="0.167" stop-color="#e2e151"/><stop offset="0.25" stop-color="#e3e052"/><stop offset="0.417" stop-color="#e3e052"/><stop offset="0.501" stop-color="#e3df52"/><stop offset="0.667" stop-color="#e3df52"/><stop offset="0.751" stop-color="#e3e052"/><stop offset="0.834" stop-color="#e3e052"/><stop offset="0.917" stop-color="#e2e151"/><stop offset="1" stop-color="#e1e251"/></linearGradient>
<linearGradient id="f28" gradientUnits="userSpaceOnUse" x1="2860.4" y1="2822.2" x2="3628.3" y2="2655"><stop offset="0" stop-color="#e3df52"/><stop offset="0.083" stop-color="#e3df52"/><stop offset="0.167" stop-color="#e4df52"/><stop offset="0.334" stop-color="#e4df52"/><stop offset="0.417" stop-color="#e4de52"/><stop offset="0.667" stop-color="#e4de52"/><stop offset="0.751" stop-color="#e4df52"/><stop offset="0.834" stop-color="#e3e052"/><stop offset="0.917" stop-color="#e3e151"/><stop offset="1" stop-color="#e2e251"/></linearGradient>
<linearGradient id="f29" gradientUnits="userSpaceOnUse" x1="2879.6" y1="2825.2" x2="3647.5" y2="2658"><stop offset="0" stop-color="#e4de52"/><stop offset="0.083" stop-color="#e5dd52"/><stop offset="0.667" stop-color="#e5dd52"/><stop offset="0.751" stop-color="#e4de52"/><stop offset="0.834" stop-color="#e4df52"/><stop offset="0.917" stop-color="#e3e052"/><stop offset="1" stop-color="#e2e251"/></linearGradient>
<linearGradient id="f30" gradientUnits="userSpaceOnUse" x1="2898.7" y1="2828.3" x2="3666.8" y2="2661"><stop offset="0" stop-color="#e6dc52"/><stop offset="0.501" stop-color="#e6dc52"/><stop offset="0.584" stop-color="#e5dc52"/><stop offset="0.667" stop-color="#e5dd52"/><stop offset="0.751" stop-color="#e5dd52"/><stop offset="0.834" stop-color="#e4de52"/><stop offset="0.917" stop-color="#e3e052"/><stop offset="1" stop-color="#e2e151"/></linearGradient>
<linearGradient id="f31" gradientUnits="userSpaceOnUse" x1="2917.8" y1="2831.3" x2="3686" y2="2664"><stop offset="0" stop-color="#e7da52"/><stop offset="0.334" stop-color="#e7da52"/><stop offset="0.417" stop-color="#e6da52"/><stop offset="0.501" stop-color="#e6db52"/><stop offset="0.584" stop-color="#e6db52"/><stop offset="0.667" stop-color="#e6dc52"/><stop offset="0.751" stop-color="#e5dd52"/><stop offset="0.834" stop-color="#e4de52"/><stop offset="0.917" stop-color="#e3df52"/><stop offset="1" stop-color="#e2e151"/></linearGradient>
<linearGradient id="f32" gradientUnits="userSpaceOnUse" x1="2936.9" y1="2834.4" x2="3705.2" y2="2667.1"><stop offset="0" stop-color="#e8d853"/><stop offset="0.083" stop-color="#e8d853"/><stop offset="0.167" stop-color="#e8d953"/><stop offset="0.25" stop-color="#e8d953"/><stop offset="0.334" stop-color="#e7d953"/><stop offset="0.501" stop-color="#e7d953"/><stop offset="0.584" stop-color="#e7da52"/><stop offset="0.667" stop-color="#e6db52"/><stop offset="0.751" stop-color="#e6dc52"/><stop offset="0.834" stop-color="#e5dd52"/><stop offset="0.917" stop-color="#e4df52"/><stop offset="1" stop-color="#e3e151"/></linearGradient>
<linearGradient id="f33" gradientUnits="userSpaceOnUse" x1="2956.1" y1="2837.5" x2="3724.4" y2="2670.1"><stop offset="0" stop-color="#e9d753"/><stop offset="0.167" stop-color="#e9d753"/><stop offset="0.25" stop-color="#e8d753"/><stop offset="0.334" stop-color="#e8d753"/><stop offset="0.417" stop-color="#e8d853"/><stop offset="0.501" stop-color="#e8d853"/><stop offset="0.584" stop-color="#e7d953"/><stop offset="0.667" stop-color="#e7da52"/><stop offset="0.751" stop-color="#e6db52"/><stop offset="0.834" stop-color="#e5dd52"/><stop offset="0.917" stop-color="#e4de52"/><stop offset="1" stop-color="#e3e052"/></linearGradient>
<linearGradient id="f34" gradientUnits="userSpaceOnUse" x1="2975.2" y1="2840.6" x2="3743.7" y2="2673.1"><stop offset="0" stop-color="#ead553"/><stop offset="0.167" stop-color="#ead553"/><stop offset="0.251" stop-color="#e9d653"/><stop offset="0.334" stop-color="#e9d653"/><stop offset="0.417" stop-color="#e9d753"/><stop offset="0.501" stop-color="#e8d753"/><stop offset="0.584" stop-color="#e8d853"/><stop offset="0.667" stop-color="#e7d953"/><stop offset="0.751" stop-color="#e6da52"/><stop offset="0.834" stop-color="#e5dc52"/><stop offset="0.917" stop-color="#e4de52"/><stop offset="1" stop-color="#e3e052"/></linearGradient>
<linearGradient id="f35" gradientUnits="userSpaceOnUse" x1="2994.3" y1="2843.8" x2="3762.9" y2="2676.1"><stop offset="0" stop-color="#ebd453"/><stop offset="0.084" stop-color="#ebd453"/><stop offset="0.167" stop-color="#ead453"/><stop offset="0.251" stop-color="#ead453"/><stop offset="0.334" stop-color="#ead553"/><stop offset="0.417" stop-color="#ead553"/><stop offset="0.501" stop-color="#e9d653"/><stop offset="0.584" stop-color="#e8d753"/><stop offset="0.667" stop-color="#e8d853"/><stop offset="0.751" stop-color="#e7da52"/><stop offset="0.834" stop-color="#e6db52"/><stop offset="0.917" stop-color="#e5dd52"/><stop offset="1" stop-color="#e3e052"/></linearGradient>
<linearGradient id="f36" gradientUnits="userSpaceOnUse" x1="3013.5" y1="2846.9" x2="3782.1" y2="2679.1"><stop offset="0" stop-color="#ecd254"/><stop offset="0.084" stop-color="#ecd254"/><stop offset="0.167" stop-color="#ebd254"/><stop offset="0.251" stop-color="#ebd353"/><stop offset="0.334" stop-color="#ebd353"/><stop offset="0.417" stop-color="#ead453"/><stop offset="0.501" stop-color="#ead553"/><stop offset="0.584" stop-color="#e9d653"/><stop offset="0.667" stop-color="#e8d753"/><stop offset="0.751" stop-color="#e7d953"/><stop offset="0.834" stop-color="#e6db52"/><stop offset="0.917" stop-color="#e5dd52"/><stop offset="1" stop-color="#e3df52"/></linearGradient>
<linearGradient id="f37" gradientUnits="userSpaceOnUse" x1="3032.6" y1="2850.1" x2="3801.3" y2="2682"><stop offset="0" stop-color="#edd154"/><stop offset="0.084" stop-color="#ecd154"/><stop offset="0.251" stop-color="#ecd154"/><stop offset="0.334" stop-color="#ecd254"/><stop offset="0.417" stop-color="#ebd353"/><stop offset="0.501" stop-color="#ead453"/><stop offset="0.584" stop-color="#ead553"/><stop offset="0.667" stop-color="#e9d753"/><stop offset="0.751" stop-color="#e8d853"/><stop offset="0.834" stop-color="#e7da52"/><stop offset="0.917" stop-color="#e5dc52"/><stop offset="1" stop-color="#e4df52"/></linearGradient>
<linearGradient id="f38" gradientUnits="userSpaceOnUse" x1="3051.7" y1="2853.2" x2="3820.6" y2="2685"><stop offset="0" stop-color="#eecf54"/><stop offset="0.084" stop-color="#edcf54"/><stop offset="0.167" stop-color="#edd054"/><stop offset="0.251" stop-color="#edd054"/><stop offset="0.334" stop-color="#ecd154"/><stop offset="0.418" stop-color="#ecd254"/><stop offset="0.501" stop-color="#ebd353"/><stop offset="0.584" stop-color="#ead453"/><stop offset="0.667" stop-color="#e9d653"/><stop offset="0.751" stop-color="#e8d853"/><stop offset="0.834" stop-color="#e7da52"/><stop offset="0.917" stop-color="#e6dc52"/><stop offset="1" stop-color="#e4de52"/></linearGradient>
<linearGradient id="f39" gradientUnits="userSpaceOnUse" x1="3070.8" y1="2856.4" x2="3839.8" y2="2687.9"><stop offset="0" stop-color="#eece54"/><stop offset="0.167" stop-color="#eece54"/><stop offset="0.251" stop-color="#eecf54"/><stop offset="0.334" stop-color="#edcf54"/><stop offset="0.418" stop-color="#edd054"/><stop offset="0.501" stop-color="#ecd254"/><stop offset="0.584" stop-color="#ebd353"/><stop offset="0.667" stop-color="#ead553"/><stop offset="0.751" stop-color="#e9d753"/><stop offset="0.834" stop-color="#e7d953"/><stop offset="0.917" stop-color="#e6db52"/><stop offset="1" stop-color="#e4de52"/></linearGradient>
<clipPath id="csf"><path d="M2315.3 2760 C2570.3 2714.9 2825.4 2645.5 3080.4 2597.5 C3336.7 2602.7 3593.1 2651 3849.4 2689.3 C3593.1 2741.4 3336.7 2796.9 3080.4 2858 C2825.4 2815.7 2570.3 2773.5 2315.3 2760Z"/></clipPath>
<filter id="blf0" x="-5%" y="-60%" width="110%" height="220%"><feGaussianBlur stdDeviation="25"/></filter>
</defs>
<rect width="4016" height="3585" fill="#fff"/>
<g id="panel-a">
<path d="M417 845 L1153 1077 L1889 844 L1153 665Z" fill="#eef51f"/>
<g fill="none" clip-path="url(#fla)"><path d="M944 1000.5 Q1303 932.8 1650 798" stroke="#a4f03e" stroke-width="5.5" stroke-opacity="0.85"/><path d="M1032.7 1026.2 Q1455.8 934.5 1775.7 812.9" stroke="#a4f03e" stroke-width="5.5" stroke-opacity="0.85"/><path d="M1106.2 1052 Q1540.3 926.9 1827.2 831.3" stroke="#a4f03e" stroke-width="5.5" stroke-opacity="0.85"/><path d="M753 940 Q1143.5 905 1500 770" stroke="#a4f03e" stroke-width="4" stroke-opacity="0.12"/></g>
<path d="M417 845 L1153 1077 L1889 844 L1153 665Z M417 845 L369 181 L1153.5 62 L1938 181 L1889 844 M1153.5 62 L1153 665" fill="none" stroke="#0a0a0a" stroke-width="3.8" stroke-linejoin="round"/>
<g fill="#0a0a0a"><circle cx="405.6" cy="687" r="4.6"/><circle cx="398.3" cy="585.8" r="4.6"/><circle cx="390.9" cy="484.6" r="4.6"/><circle cx="383.6" cy="383.4" r="4.6"/><circle cx="376.3" cy="282.2" r="4.6"/><circle cx="369" cy="181" r="4.6"/><circle cx="417" cy="845" r="4.6"/><circle cx="601" cy="903" r="4.6"/><circle cx="785" cy="961" r="4.6"/><circle cx="969" cy="1019" r="4.6"/><circle cx="1153" cy="1077" r="4.6"/><circle cx="1153" cy="1077" r="4.6"/><circle cx="1337" cy="1018.8" r="4.6"/><circle cx="1521" cy="960.5" r="4.6"/><circle cx="1705" cy="902.2" r="4.6"/><circle cx="1889" cy="844" r="4.6"/></g>
<g stroke-width="1.5"><path d="M376.5 288 C635.2 318 893.8 554.8 1152.5 837 L1171.3 831.2 C912.8 547.3 654.4 314.3 395.9 283.4Z" fill="url(#a0)" stroke="url(#a0)"/><path d="M395.9 283.4 C654.4 314.3 912.8 547.3 1171.3 831.2 L1190.1 825.5 C931.9 540 673.6 310.7 415.3 278.9Z" fill="url(#a1)" stroke="url(#a1)"/><path d="M415.3 278.9 C673.6 310.7 931.9 540 1190.1 825.5 L1208.9 819.8 C950.9 532.7 692.8 307.1 434.7 274.4Z" fill="url(#a2)" stroke="url(#a2)"/><path d="M434.7 274.4 C692.8 307.1 950.9 532.7 1208.9 819.8 L1227.8 814.3 C969.9 525.5 712 303.6 454.1 270Z" fill="url(#a3)" stroke="url(#a3)"/><path d="M454.1 270 C712 303.6 969.9 525.5 1227.8 814.3 L1246.6 808.8 C988.9 518.3 731.2 300.2 473.5 265.7Z" fill="url(#a4)" stroke="url(#a4)"/><path d="M473.5 265.7 C731.2 300.2 988.9 518.3 1246.6 808.8 L1265.4 803.3 C1007.9 511.2 750.4 296.8 492.9 261.4Z" fill="url(#a5)" stroke="url(#a5)"/><path d="M492.9 261.4 C750.4 296.8 1007.9 511.2 1265.4 803.3 L1284.2 798 C1026.9 504.2 769.6 293.5 512.3 257.2Z" fill="url(#a6)" stroke="url(#a6)"/><path d="M512.3 257.2 C769.6 293.5 1026.9 504.2 1284.2 798 L1303 792.6 C1045.9 497.2 788.8 290.3 531.7 253Z" fill="url(#a7)" stroke="url(#a7)"/><path d="M531.7 253 C788.8 290.3 1045.9 497.2 1303 792.6 L1321.8 787.3 C1064.9 490.2 808 287.1 551.1 248.9Z" fill="url(#a8)" stroke="url(#a8)"/><path d="M551.1 248.9 C808 287.1 1064.9 490.2 1321.8 787.3 L1340.6 782.1 C1083.9 483.4 827.2 284 570.5 244.9Z" fill="url(#a9)" stroke="url(#a9)"/><path d="M570.5 244.9 C827.2 284 1083.9 483.4 1340.6 782.1 L1359.4 776.8 C1102.9 476.5 846.4 280.9 589.9 241Z" fill="url(#a10)" stroke="url(#a10)"/><path d="M589.9 241 C846.4 280.9 1102.9 476.5 1359.4 776.8 L1378.2 771.6 C1121.9 469.7 865.6 277.9 609.3 237.1Z" fill="url(#a11)" stroke="url(#a11)"/><path d="M609.3 237.1 C865.6 277.9 1121.9 469.7 1378.2 771.6 L1397.1 766.4 C1140.9 462.9 884.8 274.9 628.7 233.3Z" fill="url(#a12)" stroke="url(#a12)"/><path d="M628.7 233.3 C884.8 274.9 1140.9 462.9 1397.1 766.4 L1415.9 761.2 C1159.9 456.2 904 272 648.1 229.6Z" fill="url(#a13)" stroke="url(#a13)"/><path d="M648.1 229.6 C904 272 1159.9 456.2 1415.9 761.2 L1434.7 756 C1179 449.5 923.2 269.2 667.5 226Z" fill="url(#a14)" stroke="url(#a14)"/><path d="M667.5 226 C923.2 269.2 1179 449.5 1434.7 756 L1453.5 750.9 C1198 442.8 942.4 266.4 686.9 222.5Z" fill="url(#a15)" stroke="url(#a15)"/><path d="M686.9 222.5 C942.4 266.4 1198 442.8 1453.5 750.9 L1472.3 745.7 C1217 436.1 961.6 263.6 706.3 219Z" fill="url(#a16)" stroke="url(#a16)"/><path d="M706.3 219 C961.6 263.6 1217 436.1 1472.3 745.7 L1491.1 740.4 C1236 429.5 980.8 260.9 725.7 215.6Z" fill="url(#a17)" stroke="url(#a17)"/><path d="M725.7 215.6 C980.8 260.9 1236 429.5 1491.1 740.4 L1509.9 735.2 C1255 422.9 1000 258.3 745.1 212.4Z" fill="url(#a18)" stroke="url(#a18)"/><path d="M745.1 212.4 C1000 258.3 1255 422.9 1509.9 735.2 L1528.8 729.9 C1274 416.2 1019.2 255.7 764.5 209.2Z" fill="url(#a19)" stroke="url(#a19)"/><path d="M764.5 209.2 C1019.2 255.7 1274 416.2 1528.8 729.9 L1547.6 724.6 C1293 409.6 1038.5 253.2 783.9 206.1Z" fill="url(#a20)" stroke="url(#a20)"/><path d="M783.9 206.1 C1038.5 253.2 1293 409.6 1547.6 724.6 L1566.4 719.2 C1312 403 1057.7 250.7 803.3 203.1Z" fill="url(#a21)" stroke="url(#a21)"/><path d="M803.3 203.1 C1057.7 250.7 1312 403 1566.4 719.2 L1585.2 713.8 C1331 396.4 1076.9 248.3 822.7 200.3Z" fill="url(#a22)" stroke="url(#a22)"/><path d="M822.7 200.3 C1076.9 248.3 1331 396.4 1585.2 713.8 L1604 708.4 C1350 389.8 1096.1 245.9 842.1 197.5Z" fill="url(#a23)" stroke="url(#a23)"/><path d="M842.1 197.5 C1096.1 245.9 1350 389.8 1604 708.4 L1622.8 702.8 C1369 383.2 1115.3 243.6 861.5 194.8Z" fill="url(#a24)" stroke="url(#a24)"/><path d="M861.5 194.8 C1115.3 243.6 1369 383.2 1622.8 702.8 L1641.6 697.2 C1388.1 376.6 1134.5 241.3 880.9 192.2Z" fill="url(#a25)" stroke="url(#a25)"/><path d="M880.9 192.2 C1134.5 241.3 1388.1 376.6 1641.6 697.2 L1660.4 691.6 C1407.1 369.9 1153.7 239.1 900.3 189.8Z" fill="url(#a26)" stroke="url(#a26)"/><path d="M900.3 189.8 C1153.7 239.1 1407.1 369.9 1660.4 691.6 L1679.2 685.8 C1426.1 363.3 1172.9 236.9 919.7 187.4Z" fill="url(#a27)" stroke="url(#a27)"/><path d="M919.7 187.4 C1172.9 236.9 1426.1 363.3 1679.2 685.8 L1698.1 680 C1445.1 356.6 1192.1 234.8 939.1 185.2Z" fill="url(#a28)" stroke="url(#a28)"/><path d="M939.1 185.2 C1192.1 234.8 1445.1 356.6 1698.1 680 L1716.9 674 C1464.1 349.9 1211.3 232.7 958.5 183.1Z" fill="url(#a29)" stroke="url(#a29)"/><path d="M958.5 183.1 C1211.3 232.7 1464.1 349.9 1716.9 674 L1735.7 668 C1483.1 343.1 1230.5 230.7 977.9 181.1Z" fill="url(#a30)" stroke="url(#a30)"/><path d="M977.9 181.1 C1230.5 230.7 1483.1 343.1 1735.7 668 L1754.5 661.9 C1502.1 336.4 1249.7 228.7 997.3 179.3Z" fill="url(#a31)" stroke="url(#a31)"/><path d="M997.3 179.3 C1249.7 228.7 1502.1 336.4 1754.5 661.9 L1773.3 655.6 C1521.1 329.6 1268.9 226.7 1016.7 177.5Z" fill="url(#a32)" stroke="url(#a32)"/><path d="M1016.7 177.5 C1268.9 226.7 1521.1 329.6 1773.3 655.6 L1792.1 649.2 C1540.1 322.7 1288.1 224.8 1036.1 175.9Z" fill="url(#a33)" stroke="url(#a33)"/><path d="M1036.1 175.9 C1288.1 224.8 1540.1 322.7 1792.1 649.2 L1810.9 642.7 C1559.1 315.9 1307.3 223 1055.5 174.4Z" fill="url(#a34)" stroke="url(#a34)"/><path d="M1055.5 174.4 C1307.3 223 1559.1 315.9 1810.9 642.7 L1829.8 636.1 C1578.1 308.9 1326.5 221.2 1074.9 173.1Z" fill="url(#a35)" stroke="url(#a35)"/><path d="M1074.9 173.1 C1326.5 221.2 1578.1 308.9 1829.8 636.1 L1848.6 629.3 C1597.1 302 1345.7 219.4 1094.3 171.8Z" fill="url(#a36)" stroke="url(#a36)"/><path d="M1094.3 171.8 C1345.7 219.4 1597.1 302 1848.6 629.3 L1867.4 622.3 C1616.1 294.9 1364.9 217.6 1113.7 170.8Z" fill="url(#a37)" stroke="url(#a37)"/><path d="M1113.7 170.8 C1364.9 217.6 1616.1 294.9 1867.4 622.3 L1886.2 615.2 C1635.2 287.8 1384.1 216 1133.1 169.8Z" fill="url(#a38)" stroke="url(#a38)"/><path d="M1133.1 169.8 C1384.1 216 1635.2 287.8 1886.2 615.2 L1905 608 C1654.2 280.7 1403.3 214.3 1152.5 169Z" fill="url(#a39)" stroke="url(#a39)"/></g>
<g clip-path="url(#csa)"><path d="M600 197 L628 191 L656 186 L684 181 L712 176 L740 171 L768 167 L796 162 L824 158 L852 154 L880 150 L908 147 L936 144 L964 141 L992 138 L1020 135 L1048 133 L1076 131 L1104 129 L1132 128 L1160 128 L1188 134 L1216 139 L1244 145 L1272 151 L1300 158 L1328 165 L1356 173 L1384 182 L1412 191 L1440 202 L1468 213 L1496 225 L1524 238 L1552 253 L1580 269 L1608 286 L1636 304 L1664 324 L1692 345 L1720 368 L1720 380 L1692 368 L1664 356 L1636 347 L1608 339 L1580 326 L1552 313 L1524 301 L1496 291 L1468 281 L1440 272 L1412 264 L1384 257 L1356 251 L1328 245 L1300 240 L1272 235 L1244 231 L1216 227 L1188 223 L1160 220 L1132 218 L1104 216 L1076 215 L1048 213 L1020 213 L992 212 L964 212 L936 212 L908 212 L880 213 L852 215 L824 217 L796 219 L768 221 L740 224 L712 227 L684 225 L656 219 L628 214 L600 209Z" fill="#000" fill-opacity="0.75" filter="url(#bla0)"/></g>
<g clip-path="url(#csa)"><path d="M376 138 L414 129 L452 120 L491 112 L529 104 L567 96 L605 88 L644 80 L682 73 L720 67 L758 60 L796 54 L835 49 L873 43 L911 38 L949 34 L988 30 L1026 27 L1064 24 L1102 21 L1140 19 L1179 24 L1217 31 L1255 39 L1293 48 L1332 58 L1370 69 L1408 82 L1446 96 L1485 112 L1523 130 L1561 150 L1599 172 L1637 197 L1676 225 L1714 255 L1752 289 L1790 326 L1829 366 L1867 410 L1905 458 L1905 608 L1867 575 L1829 545 L1790 518 L1752 492 L1714 468 L1676 448 L1637 430 L1599 416 L1561 404 L1523 394 L1485 384 L1446 374 L1408 365 L1370 358 L1332 352 L1293 348 L1255 345 L1217 342 L1179 340 L1140 337 L1102 333 L1064 328 L1026 324 L988 321 L949 318 L911 316 L873 314 L835 312 L796 311 L758 311 L720 310 L682 310 L644 310 L605 310 L567 311 L529 312 L491 313 L452 315 L414 316 L376 318Z" fill="#000" fill-opacity="0.3" filter="url(#bla1)"/></g>
<path d="M376.5 288 C635.2 226.7 893.8 178.8 1152.5 169 M384.3 289 C642.8 228 901.4 180.5 1160 170.4 M392 290 C650.5 229.4 909 182.3 1167.5 171.7 M399.8 291.3 C658.2 230.9 916.6 184.2 1175.1 173.1 M407.5 292.6 C665.9 232.4 924.2 186.1 1182.6 174.6 M415.3 294 C673.6 234.1 931.8 188 1190.1 176 M423.1 295.6 C681.3 235.8 939.5 190 1197.7 177.4 M430.8 297.3 C688.9 237.6 947.1 192.1 1205.2 178.9 M438.6 299.1 C696.6 239.5 954.7 194.2 1212.7 180.4 M446.3 301 C704.3 241.5 962.3 196.4 1220.2 181.9 M454.1 303 C712 243.6 969.9 198.6 1227.8 183.5 M461.9 305.2 C719.7 245.7 977.5 200.9 1235.3 185 M469.6 307.4 C727.3 248 985.1 203.2 1242.8 186.6 M477.4 309.8 C735 250.3 992.7 205.6 1250.3 188.3 M485.1 312.3 C742.7 252.7 1000.3 208 1257.8 189.9 M492.9 314.9 C750.4 255.2 1007.9 210.5 1265.4 191.6 M500.7 317.6 C758.1 257.8 1015.5 213.1 1272.9 193.3 M508.4 320.4 C765.8 260.4 1023.1 215.7 1280.4 195.1 M516.2 323.3 C773.4 263.2 1030.7 218.4 1288 196.9 M523.9 326.4 C781.1 266 1038.3 221.2 1295.5 198.8 M531.7 329.5 C788.8 268.9 1045.9 224 1303 200.6 M539.5 332.8 C796.5 271.9 1053.5 226.9 1310.5 202.6 M547.2 336.1 C804.2 275 1061.1 229.8 1318 204.5 M555 339.5 C811.8 278.2 1068.7 232.8 1325.6 206.5 M562.7 343.1 C819.5 281.4 1076.3 235.9 1333.1 208.6 M570.5 346.7 C827.2 284.8 1083.9 239 1340.6 210.7 M578.3 350.5 C834.9 288.2 1091.5 242.2 1348.2 212.8 M586 354.3 C842.6 291.7 1099.1 245.4 1355.7 215 M593.8 358.3 C850.3 295.3 1106.7 248.8 1363.2 217.3 M601.5 362.3 C857.9 298.9 1114.3 252.2 1370.7 219.6 M609.3 366.5 C865.6 302.7 1121.9 255.6 1378.2 221.9 M617.1 370.7 C873.3 306.5 1129.5 259.2 1385.8 224.4 M624.8 375 C881 310.4 1137.1 262.8 1393.3 226.8 M632.6 379.4 C888.7 314.4 1144.7 266.4 1400.8 229.4 M640.3 384 C896.3 318.5 1152.3 270.2 1408.3 232 M648.1 388.6 C904 322.6 1160 274 1415.9 234.6 M655.9 393.3 C911.7 326.9 1167.6 277.9 1423.4 237.3 M663.6 398 C919.4 331.2 1175.2 281.8 1430.9 240.1 M671.4 402.9 C927.1 335.6 1182.8 285.9 1438.5 242.9 M679.1 407.9 C934.8 340 1190.4 290 1446 245.9 M686.9 412.9 C942.4 344.6 1198 294.2 1453.5 248.8 M694.7 418 C950.1 349.2 1205.6 298.4 1461 251.9 M702.4 423.3 C957.8 354 1213.2 302.8 1468.5 255 M710.2 428.6 C965.5 358.8 1220.8 307.2 1476.1 258.2 M717.9 433.9 C973.2 363.6 1228.4 311.7 1483.6 261.5 M725.7 439.4 C980.8 368.6 1236 316.2 1491.1 264.8 M733.5 444.9 C988.5 373.6 1243.6 320.9 1498.7 268.3 M741.2 450.6 C996.2 378.7 1251.2 325.6 1506.2 271.8 M749 456.3 C1003.9 383.9 1258.8 330.4 1513.7 275.3 M756.7 462 C1011.6 389.2 1266.4 335.3 1521.2 279 M764.5 467.9 C1019.2 394.6 1274 340.2 1528.8 282.8 M772.3 473.8 C1026.9 400 1281.6 345.3 1536.3 286.6 M780 479.8 C1034.6 405.5 1289.2 350.4 1543.8 290.5 M787.8 485.9 C1042.3 411.1 1296.8 355.6 1551.3 294.5 M795.5 492.1 C1050 416.8 1304.4 360.9 1558.8 298.6 M803.3 498.3 C1057.7 422.5 1312 366.3 1566.4 302.8 M811.1 504.6 C1065.3 428.3 1319.6 371.7 1573.9 307.1 M818.8 511 C1073 434.2 1327.2 377.3 1581.4 311.4 M826.6 517.4 C1080.7 440.2 1334.8 382.9 1588.9 315.9 M834.3 523.9 C1088.4 446.3 1342.4 388.6 1596.5 320.5 M842.1 530.5 C1096.1 452.4 1350 394.5 1604 325.1 M849.9 537.1 C1103.7 458.6 1357.6 400.3 1611.5 329.9 M857.6 543.8 C1111.4 464.9 1365.2 406.3 1619 334.7 M865.4 550.6 C1119.1 471.3 1372.8 412.4 1626.6 339.7 M873.1 557.4 C1126.8 477.7 1380.4 418.6 1634.1 344.8 M880.9 564.3 C1134.5 484.2 1388 424.8 1641.6 349.9 M888.7 571.2 C1142.2 490.8 1395.7 431.2 1649.2 355.2 M896.4 578.2 C1149.8 497.5 1403.3 437.6 1656.7 360.6 M904.2 585.3 C1157.5 504.2 1410.9 444.1 1664.2 366.1 M911.9 592.4 C1165.2 511 1418.5 450.8 1671.7 371.7 M919.7 599.6 C1172.9 517.9 1426.1 457.5 1679.2 377.4 M927.5 606.9 C1180.6 524.9 1433.7 464.3 1686.8 383.2 M935.2 614.2 C1188.2 531.9 1441.3 471.2 1694.3 389.2 M943 621.5 C1195.9 539.1 1448.9 478.2 1701.8 395.2 M950.7 628.9 C1203.6 546.3 1456.5 485.3 1709.3 401.4 M958.5 636.4 C1211.3 553.5 1464.1 492.5 1716.9 407.7 M966.3 643.9 C1219 560.9 1471.7 499.8 1724.4 414.1 M974 651.4 C1226.7 568.3 1479.3 507.2 1731.9 420.7 M981.8 659 C1234.3 575.8 1486.9 514.7 1739.5 427.3 M989.5 666.7 C1242 583.3 1494.5 522.2 1747 434.1 M997.3 674.4 C1249.7 591 1502.1 529.9 1754.5 441 M1005.1 682.2 C1257.4 598.7 1509.7 537.7 1762 448.1 M1012.8 690 C1265.1 606.5 1517.3 545.6 1769.5 455.2 M1020.6 697.8 C1272.7 614.4 1524.9 553.6 1777.1 462.5 M1028.3 705.7 C1280.4 622.3 1532.5 561.7 1784.6 470 M1036.1 713.6 C1288.1 630.3 1540.1 569.9 1792.1 477.5 M1043.9 721.6 C1295.8 638.4 1547.7 578.2 1799.7 485.2 M1051.6 729.6 C1303.5 646.5 1555.3 586.6 1807.2 493.1 M1059.4 737.6 C1311.2 654.7 1562.9 595.1 1814.7 501 M1067.1 745.7 C1318.8 663 1570.5 603.7 1822.2 509.1 M1074.9 753.9 C1326.5 671.4 1578.1 612.5 1829.8 517.4 M1082.7 762 C1334.2 679.9 1585.7 621.3 1837.3 525.8 M1090.4 770.2 C1341.9 688.4 1593.3 630.2 1844.8 534.3 M1098.2 778.5 C1349.6 697 1600.9 639.3 1852.3 543 M1105.9 786.7 C1357.2 705.6 1608.5 648.4 1859.8 551.9 M1113.7 795 C1364.9 714.3 1616.1 657.7 1867.4 560.8 M1121.5 803.4 C1372.6 723.1 1623.8 667.1 1874.9 570 M1129.2 811.7 C1380.3 732 1631.4 676.6 1882.4 579.2 M1137 820.1 C1388 741 1639 686.2 1889.9 588.7 M1144.7 828.5 C1395.7 750 1646.6 695.9 1897.5 598.3 M1152.5 837 C1403.3 759 1654.2 705.7 1905 608" fill="none" stroke="#000" stroke-opacity="0.5" stroke-width="3.0"/>
<path d="M376.5 288 C635.2 318 893.8 554.8 1152.5 837 M387.6 285.4 C646.1 315.9 904.7 550.5 1163.2 833.7 M398.7 282.8 C657.1 313.8 915.6 546.3 1174 830.4 M409.8 280.2 C668.1 311.7 926.4 542.1 1184.8 827.1 M420.8 277.6 C679.1 309.7 937.3 537.9 1195.5 823.9 M431.9 275.1 C690 307.6 948.1 533.7 1206.2 820.6 M443 272.6 C701 305.6 959 529.6 1217 817.5 M454.1 270 C712 303.6 969.9 525.5 1227.8 814.3 M465.2 267.5 C723 301.7 980.7 521.4 1238.5 811.1 M476.3 265.1 C733.9 299.7 991.6 517.3 1249.2 808 M487.4 262.6 C744.9 297.8 1002.5 513.2 1260 804.9 M498.4 260.2 C755.9 295.9 1013.3 509.2 1270.8 801.8 M509.5 257.8 C766.9 294 1024.2 505.2 1281.5 798.7 M520.6 255.4 C777.8 292.1 1035 501.2 1292.2 795.7 M531.7 253 C788.8 290.3 1045.9 497.2 1303 792.6 M542.8 250.7 C799.8 288.4 1056.8 493.2 1313.8 789.6 M553.9 248.4 C810.7 286.6 1067.6 489.3 1324.5 786.6 M565 246.1 C821.7 284.8 1078.5 485.3 1335.2 783.6 M576 243.8 C832.7 283.1 1089.3 481.4 1346 780.6 M587.1 241.5 C843.7 281.3 1100.2 477.5 1356.8 777.6 M598.2 239.3 C854.6 279.6 1111.1 473.6 1367.5 774.6 M609.3 237.1 C865.6 277.9 1121.9 469.7 1378.2 771.6 M620.4 234.9 C876.6 276.2 1132.8 465.8 1389 768.7 M631.5 232.8 C887.6 274.5 1143.7 462 1399.8 765.7 M642.6 230.7 C898.5 272.8 1154.5 458.1 1410.5 762.7 M653.6 228.6 C909.5 271.2 1165.4 454.3 1421.2 759.8 M664.7 226.5 C920.5 269.6 1176.2 450.4 1432 756.8 M675.8 224.5 C931.5 268 1187.1 446.6 1442.8 753.8 M686.9 222.5 C942.4 266.4 1198 442.8 1453.5 750.9 M698 220.5 C953.4 264.8 1208.8 439 1464.2 747.9 M709.1 218.5 C964.4 263.2 1219.7 435.2 1475 744.9 M720.2 216.6 C975.4 261.7 1230.6 431.4 1485.8 741.9 M731.2 214.7 C986.3 260.2 1241.4 427.6 1496.5 738.9 M742.3 212.8 C997.3 258.7 1252.3 423.8 1507.2 735.9 M753.4 211 C1008.3 257.2 1263.1 420 1518 732.9 M764.5 209.2 C1019.2 255.7 1274 416.2 1528.8 729.9 M775.6 207.4 C1030.2 254.3 1284.9 412.5 1539.5 726.9 M786.7 205.7 C1041.2 252.9 1295.7 408.7 1550.2 723.8 M797.8 204 C1052.2 251.4 1306.6 404.9 1561 720.8 M808.8 202.3 C1063.1 250 1317.4 401.1 1571.8 717.7 M819.9 200.7 C1074.1 248.7 1328.3 397.4 1582.5 714.6 M831 199 C1085.1 247.3 1339.2 393.6 1593.2 711.5 M842.1 197.5 C1096.1 245.9 1350 389.8 1604 708.4 M853.2 195.9 C1107 244.6 1360.9 386 1614.8 705.2 M864.3 194.4 C1118 243.3 1371.8 382.2 1625.5 702 M875.4 193 C1129 242 1382.6 378.4 1636.2 698.9 M886.4 191.5 C1140 240.7 1393.5 374.7 1647 695.6 M897.5 190.1 C1150.9 239.4 1404.3 370.9 1657.8 692.4 M908.6 188.8 C1161.9 238.2 1415.2 367.1 1668.5 689.1 M919.7 187.4 C1172.9 236.9 1426.1 363.3 1679.2 685.8 M930.8 186.2 C1183.9 235.7 1436.9 359.4 1690 682.5 M941.9 184.9 C1194.8 234.5 1447.8 355.6 1700.8 679.1 M953 183.7 C1205.8 233.3 1458.7 351.8 1711.5 675.7 M964 182.5 C1216.8 232.1 1469.5 347.9 1722.2 672.3 M975.1 181.4 C1227.8 231 1480.4 344.1 1733 668.9 M986.2 180.3 C1238.7 229.8 1491.2 340.2 1743.8 665.4 M997.3 179.3 C1249.7 228.7 1502.1 336.4 1754.5 661.9 M1008.4 178.2 C1260.7 227.6 1513 332.5 1765.2 658.3 M1019.5 177.3 C1271.6 226.5 1523.8 328.6 1776 654.7 M1030.6 176.3 C1282.6 225.4 1534.7 324.7 1786.8 651 M1041.6 175.5 C1293.6 224.3 1545.5 320.8 1797.5 647.4 M1052.7 174.6 C1304.6 223.2 1556.4 316.8 1808.2 643.6 M1063.8 173.8 C1315.5 222.2 1567.3 312.9 1819 639.9 M1074.9 173.1 C1326.5 221.2 1578.1 308.9 1829.8 636.1 M1086 172.3 C1337.5 220.1 1589 305 1840.5 632.2 M1097.1 171.7 C1348.5 219.1 1599.9 301 1851.2 628.3 M1108.2 171 C1359.4 218.1 1610.7 296.9 1862 624.3 M1119.2 170.5 C1370.4 217.2 1621.6 292.9 1872.8 620.3 M1130.3 169.9 C1381.4 216.2 1632.4 288.9 1883.5 616.3 M1141.4 169.4 C1392.4 215.2 1643.3 284.8 1894.2 612.2 M1152.5 169 C1403.3 214.3 1654.2 280.7 1905 608" fill="none" stroke="#000" stroke-opacity="0.5" stroke-width="3.0"/>
<ellipse cx="375" cy="287" rx="15" ry="10" fill="#f20d0d" stroke="#5a0505" stroke-width="2.5"/>
<ellipse cx="1153.5" cy="162.8" rx="15" ry="10" fill="#f20d0d" stroke="#5a0505" stroke-width="2.5"/>
<ellipse cx="1153.5" cy="337.4" rx="15" ry="10" fill="#f20d0d" stroke="#5a0505" stroke-width="2.5"/>
<ellipse cx="1907.3" cy="607.4" rx="15" ry="10" fill="#f20d0d" stroke="#5a0505" stroke-width="2.5"/>
<ellipse cx="1153.5" cy="818.2" rx="15" ry="10" fill="#f20d0d" stroke="#5a0505" stroke-width="2.5"/>
<g transform="translate(394 110)"><text font-size="62" text-anchor="middle" transform="scale(0.91 1)" y="13">a</text></g>
<g transform="translate(278 192)"><text font-size="62" text-anchor="middle" transform="scale(0.91 1)" y="18">100%</text></g>
<g transform="translate(300 291)"><text font-size="62" text-anchor="middle" transform="scale(0.91 1)" y="18">90%</text></g>
<g transform="translate(310 390)"><text font-size="62" text-anchor="middle" transform="scale(0.91 1)" y="18">80%</text></g>
<g transform="translate(318.8 490.4)"><text font-size="62" text-anchor="middle" transform="scale(0.91 1)" y="18">70%</text></g>
<g transform="translate(328.6 588.5)"><text font-size="62" text-anchor="middle" transform="scale(0.91 1)" y="18">60%</text></g>
<g transform="translate(336 693)"><text font-size="62" text-anchor="middle" transform="scale(0.91 1)" y="18">50%</text></g>
<g transform="translate(372.7 884.5) rotate(17.5)"><text font-size="62" text-anchor="middle" transform="scale(0.91 1)" y="18">6.00</text></g>
<g transform="translate(551.7 943.3) rotate(17.5)"><text font-size="62" text-anchor="middle" transform="scale(0.91 1)" y="18">5.00</text></g>
<g transform="translate(733 1002) rotate(17.5)"><text font-size="62" text-anchor="middle" transform="scale(0.91 1)" y="18">4.00</text></g>
<g transform="translate(927 1063.5) rotate(17.5)"><text font-size="62" text-anchor="middle" transform="scale(0.91 1)" y="18">3.00</text></g>
<g transform="translate(1108 1120) rotate(17.5)"><text font-size="62" text-anchor="middle" transform="scale(0.91 1)" y="18">2.00</text></g>
<g transform="translate(1225.6 1095) rotate(-17.5)"><text font-size="62" text-anchor="middle" transform="scale(0.91 1)" y="18">8.00</text></g>
<g transform="translate(1365 1051) rotate(-17.5)"><text font-size="62" text-anchor="middle" transform="scale(0.91 1)" y="18">8.50</text></g>
<g transform="translate(1544 997) rotate(-17.5)"><text font-size="62" text-anchor="middle" transform="scale(0.91 1)" y="18">9.00</text></g>
<g transform="translate(1740.6 933.5) rotate(-17.5)"><text font-size="62" text-anchor="middle" transform="scale(0.91 1)" y="18">9.50</text></g>
<g transform="translate(1924.5 874.6) rotate(-17.5)"><text font-size="62" text-anchor="middle" transform="scale(0.91 1)" y="18">10.00</text></g>
<g transform="translate(1637.6 1095) rotate(-17.5)"><text font-size="62" text-anchor="middle" transform="scale(0.91 1)" y="12.4">pH</text></g>
<g transform="translate(677 1110) rotate(20)"><text font-size="62" text-anchor="middle" transform="scale(0.91 1)" y="3.1"><tspan class="it">n</tspan><tspan font-size="40" dy="14">Mg</tspan><tspan dy="-14">/</tspan><tspan class="it">n</tspan><tspan font-size="40" dy="14">P</tspan></text></g>
<g transform="translate(155 502) rotate(-95)"><text class="cj" font-size="62" text-anchor="middle" transform="scale(1 1.0)" y="22.3">磷回收率</text></g>
</g>
<g id="panel-b">
<path d="M2360 850 L3084 1080.6 L3808 851 L3084 673.5Z" fill="#eef51f"/>
<path d="M2360 850 L3084 1080.6 L3808 851 L3084 673.5Z M2360 850 L2312 196 L3082.5 76 L3858 196 L3808 851 M3082.5 76 L3084 673.5" fill="none" stroke="#0a0a0a" stroke-width="3.8" stroke-linejoin="round"/>
<g fill="#0a0a0a"><circle cx="2348.6" cy="694.3" r="4.6"/><circle cx="2341.3" cy="594.7" r="4.6"/><circle cx="2333.9" cy="495" r="4.6"/><circle cx="2326.6" cy="395.3" r="4.6"/><circle cx="2319.3" cy="295.7" r="4.6"/><circle cx="2312" cy="196" r="4.6"/><circle cx="2360" cy="850" r="4.6"/><circle cx="2541" cy="907.6" r="4.6"/><circle cx="2722" cy="965.3" r="4.6"/><circle cx="2903" cy="1022.9" r="4.6"/><circle cx="3084" cy="1080.6" r="4.6"/><circle cx="3084" cy="1080.6" r="4.6"/><circle cx="3265" cy="1023.2" r="4.6"/><circle cx="3446" cy="965.8" r="4.6"/><circle cx="3627" cy="908.4" r="4.6"/><circle cx="3808" cy="851" r="4.6"/></g>
<g stroke-width="1.5"><path d="M2327.5 361.2 C2579.5 298.4 2831.5 271.9 3083.5 252 L3102.3 254.9 C2850.3 275.3 2598.4 303.5 2346.4 367Z" fill="url(#b0)" stroke="url(#b0)"/><path d="M2346.4 367 C2598.4 303.5 2850.3 275.3 3102.3 254.9 L3121.1 257.8 C2869.2 278.7 2617.2 308.6 2365.3 372.7Z" fill="url(#b1)" stroke="url(#b1)"/><path d="M2365.3 372.7 C2617.2 308.6 2869.2 278.7 3121.1 257.8 L3139.9 260.7 C2888 282 2636.1 313.7 2384.2 378.4Z" fill="url(#b2)" stroke="url(#b2)"/><path d="M2384.2 378.4 C2636.1 313.7 2888 282 3139.9 260.7 L3158.8 263.6 C2906.9 285.4 2655 318.8 2403.1 384Z" fill="url(#b3)" stroke="url(#b3)"/><path d="M2403.1 384 C2655 318.8 2906.9 285.4 3158.8 263.6 L3177.6 266.6 C2925.7 288.7 2673.9 323.8 2422 389.5Z" fill="url(#b4)" stroke="url(#b4)"/><path d="M2422 389.5 C2673.9 323.8 2925.7 288.7 3177.6 266.6 L3196.4 269.5 C2944.6 292.1 2692.7 328.8 2440.9 395Z" fill="url(#b5)" stroke="url(#b5)"/><path d="M2440.9 395 C2692.7 328.8 2944.6 292.1 3196.4 269.5 L3215.2 272.4 C2963.4 295.4 2711.6 333.8 2459.8 400.5Z" fill="url(#b6)" stroke="url(#b6)"/><path d="M2459.8 400.5 C2711.6 333.8 2963.4 295.4 3215.2 272.4 L3234 275.4 C2982.2 298.7 2730.5 338.7 2478.7 405.9Z" fill="url(#b7)" stroke="url(#b7)"/><path d="M2478.7 405.9 C2730.5 338.7 2982.2 298.7 3234 275.4 L3252.8 278.4 C3001.1 302.1 2749.3 343.7 2497.6 411.3Z" fill="url(#b8)" stroke="url(#b8)"/><path d="M2497.6 411.3 C2749.3 343.7 3001.1 302.1 3252.8 278.4 L3271.6 281.3 C3019.9 305.4 2768.2 348.6 2516.5 416.7Z" fill="url(#b9)" stroke="url(#b9)"/><path d="M2516.5 416.7 C2768.2 348.6 3019.9 305.4 3271.6 281.3 L3290.4 284.3 C3038.8 308.7 2787.1 353.4 2535.4 422Z" fill="url(#b10)" stroke="url(#b10)"/><path d="M2535.4 422 C2787.1 353.4 3038.8 308.7 3290.4 284.3 L3309.2 287.3 C3057.6 311.9 2806 358.3 2554.3 427.3Z" fill="url(#b11)" stroke="url(#b11)"/><path d="M2554.3 427.3 C2806 358.3 3057.6 311.9 3309.2 287.3 L3328.1 290.3 C3076.4 315.2 2824.8 363.1 2573.2 432.5Z" fill="url(#b12)" stroke="url(#b12)"/><path d="M2573.2 432.5 C2824.8 363.1 3076.4 315.2 3328.1 290.3 L3346.9 293.2 C3095.3 318.5 2843.7 367.9 2592.1 437.7Z" fill="url(#b13)" stroke="url(#b13)"/><path d="M2592.1 437.7 C2843.7 367.9 3095.3 318.5 3346.9 293.2 L3365.7 296.2 C3114.1 321.8 2862.6 372.7 2611 442.9Z" fill="url(#b14)" stroke="url(#b14)"/><path d="M2611 442.9 C2862.6 372.7 3114.1 321.8 3365.7 296.2 L3384.5 299.2 C3133 325 2881.4 377.5 2629.9 448.1Z" fill="url(#b15)" stroke="url(#b15)"/><path d="M2629.9 448.1 C2881.4 377.5 3133 325 3384.5 299.2 L3403.3 302.2 C3151.8 328.3 2900.3 382.3 2648.8 453.2Z" fill="url(#b16)" stroke="url(#b16)"/><path d="M2648.8 453.2 C2900.3 382.3 3151.8 328.3 3403.3 302.2 L3422.1 305.2 C3170.6 331.5 2919.2 387.1 2667.7 458.3Z" fill="url(#b17)" stroke="url(#b17)"/><path d="M2667.7 458.3 C2919.2 387.1 3170.6 331.5 3422.1 305.2 L3440.9 308.3 C3189.5 334.8 2938 391.8 2686.6 463.4Z" fill="url(#b18)" stroke="url(#b18)"/><path d="M2686.6 463.4 C2938 391.8 3189.5 334.8 3440.9 308.3 L3459.8 311.3 C3208.3 338 2956.9 396.5 2705.5 468.5Z" fill="url(#b19)" stroke="url(#b19)"/><path d="M2705.5 468.5 C2956.9 396.5 3208.3 338 3459.8 311.3 L3478.6 314.3 C3227.2 341.3 2975.8 401.2 2724.4 473.5Z" fill="url(#b20)" stroke="url(#b20)"/><path d="M2724.4 473.5 C2975.8 401.2 3227.2 341.3 3478.6 314.3 L3497.4 317.3 C3246 344.5 2994.7 406 2743.3 478.6Z" fill="url(#b21)" stroke="url(#b21)"/><path d="M2743.3 478.6 C2994.7 406 3246 344.5 3497.4 317.3 L3516.2 320.3 C3264.9 347.7 3013.5 410.7 2762.2 483.6Z" fill="url(#b22)" stroke="url(#b22)"/><path d="M2762.2 483.6 C3013.5 410.7 3264.9 347.7 3516.2 320.3 L3535 323.4 C3283.7 351 3032.4 415.4 2781.1 488.6Z" fill="url(#b23)" stroke="url(#b23)"/><path d="M2781.1 488.6 C3032.4 415.4 3283.7 351 3535 323.4 L3553.8 326.4 C3302.5 354.2 3051.3 420.1 2800 493.6Z" fill="url(#b24)" stroke="url(#b24)"/><path d="M2800 493.6 C3051.3 420.1 3302.5 354.2 3553.8 326.4 L3572.6 329.4 C3321.4 357.5 3070.1 424.8 2818.9 498.7Z" fill="url(#b25)" stroke="url(#b25)"/><path d="M2818.9 498.7 C3070.1 424.8 3321.4 357.5 3572.6 329.4 L3591.4 332.5 C3340.2 360.7 3089 429.4 2837.8 503.7Z" fill="url(#b26)" stroke="url(#b26)"/><path d="M2837.8 503.7 C3089 429.4 3340.2 360.7 3591.4 332.5 L3610.2 335.5 C3359.1 363.9 3107.9 434.1 2856.7 508.6Z" fill="url(#b27)" stroke="url(#b27)"/><path d="M2856.7 508.6 C3107.9 434.1 3359.1 363.9 3610.2 335.5 L3629.1 338.5 C3377.9 367.2 3126.8 438.8 2875.6 513.6Z" fill="url(#b28)" stroke="url(#b28)"/><path d="M2875.6 513.6 C3126.8 438.8 3377.9 367.2 3629.1 338.5 L3647.9 341.6 C3396.8 370.4 3145.6 443.5 2894.5 518.6Z" fill="url(#b29)" stroke="url(#b29)"/><path d="M2894.5 518.6 C3145.6 443.5 3396.8 370.4 3647.9 341.6 L3666.7 344.6 C3415.6 373.6 3164.5 448.2 2913.4 523.7Z" fill="url(#b30)" stroke="url(#b30)"/><path d="M2913.4 523.7 C3164.5 448.2 3415.6 373.6 3666.7 344.6 L3685.5 347.7 C3434.4 376.9 3183.4 452.9 2932.3 528.7Z" fill="url(#b31)" stroke="url(#b31)"/><path d="M2932.3 528.7 C3183.4 452.9 3434.4 376.9 3685.5 347.7 L3704.3 350.7 C3453.3 380.1 3202.2 457.6 2951.2 533.7Z" fill="url(#b32)" stroke="url(#b32)"/><path d="M2951.2 533.7 C3202.2 457.6 3453.3 380.1 3704.3 350.7 L3723.1 353.8 C3472.1 383.4 3221.1 462.3 2970.1 538.7Z" fill="url(#b33)" stroke="url(#b33)"/><path d="M2970.1 538.7 C3221.1 462.3 3472.1 383.4 3723.1 353.8 L3741.9 356.8 C3491 386.6 3240 467 2989 543.7Z" fill="url(#b34)" stroke="url(#b34)"/><path d="M2989 543.7 C3240 467 3491 386.6 3741.9 356.8 L3760.8 359.8 C3509.8 389.9 3258.9 471.8 3007.9 548.8Z" fill="url(#b35)" stroke="url(#b35)"/><path d="M3007.9 548.8 C3258.9 471.8 3509.8 389.9 3760.8 359.8 L3779.6 362.9 C3528.6 393.1 3277.7 476.5 3026.8 553.9Z" fill="url(#b36)" stroke="url(#b36)"/><path d="M3026.8 553.9 C3277.7 476.5 3528.6 393.1 3779.6 362.9 L3798.4 365.9 C3547.5 396.4 3296.6 481.3 3045.7 559Z" fill="url(#b37)" stroke="url(#b37)"/><path d="M3045.7 559 C3296.6 481.3 3547.5 396.4 3798.4 365.9 L3817.2 369 C3566.3 399.7 3315.5 486 3064.6 564.1Z" fill="url(#b38)" stroke="url(#b38)"/><path d="M3064.6 564.1 C3315.5 486 3566.3 399.7 3817.2 369 L3836 372 C3585.2 403 3334.3 490.8 3083.5 569.2Z" fill="url(#b39)" stroke="url(#b39)"/></g>
<g clip-path="url(#csb)"><path d="M2600 246 L2631 241 L2662 237 L2693 232 L2724 228 L2754 224 L2785 220 L2816 217 L2847 213 L2878 210 L2909 207 L2940 204 L2971 201 L3002 199 L3033 196 L3064 194 L3094 194 L3125 198 L3156 203 L3187 208 L3218 213 L3249 218 L3280 223 L3311 227 L3342 232 L3372 237 L3403 242 L3434 247 L3465 252 L3496 257 L3527 262 L3558 267 L3589 272 L3620 277 L3651 282 L3682 287 L3712 292 L3743 297 L3774 302 L3805 307 L3836 312 L3836 378 L3805 377 L3774 375 L3743 374 L3712 372 L3682 371 L3651 370 L3620 368 L3589 366 L3558 364 L3527 362 L3496 361 L3465 359 L3434 358 L3403 358 L3372 358 L3342 358 L3311 358 L3280 357 L3249 356 L3218 355 L3187 355 L3156 354 L3125 353 L3094 352 L3064 347 L3033 340 L3002 333 L2971 326 L2940 319 L2909 312 L2878 309 L2847 307 L2816 305 L2785 303 L2754 301 L2724 300 L2693 296 L2662 282 L2631 269 L2600 256Z" fill="#000" fill-opacity="1" filter="url(#blb0)"/></g>
<path d="M2327.5 361.2 C2579.5 298.4 2831.5 271.9 3083.5 252 M2339.3 364.8 C2591.3 301.6 2843.3 274 3095.3 253.8 M2351.1 368.4 C2603.1 304.8 2855.1 276.1 3107 255.6 M2362.9 372 C2614.9 308 2866.8 278.2 3118.8 257.4 M2374.8 375.5 C2626.7 311.2 2878.6 280.3 3130.5 259.3 M2386.6 379.1 C2638.5 314.4 2890.4 282.5 3142.3 261.1 M2398.4 382.6 C2650.3 317.5 2902.2 284.6 3154 262.9 M2410.2 386.1 C2662.1 320.7 2913.9 286.7 3165.8 264.7 M2422 389.5 C2673.9 323.8 2925.7 288.7 3177.6 266.6 M2433.8 393 C2685.6 326.9 2937.5 290.8 3189.3 268.4 M2445.6 396.4 C2697.4 330.1 2949.3 292.9 3201.1 270.2 M2457.4 399.8 C2709.2 333.2 2961 295 3212.8 272.1 M2469.2 403.2 C2721 336.3 2972.8 297.1 3224.6 273.9 M2481.1 406.6 C2732.8 339.4 2984.6 299.2 3236.4 275.8 M2492.9 410 C2744.6 342.4 2996.4 301.2 3248.1 277.6 M2504.7 413.3 C2756.4 345.5 3008.1 303.3 3259.9 279.5 M2516.5 416.7 C2768.2 348.6 3019.9 305.4 3271.6 281.3 M2528.3 420 C2780 351.6 3031.7 307.4 3283.4 283.2 M2540.1 423.3 C2791.8 354.7 3043.5 309.5 3295.1 285 M2551.9 426.6 C2803.6 357.7 3055.2 311.5 3306.9 286.9 M2563.8 429.9 C2815.4 360.7 3067 313.6 3318.7 288.8 M2575.6 433.2 C2827.2 363.7 3078.8 315.6 3330.4 290.6 M2587.4 436.4 C2839 366.7 3090.6 317.7 3342.2 292.5 M2599.2 439.7 C2850.8 369.7 3102.3 319.7 3353.9 294.4 M2611 442.9 C2862.6 372.7 3114.1 321.8 3365.7 296.2 M2622.8 446.1 C2874.4 375.7 3125.9 323.8 3377.4 298.1 M2634.6 449.4 C2886.2 378.7 3137.7 325.8 3389.2 300 M2646.4 452.6 C2897.9 381.7 3149.5 327.9 3401 301.9 M2658.2 455.8 C2909.7 384.7 3161.2 329.9 3412.7 303.7 M2670.1 459 C2921.5 387.6 3173 331.9 3424.5 305.6 M2681.9 462.1 C2933.3 390.6 3184.8 334 3436.2 307.5 M2693.7 465.3 C2945.1 393.6 3196.6 336 3448 309.4 M2705.5 468.5 C2956.9 396.5 3208.3 338 3459.8 311.3 M2717.3 471.7 C2968.7 399.5 3220.1 340.1 3471.5 313.2 M2729.1 474.8 C2980.5 402.4 3231.9 342.1 3483.3 315 M2740.9 478 C2992.3 405.4 3243.7 344.1 3495 316.9 M2752.8 481.1 C3004.1 408.3 3255.4 346.1 3506.8 318.8 M2764.6 484.2 C3015.9 411.3 3267.2 348.2 3518.5 320.7 M2776.4 487.4 C3027.7 414.2 3279 350.2 3530.3 322.6 M2788.2 490.5 C3039.5 417.1 3290.8 352.2 3542.1 324.5 M2800 493.6 C3051.3 420.1 3302.5 354.2 3553.8 326.4 M2811.8 496.8 C3063.1 423 3314.3 356.2 3565.6 328.3 M2823.6 499.9 C3074.9 425.9 3326.1 358.3 3577.3 330.2 M2835.4 503 C3086.7 428.9 3337.9 360.3 3589.1 332.1 M2847.2 506.2 C3098.4 431.8 3349.6 362.3 3600.8 334 M2859.1 509.3 C3110.2 434.7 3361.4 364.3 3612.6 335.9 M2870.9 512.4 C3122 437.6 3373.2 366.3 3624.4 337.8 M2882.7 515.5 C3133.8 440.6 3385 368.4 3636.1 339.7 M2894.5 518.6 C3145.6 443.5 3396.8 370.4 3647.9 341.6 M2906.3 521.8 C3157.4 446.4 3408.5 372.4 3659.6 343.5 M2918.1 524.9 C3169.2 449.4 3420.3 374.4 3671.4 345.4 M2929.9 528 C3181 452.3 3432.1 376.5 3683.1 347.3 M2941.8 531.2 C3192.8 455.3 3443.9 378.5 3694.9 349.2 M2953.6 534.3 C3204.6 458.2 3455.6 380.5 3706.7 351.1 M2965.4 537.4 C3216.4 461.1 3467.4 382.6 3718.4 353 M2977.2 540.6 C3228.2 464.1 3479.2 384.6 3730.2 354.9 M2989 543.7 C3240 467 3491 386.6 3741.9 356.8 M3000.8 546.9 C3251.8 470 3502.7 388.7 3753.7 358.7 M3012.6 550.1 C3263.6 472.9 3514.5 390.7 3765.5 360.6 M3024.4 553.2 C3275.4 475.9 3526.3 392.7 3777.2 362.5 M3036.2 556.4 C3287.2 478.9 3538.1 394.8 3789 364.4 M3048.1 559.6 C3299 481.8 3549.8 396.8 3800.7 366.3 M3059.9 562.8 C3310.7 484.8 3561.6 398.9 3812.5 368.2 M3071.7 566 C3322.5 487.8 3573.4 400.9 3824.2 370.1 M3083.5 569.2 C3334.3 490.8 3585.2 403 3836 372" fill="none" stroke="#000" stroke-opacity="0.5" stroke-width="3.0"/>
<path d="M2327.5 361.2 C2579.5 438.5 2831.5 500.6 3083.5 569.2 M2339.3 358.3 C2591.3 435.2 2843.3 497.2 3095.3 565.5 M2351.1 355.4 C2603.1 431.9 2855.1 493.7 3107 561.8 M2362.9 352.6 C2614.9 428.7 2866.8 490.3 3118.8 558.1 M2374.8 349.8 C2626.7 425.4 2878.6 486.9 3130.5 554.4 M2386.6 347.1 C2638.5 422.2 2890.4 483.5 3142.3 550.7 M2398.4 344.5 C2650.3 419.1 2902.2 480.1 3154 547 M2410.2 341.8 C2662.1 415.9 2913.9 476.7 3165.8 543.2 M2422 339.3 C2673.9 412.8 2925.7 473.4 3177.6 539.5 M2433.8 336.8 C2685.6 409.8 2937.5 470 3189.3 535.7 M2445.6 334.3 C2697.4 406.7 2949.3 466.7 3201.1 532 M2457.4 331.9 C2709.2 403.7 2961 463.3 3212.8 528.3 M2469.2 329.5 C2721 400.7 2972.8 460 3224.6 524.5 M2481.1 327.2 C2732.8 397.8 2984.6 456.8 3236.4 520.8 M2492.9 324.9 C2744.6 394.9 2996.4 453.5 3248.1 517.1 M2504.7 322.6 C2756.4 392 3008.1 450.3 3259.9 513.4 M2516.5 320.4 C2768.2 389.1 3019.9 447 3271.6 509.7 M2528.3 318.3 C2780 386.3 3031.7 443.8 3283.4 506 M2540.1 316.1 C2791.8 383.5 3043.5 440.6 3295.1 502.3 M2551.9 314.1 C2803.6 380.8 3055.2 437.5 3306.9 498.6 M2563.8 312 C2815.4 378.1 3067 434.3 3318.7 495 M2575.6 310 C2827.2 375.4 3078.8 431.2 3330.4 491.3 M2587.4 308.1 C2839 372.7 3090.6 428.1 3342.2 487.7 M2599.2 306.2 C2850.8 370.1 3102.3 425.1 3353.9 484.1 M2611 304.3 C2862.6 367.5 3114.1 422.1 3365.7 480.5 M2622.8 302.4 C2874.4 364.9 3125.9 419 3377.4 477 M2634.6 300.6 C2886.2 362.4 3137.7 416.1 3389.2 473.4 M2646.4 298.8 C2897.9 359.9 3149.5 413.1 3401 469.9 M2658.2 297.1 C2909.7 357.4 3161.2 410.2 3412.7 466.4 M2670.1 295.4 C2921.5 355 3173 407.3 3424.5 463 M2681.9 293.7 C2933.3 352.6 3184.8 404.4 3436.2 459.6 M2693.7 292.1 C2945.1 350.2 3196.6 401.6 3448 456.2 M2705.5 290.5 C2956.9 347.9 3208.3 398.8 3459.8 452.8 M2717.3 288.9 C2968.7 345.6 3220.1 396.1 3471.5 449.5 M2729.1 287.4 C2980.5 343.3 3231.9 393.3 3483.3 446.2 M2740.9 285.9 C2992.3 341.1 3243.7 390.7 3495 443 M2752.8 284.4 C3004.1 338.9 3255.4 388 3506.8 439.7 M2764.6 282.9 C3015.9 336.7 3267.2 385.4 3518.5 436.6 M2776.4 281.5 C3027.7 334.5 3279 382.8 3530.3 433.4 M2788.2 280.1 C3039.5 332.4 3290.8 380.3 3542.1 430.4 M2800 278.7 C3051.3 330.4 3302.5 377.8 3553.8 427.3 M2811.8 277.4 C3063.1 328.3 3314.3 375.3 3565.6 424.3 M2823.6 276 C3074.9 326.3 3326.1 372.9 3577.3 421.4 M2835.4 274.7 C3086.7 324.3 3337.9 370.5 3589.1 418.5 M2847.2 273.5 C3098.4 322.4 3349.6 368.2 3600.8 415.7 M2859.1 272.2 C3110.2 320.5 3361.4 365.9 3612.6 412.9 M2870.9 271 C3122 318.6 3373.2 363.6 3624.4 410.1 M2882.7 269.8 C3133.8 316.8 3385 361.4 3636.1 407.5 M2894.5 268.6 C3145.6 314.9 3396.8 359.2 3647.9 404.8 M2906.3 267.4 C3157.4 313.2 3408.5 357.1 3659.6 402.3 M2918.1 266.3 C3169.2 311.4 3420.3 355.1 3671.4 399.8 M2929.9 265.2 C3181 309.7 3432.1 353 3683.1 397.4 M2941.8 264.1 C3192.8 308 3443.9 351.1 3694.9 395 M2953.6 263 C3204.6 306.4 3455.6 349.2 3706.7 392.7 M2965.4 261.9 C3216.4 304.8 3467.4 347.3 3718.4 390.4 M2977.2 260.9 C3228.2 303.2 3479.2 345.5 3730.2 388.3 M2989 259.8 C3240 301.7 3491 343.7 3741.9 386.1 M3000.8 258.8 C3251.8 300.2 3502.7 342 3753.7 384.1 M3012.6 257.8 C3263.6 298.7 3514.5 340.3 3765.5 382.2 M3024.4 256.8 C3275.4 297.2 3526.3 338.7 3777.2 380.3 M3036.2 255.8 C3287.2 295.8 3538.1 337.1 3789 378.5 M3048.1 254.8 C3299 294.5 3549.8 335.6 3800.7 376.7 M3059.9 253.9 C3310.7 293.1 3561.6 334.2 3812.5 375.1 M3071.7 252.9 C3322.5 291.8 3573.4 332.8 3824.2 373.5 M3083.5 252 C3334.3 290.6 3585.2 331.5 3836 372" fill="none" stroke="#000" stroke-opacity="0.5" stroke-width="3.0"/>
<ellipse cx="2324.3" cy="382.5" rx="15" ry="10" fill="#f5a6cf" stroke="#6a4a5c" stroke-width="2.5"/>
<ellipse cx="3084" cy="349.7" rx="15" ry="10" fill="#f20d0d" stroke="#5a0505" stroke-width="2.5"/>
<ellipse cx="3843.2" cy="377.6" rx="15" ry="10" fill="#f5a6cf" stroke="#6a4a5c" stroke-width="2.5"/>
<ellipse cx="3084" cy="587.5" rx="15" ry="10" fill="#f5a6cf" stroke="#6a4a5c" stroke-width="2.5"/>
<g transform="translate(2334 109)"><text font-size="62" text-anchor="middle" transform="scale(0.91 1)" y="13">b</text></g>
<g transform="translate(2226 201)"><text font-size="62" text-anchor="middle" transform="scale(0.91 1)" y="18">100%</text></g>
<g transform="translate(2247 299)"><text font-size="62" text-anchor="middle" transform="scale(0.91 1)" y="18">90%</text></g>
<g transform="translate(2255.7 400)"><text font-size="62" text-anchor="middle" transform="scale(0.91 1)" y="18">80%</text></g>
<g transform="translate(2264.5 498)"><text font-size="62" text-anchor="middle" transform="scale(0.91 1)" y="18">70%</text></g>
<g transform="translate(2273 597)"><text font-size="62" text-anchor="middle" transform="scale(0.91 1)" y="18">60%</text></g>
<g transform="translate(2282.6 698)"><text font-size="62" text-anchor="middle" transform="scale(0.91 1)" y="18">50%</text></g>
<g transform="translate(2334 894) rotate(17.5)"><text font-size="62" text-anchor="middle" transform="scale(0.91 1)" y="18">25.00</text></g>
<g transform="translate(2515.6 950.7) rotate(17.5)"><text font-size="62" text-anchor="middle" transform="scale(0.91 1)" y="18">20.00</text></g>
<g transform="translate(2697 1012) rotate(17.5)"><text font-size="62" text-anchor="middle" transform="scale(0.91 1)" y="18">15.00</text></g>
<g transform="translate(2890.8 1070.8) rotate(17.5)"><text font-size="62" text-anchor="middle" transform="scale(0.91 1)" y="18">10.00</text></g>
<g transform="translate(3047 1120) rotate(17.5)"><text font-size="62" text-anchor="middle" transform="scale(0.91 1)" y="18">5.00</text></g>
<g transform="translate(3152.7 1112.5) rotate(-17.5)"><text font-size="62" text-anchor="middle" transform="scale(0.91 1)" y="18">8.00</text></g>
<g transform="translate(3295 1068) rotate(-17.5)"><text font-size="62" text-anchor="middle" transform="scale(0.91 1)" y="18">8.50</text></g>
<g transform="translate(3474 1014.4) rotate(-17.5)"><text font-size="62" text-anchor="middle" transform="scale(0.91 1)" y="18">9.00</text></g>
<g transform="translate(3667.6 953) rotate(-17.5)"><text font-size="62" text-anchor="middle" transform="scale(0.91 1)" y="18">9.50</text></g>
<g transform="translate(3854 889) rotate(-17.5)"><text font-size="62" text-anchor="middle" transform="scale(0.91 1)" y="18">10.00</text></g>
<g transform="translate(3518 1122) rotate(-17.5)"><text font-size="62" text-anchor="middle" transform="scale(0.91 1)" y="12.4">pH</text></g>
<g transform="translate(2596.5 1115) rotate(20)"><text class="cj" font-size="62" transform="translate(-189.7 0) scale(1 1.0)" y="22.3">反应时间</text><text font-size="62" transform="translate(66.3 0) scale(0.91 1)" y="22.3">/<tspan dx="12">min</tspan></text></g>
<g transform="translate(2080 514) rotate(-95)"><text class="cj" font-size="62" text-anchor="middle" transform="scale(1 1.0)" y="22.3">磷回收率</text></g>
</g>
<g id="panel-c">
<path d="M418 2012 L1155.5 2245 L1890 2012 L1155.5 1832Z" fill="#eef51f"/>
<g fill="none" clip-path="url(#flc)"><path d="M418 2010 Q906 1889 1370 1880" stroke="#a4f03e" stroke-width="5.5" stroke-opacity="0.85"/></g>
<path d="M418 2012 L1155.5 2245 L1890 2012 L1155.5 1832Z M418 2012 L369 1348 L1155.5 1230.4 L1939 1347 L1890 2012 M1155.5 1230.4 L1155.5 1832" fill="none" stroke="#0a0a0a" stroke-width="3.8" stroke-linejoin="round"/>
<g fill="#0a0a0a"><circle cx="406.3" cy="1854" r="4.6"/><circle cx="398.9" cy="1752.8" r="4.6"/><circle cx="391.4" cy="1651.6" r="4.6"/><circle cx="383.9" cy="1550.4" r="4.6"/><circle cx="376.5" cy="1449.2" r="4.6"/><circle cx="369" cy="1348" r="4.6"/><circle cx="418" cy="2012" r="4.6"/><circle cx="602.4" cy="2070.2" r="4.6"/><circle cx="786.8" cy="2128.5" r="4.6"/><circle cx="971.1" cy="2186.8" r="4.6"/><circle cx="1155.5" cy="2245" r="4.6"/><circle cx="1155.5" cy="2245" r="4.6"/><circle cx="1339.1" cy="2186.8" r="4.6"/><circle cx="1522.8" cy="2128.5" r="4.6"/><circle cx="1706.4" cy="2070.2" r="4.6"/><circle cx="1890" cy="2012" r="4.6"/></g>
<g stroke-width="1.5"><path d="M393.5 1561 C647.5 1482.5 901.5 1474.5 1155.5 1458.5 L1174.7 1457.9 C920.6 1475 666.6 1485.4 412.6 1564.3Z" fill="url(#c0)" stroke="url(#c0)"/><path d="M412.6 1564.3 C666.6 1485.4 920.6 1475 1174.7 1457.9 L1193.8 1457.5 C939.7 1475.5 685.7 1488.3 431.6 1567.6Z" fill="url(#c1)" stroke="url(#c1)"/><path d="M431.6 1567.6 C685.7 1488.3 939.7 1475.5 1193.8 1457.5 L1213 1457.1 C958.9 1476.1 704.8 1491.3 450.7 1570.9Z" fill="url(#c2)" stroke="url(#c2)"/><path d="M450.7 1570.9 C704.8 1491.3 958.9 1476.1 1213 1457.1 L1232.2 1456.8 C978 1476.7 723.8 1494.3 469.7 1574.1Z" fill="url(#c3)" stroke="url(#c3)"/><path d="M469.7 1574.1 C723.8 1494.3 978 1476.7 1232.2 1456.8 L1251.3 1456.6 C997.1 1477.4 742.9 1497.2 488.8 1577.3Z" fill="url(#c4)" stroke="url(#c4)"/><path d="M488.8 1577.3 C742.9 1497.2 997.1 1477.4 1251.3 1456.6 L1270.5 1456.4 C1016.2 1478.1 762 1500.2 507.8 1580.5Z" fill="url(#c5)" stroke="url(#c5)"/><path d="M507.8 1580.5 C762 1500.2 1016.2 1478.1 1270.5 1456.4 L1289.6 1456.4 C1035.4 1478.9 781.1 1503.2 526.8 1583.7Z" fill="url(#c6)" stroke="url(#c6)"/><path d="M526.8 1583.7 C781.1 1503.2 1035.4 1478.9 1289.6 1456.4 L1308.8 1456.4 C1054.5 1479.7 800.2 1506.3 545.9 1586.8Z" fill="url(#c7)" stroke="url(#c7)"/><path d="M545.9 1586.8 C800.2 1506.3 1054.5 1479.7 1308.8 1456.4 L1328 1456.5 C1073.6 1480.6 819.3 1509.3 565 1590Z" fill="url(#c8)" stroke="url(#c8)"/><path d="M565 1590 C819.3 1509.3 1073.6 1480.6 1328 1456.5 L1347.1 1456.7 C1092.8 1481.5 838.4 1512.4 584 1593.2Z" fill="url(#c9)" stroke="url(#c9)"/><path d="M584 1593.2 C838.4 1512.4 1092.8 1481.5 1347.1 1456.7 L1366.3 1456.9 C1111.9 1482.5 857.5 1515.5 603 1596.4Z" fill="url(#c10)" stroke="url(#c10)"/><path d="M603 1596.4 C857.5 1515.5 1111.9 1482.5 1366.3 1456.9 L1385.5 1457.3 C1131 1483.5 876.6 1518.7 622.1 1599.6Z" fill="url(#c11)" stroke="url(#c11)"/><path d="M622.1 1599.6 C876.6 1518.7 1131 1483.5 1385.5 1457.3 L1404.6 1457.7 C1150.1 1484.6 895.6 1521.9 641.2 1602.8Z" fill="url(#c12)" stroke="url(#c12)"/><path d="M641.2 1602.8 C895.6 1521.9 1150.1 1484.6 1404.6 1457.7 L1423.8 1458.2 C1169.2 1485.8 914.7 1525.1 660.2 1606Z" fill="url(#c13)" stroke="url(#c13)"/><path d="M660.2 1606 C914.7 1525.1 1169.2 1485.8 1423.8 1458.2 L1442.9 1458.8 C1188.4 1487 933.8 1528.4 679.2 1609.3Z" fill="url(#c14)" stroke="url(#c14)"/><path d="M679.2 1609.3 C933.8 1528.4 1188.4 1487 1442.9 1458.8 L1462.1 1459.4 C1207.5 1488.3 952.9 1531.7 698.3 1612.6Z" fill="url(#c15)" stroke="url(#c15)"/><path d="M698.3 1612.6 C952.9 1531.7 1207.5 1488.3 1462.1 1459.4 L1481.3 1460.2 C1226.6 1489.7 972 1535.1 717.3 1615.9Z" fill="url(#c16)" stroke="url(#c16)"/><path d="M717.3 1615.9 C972 1535.1 1226.6 1489.7 1481.3 1460.2 L1500.4 1461 C1245.8 1491.1 991.1 1538.5 736.4 1619.3Z" fill="url(#c17)" stroke="url(#c17)"/><path d="M736.4 1619.3 C991.1 1538.5 1245.8 1491.1 1500.4 1461 L1519.6 1461.8 C1264.9 1492.5 1010.2 1542 755.5 1622.7Z" fill="url(#c18)" stroke="url(#c18)"/><path d="M755.5 1622.7 C1010.2 1542 1264.9 1492.5 1519.6 1461.8 L1538.8 1462.8 C1284 1494.1 1029.2 1545.5 774.5 1626.2Z" fill="url(#c19)" stroke="url(#c19)"/><path d="M774.5 1626.2 C1029.2 1545.5 1284 1494.1 1538.8 1462.8 L1557.9 1463.8 C1303.1 1495.7 1048.3 1549.1 793.5 1629.7Z" fill="url(#c20)" stroke="url(#c20)"/><path d="M793.5 1629.7 C1048.3 1549.1 1303.1 1495.7 1557.9 1463.8 L1577.1 1464.9 C1322.2 1497.4 1067.4 1552.8 812.6 1633.3Z" fill="url(#c21)" stroke="url(#c21)"/><path d="M812.6 1633.3 C1067.4 1552.8 1322.2 1497.4 1577.1 1464.9 L1596.2 1466.1 C1341.4 1499.1 1086.5 1556.5 831.7 1636.9Z" fill="url(#c22)" stroke="url(#c22)"/><path d="M831.7 1636.9 C1086.5 1556.5 1341.4 1499.1 1596.2 1466.1 L1615.4 1467.4 C1360.5 1500.9 1105.6 1560.3 850.7 1640.6Z" fill="url(#c23)" stroke="url(#c23)"/><path d="M850.7 1640.6 C1105.6 1560.3 1360.5 1500.9 1615.4 1467.4 L1634.6 1468.7 C1379.6 1502.8 1124.7 1564.2 869.8 1644.4Z" fill="url(#c24)" stroke="url(#c24)"/><path d="M869.8 1644.4 C1124.7 1564.2 1379.6 1502.8 1634.6 1468.7 L1653.7 1470.1 C1398.8 1504.8 1143.8 1568.2 888.8 1648.3Z" fill="url(#c25)" stroke="url(#c25)"/><path d="M888.8 1648.3 C1143.8 1568.2 1398.8 1504.8 1653.7 1470.1 L1672.9 1471.6 C1417.9 1506.9 1162.9 1572.2 907.8 1652.2Z" fill="url(#c26)" stroke="url(#c26)"/><path d="M907.8 1652.2 C1162.9 1572.2 1417.9 1506.9 1672.9 1471.6 L1692 1473.1 C1437 1509 1182 1576.3 926.9 1656.2Z" fill="url(#c27)" stroke="url(#c27)"/><path d="M926.9 1656.2 C1182 1576.3 1437 1509 1692 1473.1 L1711.2 1474.7 C1456.1 1511.2 1201 1580.5 945.9 1660.3Z" fill="url(#c28)" stroke="url(#c28)"/><path d="M945.9 1660.3 C1201 1580.5 1456.1 1511.2 1711.2 1474.7 L1730.4 1476.4 C1475.2 1513.5 1220.1 1584.8 965 1664.6Z" fill="url(#c29)" stroke="url(#c29)"/><path d="M965 1664.6 C1220.1 1584.8 1475.2 1513.5 1730.4 1476.4 L1749.5 1478.2 C1494.4 1515.8 1239.2 1589.1 984.1 1668.9Z" fill="url(#c30)" stroke="url(#c30)"/><path d="M984.1 1668.9 C1239.2 1589.1 1494.4 1515.8 1749.5 1478.2 L1768.7 1480 C1513.5 1518.3 1258.3 1593.6 1003.1 1673.3Z" fill="url(#c31)" stroke="url(#c31)"/><path d="M1003.1 1673.3 C1258.3 1593.6 1513.5 1518.3 1768.7 1480 L1787.9 1481.9 C1532.6 1520.8 1277.4 1598.2 1022.2 1677.8Z" fill="url(#c32)" stroke="url(#c32)"/><path d="M1022.2 1677.8 C1277.4 1598.2 1532.6 1520.8 1787.9 1481.9 L1807 1483.8 C1551.8 1523.4 1296.5 1602.8 1041.2 1682.5Z" fill="url(#c33)" stroke="url(#c33)"/><path d="M1041.2 1682.5 C1296.5 1602.8 1551.8 1523.4 1807 1483.8 L1826.2 1485.9 C1570.9 1526.1 1315.6 1607.6 1060.2 1687.2Z" fill="url(#c34)" stroke="url(#c34)"/><path d="M1060.2 1687.2 C1315.6 1607.6 1570.9 1526.1 1826.2 1485.9 L1845.3 1488 C1590 1528.9 1334.7 1612.5 1079.3 1692.1Z" fill="url(#c35)" stroke="url(#c35)"/><path d="M1079.3 1692.1 C1334.7 1612.5 1590 1528.9 1845.3 1488 L1864.5 1490.1 C1609.1 1531.7 1353.7 1617.4 1098.3 1697.1Z" fill="url(#c36)" stroke="url(#c36)"/><path d="M1098.3 1697.1 C1353.7 1617.4 1609.1 1531.7 1864.5 1490.1 L1883.7 1492.3 C1628.2 1534.7 1372.8 1622.5 1117.4 1702.3Z" fill="url(#c37)" stroke="url(#c37)"/><path d="M1117.4 1702.3 C1372.8 1622.5 1628.2 1534.7 1883.7 1492.3 L1902.8 1494.6 C1647.4 1537.7 1391.9 1627.7 1136.4 1707.6Z" fill="url(#c38)" stroke="url(#c38)"/><path d="M1136.4 1707.6 C1391.9 1627.7 1647.4 1537.7 1902.8 1494.6 L1922 1497 C1666.5 1540.8 1411 1633 1155.5 1713Z" fill="url(#c39)" stroke="url(#c39)"/></g>
<g clip-path="url(#csc)"><path d="M480 1489 L516 1480 L552 1472 L588 1465 L624 1459 L660 1453 L696 1448 L732 1443 L768 1439 L804 1435 L840 1432 L877 1429 L913 1426 L949 1423 L985 1421 L1021 1419 L1057 1416 L1093 1414 L1129 1412 L1165 1410 L1201 1409 L1237 1409 L1273 1408 L1309 1408 L1345 1409 L1381 1409 L1417 1410 L1453 1411 L1489 1412 L1525 1414 L1562 1416 L1598 1418 L1634 1421 L1670 1423 L1706 1426 L1742 1429 L1778 1433 L1814 1437 L1850 1440 L1886 1445 L1922 1449 L1922 1499 L1886 1499 L1850 1500 L1814 1500 L1778 1501 L1742 1502 L1706 1502 L1670 1502 L1634 1503 L1598 1503 L1562 1504 L1525 1506 L1489 1507 L1453 1509 L1417 1510 L1381 1511 L1345 1512 L1309 1514 L1273 1516 L1237 1518 L1201 1521 L1165 1524 L1129 1524 L1093 1523 L1057 1523 L1021 1522 L985 1521 L949 1520 L913 1519 L877 1518 L840 1517 L804 1516 L768 1516 L732 1516 L696 1516 L660 1518 L624 1519 L588 1522 L552 1519 L516 1508 L480 1497Z" fill="#000" fill-opacity="1" filter="url(#blc0)"/></g>
<path d="M393.5 1561 C647.5 1482.5 901.5 1474.5 1155.5 1458.5 M405.4 1563.1 C659.4 1484.3 913.5 1474.8 1167.5 1458.1 M417.3 1565.1 C671.4 1486.1 925.4 1475.1 1179.5 1457.8 M429.2 1567.2 C683.3 1488 937.4 1475.4 1191.4 1457.5 M441.1 1569.2 C695.2 1489.8 949.3 1475.8 1203.4 1457.3 M453 1571.3 C707.1 1491.7 961.3 1476.1 1215.4 1457 M464.9 1573.3 C719.1 1493.5 973.2 1476.5 1227.4 1456.9 M476.8 1575.3 C731 1495.4 985.2 1476.9 1239.3 1456.7 M488.8 1577.3 C742.9 1497.2 997.1 1477.4 1251.3 1456.6 M500.7 1579.3 C754.9 1499.1 1009.1 1477.8 1263.3 1456.5 M512.6 1581.3 C766.8 1501 1021 1478.3 1275.3 1456.4 M524.5 1583.3 C778.7 1502.9 1033 1478.8 1287.2 1456.4 M536.4 1585.3 C790.7 1504.8 1044.9 1479.3 1299.2 1456.4 M548.3 1587.2 C802.6 1506.7 1056.9 1479.8 1311.2 1456.4 M560.2 1589.2 C814.5 1508.6 1068.8 1480.3 1323.2 1456.5 M572.1 1591.2 C826.4 1510.5 1080.8 1480.9 1335.1 1456.5 M584 1593.2 C838.4 1512.4 1092.8 1481.5 1347.1 1456.7 M595.9 1595.2 C850.3 1514.4 1104.7 1482.1 1359.1 1456.8 M607.8 1597.2 C862.2 1516.3 1116.7 1482.7 1371.1 1457 M619.7 1599.2 C874.2 1518.3 1128.6 1483.4 1383.1 1457.2 M631.6 1601.2 C886.1 1520.3 1140.6 1484.1 1395 1457.5 M643.5 1603.2 C898 1522.3 1152.5 1484.8 1407 1457.8 M655.4 1605.2 C910 1524.3 1164.5 1485.5 1419 1458.1 M667.3 1607.3 C921.9 1526.4 1176.4 1486.2 1431 1458.4 M679.2 1609.3 C933.8 1528.4 1188.4 1487 1442.9 1458.8 M691.2 1611.4 C945.7 1530.5 1200.3 1487.8 1454.9 1459.2 M703.1 1613.4 C957.7 1532.6 1212.3 1488.6 1466.9 1459.6 M715 1615.5 C969.6 1534.7 1224.2 1489.5 1478.9 1460.1 M726.9 1617.6 C981.5 1536.8 1236.2 1490.3 1490.8 1460.5 M738.8 1619.7 C993.5 1539 1248.1 1491.2 1502.8 1461.1 M750.7 1621.9 C1005.4 1541.1 1260.1 1492.2 1514.8 1461.6 M762.6 1624 C1017.3 1543.3 1272 1493.1 1526.8 1462.2 M774.5 1626.2 C1029.2 1545.5 1284 1494.1 1538.8 1462.8 M786.4 1628.4 C1041.2 1547.8 1296 1495.1 1550.7 1463.4 M798.3 1630.6 C1053.1 1550.1 1307.9 1496.1 1562.7 1464.1 M810.2 1632.8 C1065 1552.3 1319.9 1497.2 1574.7 1464.8 M822.1 1635.1 C1077 1554.7 1331.8 1498.2 1586.7 1465.5 M834 1637.4 C1088.9 1557 1343.8 1499.4 1598.6 1466.3 M845.9 1639.7 C1100.8 1559.4 1355.7 1500.5 1610.6 1467 M857.8 1642 C1112.8 1561.8 1367.7 1501.7 1622.6 1467.9 M869.8 1644.4 C1124.7 1564.2 1379.6 1502.8 1634.6 1468.7 M881.7 1646.8 C1136.6 1566.7 1391.6 1504.1 1646.5 1469.6 M893.6 1649.2 C1148.5 1569.2 1403.5 1505.3 1658.5 1470.5 M905.5 1651.7 C1160.5 1571.7 1415.5 1506.6 1670.5 1471.4 M917.4 1654.2 C1172.4 1574.2 1427.4 1507.9 1682.5 1472.3 M929.3 1656.7 C1184.3 1576.8 1439.4 1509.3 1694.4 1473.3 M941.2 1659.3 C1196.3 1579.4 1451.3 1510.6 1706.4 1474.3 M953.1 1661.9 C1208.2 1582.1 1463.3 1512 1718.4 1475.3 M965 1664.6 C1220.1 1584.8 1475.2 1513.5 1730.4 1476.4 M976.9 1667.2 C1232.1 1587.5 1487.2 1514.9 1742.4 1477.5 M988.8 1670 C1244 1590.2 1499.2 1516.4 1754.3 1478.6 M1000.7 1672.7 C1255.9 1593 1511.1 1517.9 1766.3 1479.7 M1012.6 1675.5 C1267.8 1595.9 1523.1 1519.5 1778.3 1480.9 M1024.5 1678.4 C1279.8 1598.7 1535 1521.1 1790.3 1482.1 M1036.4 1681.3 C1291.7 1601.7 1547 1522.7 1802.2 1483.3 M1048.3 1684.2 C1303.6 1604.6 1558.9 1524.4 1814.2 1484.6 M1060.2 1687.2 C1315.6 1607.6 1570.9 1526.1 1826.2 1485.9 M1072.2 1690.3 C1327.5 1610.6 1582.8 1527.8 1838.2 1487.2 M1084.1 1693.4 C1339.4 1613.7 1594.8 1529.6 1850.1 1488.5 M1096 1696.5 C1351.4 1616.8 1606.7 1531.4 1862.1 1489.8 M1107.9 1699.7 C1363.3 1620 1618.7 1533.2 1874.1 1491.2 M1119.8 1702.9 C1375.2 1623.2 1630.6 1535 1886.1 1492.6 M1131.7 1706.2 C1387.1 1626.4 1642.6 1536.9 1898 1494.1 M1143.6 1709.6 C1399.1 1629.7 1654.5 1538.9 1910 1495.5 M1155.5 1713 C1411 1633 1666.5 1540.8 1922 1497" fill="none" stroke="#000" stroke-opacity="0.5" stroke-width="2.8"/>
<path d="M393.5 1561 C647.5 1605.5 901.5 1639.6 1155.5 1713 M405.4 1557.4 C659.4 1601.6 913.5 1636 1167.5 1709.2 M417.3 1553.8 C671.4 1597.8 925.4 1632.3 1179.5 1705.5 M429.2 1550.4 C683.3 1594 937.4 1628.7 1191.4 1701.7 M441.1 1547.1 C695.2 1590.3 949.3 1625.1 1203.4 1697.9 M453 1543.8 C707.1 1586.6 961.3 1621.6 1215.4 1694.1 M464.9 1540.7 C719.1 1583 973.2 1618 1227.4 1690.2 M476.8 1537.7 C731 1579.5 985.2 1614.5 1239.3 1686.4 M488.8 1534.7 C742.9 1576 997.1 1611 1251.3 1682.6 M500.7 1531.8 C754.9 1572.6 1009.1 1607.6 1263.3 1678.7 M512.6 1529.1 C766.8 1569.2 1021 1604.1 1275.3 1674.9 M524.5 1526.4 C778.7 1565.9 1033 1600.7 1287.2 1671 M536.4 1523.7 C790.7 1562.6 1044.9 1597.3 1299.2 1667.1 M548.3 1521.2 C802.6 1559.4 1056.9 1594 1311.2 1663.3 M560.2 1518.8 C814.5 1556.3 1068.8 1590.6 1323.2 1659.4 M572.1 1516.4 C826.4 1553.2 1080.8 1587.3 1335.1 1655.5 M584 1514.1 C838.4 1550.1 1092.8 1584 1347.1 1651.7 M595.9 1511.9 C850.3 1547.1 1104.7 1580.8 1359.1 1647.8 M607.8 1509.7 C862.2 1544.2 1116.7 1577.5 1371.1 1644 M619.7 1507.7 C874.2 1541.3 1128.6 1574.3 1383.1 1640.1 M631.6 1505.6 C886.1 1538.5 1140.6 1571.2 1395 1636.3 M643.5 1503.7 C898 1535.7 1152.5 1568 1407 1632.5 M655.4 1501.8 C910 1532.9 1164.5 1564.9 1419 1628.7 M667.3 1500 C921.9 1530.2 1176.4 1561.8 1431 1624.9 M679.2 1498.3 C933.8 1527.5 1188.4 1558.8 1442.9 1621.1 M691.2 1496.6 C945.7 1524.9 1200.3 1555.8 1454.9 1617.3 M703.1 1494.9 C957.7 1522.4 1212.3 1552.8 1466.9 1613.6 M715 1493.4 C969.6 1519.8 1224.2 1549.8 1478.9 1609.8 M726.9 1491.9 C981.5 1517.4 1236.2 1546.9 1490.8 1606.1 M738.8 1490.4 C993.5 1514.9 1248.1 1544 1502.8 1602.4 M750.7 1489 C1005.4 1512.5 1260.1 1541.1 1514.8 1598.7 M762.6 1487.6 C1017.3 1510.2 1272 1538.3 1526.8 1595.1 M774.5 1486.3 C1029.2 1507.9 1284 1535.5 1538.8 1591.5 M786.4 1485 C1041.2 1505.6 1296 1532.7 1550.7 1587.9 M798.3 1483.8 C1053.1 1503.3 1307.9 1530 1562.7 1584.3 M810.2 1482.6 C1065 1501.1 1319.9 1527.3 1574.7 1580.7 M822.1 1481.5 C1077 1499 1331.8 1524.6 1586.7 1577.2 M834 1480.4 C1088.9 1496.9 1343.8 1522 1598.6 1573.8 M845.9 1479.3 C1100.8 1494.8 1355.7 1519.4 1610.6 1570.3 M857.8 1478.2 C1112.8 1492.7 1367.7 1516.9 1622.6 1566.9 M869.8 1477.2 C1124.7 1490.7 1379.6 1514.3 1634.6 1563.5 M881.7 1476.3 C1136.6 1488.7 1391.6 1511.8 1646.5 1560.2 M893.6 1475.3 C1148.5 1486.8 1403.5 1509.4 1658.5 1556.9 M905.5 1474.4 C1160.5 1484.8 1415.5 1507 1670.5 1553.6 M917.4 1473.5 C1172.4 1482.9 1427.4 1504.6 1682.5 1550.4 M929.3 1472.7 C1184.3 1481.1 1439.4 1502.2 1694.4 1547.2 M941.2 1471.8 C1196.3 1479.2 1451.3 1499.9 1706.4 1544.1 M953.1 1471 C1208.2 1477.4 1463.3 1497.7 1718.4 1541 M965 1470.2 C1220.1 1475.7 1475.2 1495.4 1730.4 1538 M976.9 1469.4 C1232.1 1473.9 1487.2 1493.2 1742.4 1535 M988.8 1468.7 C1244 1472.2 1499.2 1491.1 1754.3 1532.1 M1000.7 1467.9 C1255.9 1470.5 1511.1 1488.9 1766.3 1529.2 M1012.6 1467.2 C1267.8 1468.8 1523.1 1486.9 1778.3 1526.4 M1024.5 1466.4 C1279.8 1467.2 1535 1484.8 1790.3 1523.6 M1036.4 1465.7 C1291.7 1465.6 1547 1482.8 1802.2 1520.9 M1048.3 1465 C1303.6 1464 1558.9 1480.9 1814.2 1518.2 M1060.2 1464.3 C1315.6 1462.4 1570.9 1478.9 1826.2 1515.6 M1072.2 1463.6 C1327.5 1460.9 1582.8 1477.1 1838.2 1513 M1084.1 1462.8 C1339.4 1459.3 1594.8 1475.2 1850.1 1510.6 M1096 1462.1 C1351.4 1457.8 1606.7 1473.4 1862.1 1508.1 M1107.9 1461.4 C1363.3 1456.3 1618.7 1471.7 1874.1 1505.8 M1119.8 1460.7 C1375.2 1454.9 1630.6 1470 1886.1 1503.5 M1131.7 1460 C1387.1 1453.4 1642.6 1468.3 1898 1501.3 M1143.6 1459.2 C1399.1 1452 1654.5 1466.7 1910 1499.1 M1155.5 1458.5 C1411 1450.5 1666.5 1465.1 1922 1497" fill="none" stroke="#000" stroke-opacity="0.5" stroke-width="2.8"/>
<ellipse cx="385" cy="1565.4" rx="15" ry="10" fill="#f5a6cf" stroke="#6a4a5c" stroke-width="2.5"/>
<ellipse cx="1155.5" cy="1504" rx="15" ry="10" fill="#f20d0d" stroke="#5a0505" stroke-width="2.5"/>
<ellipse cx="1155.5" cy="1678.2" rx="15" ry="10" fill="#f20d0d" stroke="#5a0505" stroke-width="2.5"/>
<ellipse cx="1931.8" cy="1478.6" rx="15" ry="10" fill="#f20d0d" stroke="#5a0505" stroke-width="2.5"/>
<g transform="translate(396 1268.7)"><text font-size="62" text-anchor="middle" transform="scale(0.91 1)" y="13">c</text></g>
<g transform="translate(278 1362)"><text font-size="62" text-anchor="middle" transform="scale(0.91 1)" y="18">100%</text></g>
<g transform="translate(300 1462.4)"><text font-size="62" text-anchor="middle" transform="scale(0.91 1)" y="18">90%</text></g>
<g transform="translate(310 1560.5)"><text font-size="62" text-anchor="middle" transform="scale(0.91 1)" y="18">80%</text></g>
<g transform="translate(318.8 1661)"><text font-size="62" text-anchor="middle" transform="scale(0.91 1)" y="18">70%</text></g>
<g transform="translate(328.6 1759)"><text font-size="62" text-anchor="middle" transform="scale(0.91 1)" y="18">60%</text></g>
<g transform="translate(336 1861.3)"><text font-size="62" text-anchor="middle" transform="scale(0.91 1)" y="18">50%</text></g>
<g transform="translate(387.4 2055) rotate(17.5)"><text font-size="62" text-anchor="middle" transform="scale(0.91 1)" y="18">25.00</text></g>
<g transform="translate(569 2111.4) rotate(17.5)"><text font-size="62" text-anchor="middle" transform="scale(0.91 1)" y="18">20.00</text></g>
<g transform="translate(750.4 2170.3) rotate(17.5)"><text font-size="62" text-anchor="middle" transform="scale(0.91 1)" y="18">15.00</text></g>
<g transform="translate(941.6 2231.6) rotate(17.5)"><text font-size="62" text-anchor="middle" transform="scale(0.91 1)" y="18">10.00</text></g>
<g transform="translate(1098 2278) rotate(17.5)"><text font-size="62" text-anchor="middle" transform="scale(0.91 1)" y="18">5.00</text></g>
<g transform="translate(1213.3 2275.7) rotate(-17.5)"><text font-size="62" text-anchor="middle" transform="scale(0.91 1)" y="18">8.00</text></g>
<g transform="translate(1353 2229) rotate(-17.5)"><text font-size="62" text-anchor="middle" transform="scale(0.91 1)" y="18">8.50</text></g>
<g transform="translate(1532 2172.7) rotate(-17.5)"><text font-size="62" text-anchor="middle" transform="scale(0.91 1)" y="18">9.00</text></g>
<g transform="translate(1728.3 2111.4) rotate(-17.5)"><text font-size="62" text-anchor="middle" transform="scale(0.91 1)" y="18">9.50</text></g>
<g transform="translate(1914.7 2052.6) rotate(-17.5)"><text font-size="62" text-anchor="middle" transform="scale(0.91 1)" y="18">10.00</text></g>
<g transform="translate(1605.7 2266) rotate(-17.5)"><text font-size="62" text-anchor="middle" transform="scale(0.91 1)" y="12.4">pH</text></g>
<g transform="translate(696.4 2280.6) rotate(20)"><text class="cj" font-size="62" transform="translate(-169.3 0) scale(1 1.0)" y="22.3">反应温度</text><text font-size="62" transform="translate(86.7 0) scale(0.91 1)" y="22.3">/<tspan class="cj" dx="6" font-size="62">℃</tspan></text></g>
<g transform="translate(145.5 1684) rotate(-95)"><text class="cj" font-size="62" text-anchor="middle" transform="scale(1 1.0)" y="22.3">磷回收率</text></g>
</g>
<g id="panel-d">
<path d="M2336.6 2013.3 L3079 2246.3 L3820.7 2012.4 L3079 1833Z" fill="#eef51f"/>
<g fill="none" clip-path="url(#fld)"><path d="M2340 2006 Q2752.8 2100 3120 2230" stroke="#a4f03e" stroke-width="5.5" stroke-opacity="0.85"/><path d="M2440 1982 Q2770 2082.9 3280 2185" stroke="#a4f03e" stroke-width="5.5" stroke-opacity="0.85"/><path d="M2535 1961 Q2832 2038 3355 2163" stroke="#a4f03e" stroke-width="5.5" stroke-opacity="0.85"/><path d="M2756 1910 Q2983.4 1988.5 3420 2093" stroke="#a4f03e" stroke-width="4" stroke-opacity="0.3"/></g>
<path d="M2336.6 2013.3 L3079 2246.3 L3820.7 2012.4 L3079 1833Z M2336.6 2013.3 L2288.5 1345.7 L3079 1230.4 L3869.7 1345.7 L3820.7 2012.4 M3079 1230.4 L3079 1833" fill="none" stroke="#0a0a0a" stroke-width="3.8" stroke-linejoin="round"/>
<g fill="#0a0a0a"><circle cx="2325.2" cy="1854.4" r="4.6"/><circle cx="2317.8" cy="1752.7" r="4.6"/><circle cx="2310.5" cy="1650.9" r="4.6"/><circle cx="2303.2" cy="1549.2" r="4.6"/><circle cx="2295.8" cy="1447.4" r="4.6"/><circle cx="2288.5" cy="1345.7" r="4.6"/><circle cx="2336.6" cy="2013.3" r="4.6"/><circle cx="2522.2" cy="2071.6" r="4.6"/><circle cx="2707.8" cy="2129.8" r="4.6"/><circle cx="2893.4" cy="2188.1" r="4.6"/><circle cx="3079" cy="2246.3" r="4.6"/><circle cx="3079" cy="2246.3" r="4.6"/><circle cx="3264.4" cy="2187.8" r="4.6"/><circle cx="3449.8" cy="2129.4" r="4.6"/><circle cx="3635.3" cy="2070.9" r="4.6"/><circle cx="3820.7" cy="2012.4" r="4.6"/></g>
<g stroke-width="1.5"><path d="M2327.5 1764 C2577.3 1478.6 2827.2 1338.6 3077 1316.7 L3096.5 1319.2 C2846.4 1342.5 2596.3 1484 2346.2 1769.2Z" fill="url(#d0)" stroke="url(#d0)"/><path d="M2346.2 1769.2 C2596.3 1484 2846.4 1342.5 3096.5 1319.2 L3116 1321.7 C2865.7 1346.4 2615.3 1489.5 2365 1774.4Z" fill="url(#d1)" stroke="url(#d1)"/><path d="M2365 1774.4 C2615.3 1489.5 2865.7 1346.4 3116 1321.7 L3135.5 1324.3 C2884.9 1350.4 2634.3 1495 2383.7 1779.7Z" fill="url(#d2)" stroke="url(#d2)"/><path d="M2383.7 1779.7 C2634.3 1495 2884.9 1350.4 3135.5 1324.3 L3155.1 1326.9 C2904.2 1354.4 2653.3 1500.6 2402.4 1785Z" fill="url(#d3)" stroke="url(#d3)"/><path d="M2402.4 1785 C2653.3 1500.6 2904.2 1354.4 3155.1 1326.9 L3174.6 1329.6 C2923.4 1358.5 2672.3 1506.1 2421.2 1790.3Z" fill="url(#d4)" stroke="url(#d4)"/><path d="M2421.2 1790.3 C2672.3 1506.1 2923.4 1358.5 3174.6 1329.6 L3194.1 1332.4 C2942.7 1362.6 2691.3 1511.8 2439.9 1795.6Z" fill="url(#d5)" stroke="url(#d5)"/><path d="M2439.9 1795.6 C2691.3 1511.8 2942.7 1362.6 3194.1 1332.4 L3213.6 1335.2 C2962 1366.8 2710.3 1517.4 2458.7 1800.9Z" fill="url(#d6)" stroke="url(#d6)"/><path d="M2458.7 1800.9 C2710.3 1517.4 2962 1366.8 3213.6 1335.2 L3233.1 1338 C2981.2 1371 2729.3 1523.1 2477.4 1806.3Z" fill="url(#d7)" stroke="url(#d7)"/><path d="M2477.4 1806.3 C2729.3 1523.1 2981.2 1371 3233.1 1338 L3252.6 1340.9 C3000.5 1375.2 2748.3 1528.8 2496.1 1811.7Z" fill="url(#d8)" stroke="url(#d8)"/><path d="M2496.1 1811.7 C2748.3 1528.8 3000.5 1375.2 3252.6 1340.9 L3272.1 1343.8 C3019.7 1379.5 2767.3 1534.5 2514.9 1817.1Z" fill="url(#d9)" stroke="url(#d9)"/><path d="M2514.9 1817.1 C2767.3 1534.5 3019.7 1379.5 3272.1 1343.8 L3291.7 1346.7 C3039 1383.8 2786.3 1540.2 2533.6 1822.5Z" fill="url(#d10)" stroke="url(#d10)"/><path d="M2533.6 1822.5 C2786.3 1540.2 3039 1383.8 3291.7 1346.7 L3311.2 1349.7 C3058.2 1388.1 2805.3 1546 2552.4 1828Z" fill="url(#d11)" stroke="url(#d11)"/><path d="M2552.4 1828 C2805.3 1546 3058.2 1388.1 3311.2 1349.7 L3330.7 1352.6 C3077.5 1392.4 2824.3 1551.8 2571.1 1833.4Z" fill="url(#d12)" stroke="url(#d12)"/><path d="M2571.1 1833.4 C2824.3 1551.8 3077.5 1392.4 3330.7 1352.6 L3350.2 1355.7 C3096.7 1396.8 2843.3 1557.6 2589.8 1838.9Z" fill="url(#d13)" stroke="url(#d13)"/><path d="M2589.8 1838.9 C2843.3 1557.6 3096.7 1396.8 3350.2 1355.7 L3369.7 1358.7 C3116 1401.2 2862.3 1563.5 2608.6 1844.4Z" fill="url(#d14)" stroke="url(#d14)"/><path d="M2608.6 1844.4 C2862.3 1563.5 3116 1401.2 3369.7 1358.7 L3389.2 1361.7 C3135.3 1405.5 2881.3 1569.3 2627.3 1850Z" fill="url(#d15)" stroke="url(#d15)"/><path d="M2627.3 1850 C2881.3 1569.3 3135.3 1405.5 3389.2 1361.7 L3408.8 1364.8 C3154.5 1410 2900.3 1575.2 2646 1855.5Z" fill="url(#d16)" stroke="url(#d16)"/><path d="M2646 1855.5 C2900.3 1575.2 3154.5 1410 3408.8 1364.8 L3428.3 1367.9 C3173.8 1414.4 2919.3 1581.1 2664.8 1861.1Z" fill="url(#d17)" stroke="url(#d17)"/><path d="M2664.8 1861.1 C2919.3 1581.1 3173.8 1414.4 3428.3 1367.9 L3447.8 1370.9 C3193 1418.8 2938.3 1587 2683.5 1866.7Z" fill="url(#d18)" stroke="url(#d18)"/><path d="M2683.5 1866.7 C2938.3 1587 3193 1418.8 3447.8 1370.9 L3467.3 1374 C3212.3 1423.2 2957.3 1592.9 2702.2 1872.3Z" fill="url(#d19)" stroke="url(#d19)"/><path d="M2702.2 1872.3 C2957.3 1592.9 3212.3 1423.2 3467.3 1374 L3486.8 1377.1 C3231.5 1427.7 2976.3 1598.8 2721 1877.9Z" fill="url(#d20)" stroke="url(#d20)"/><path d="M2721 1877.9 C2976.3 1598.8 3231.5 1427.7 3486.8 1377.1 L3506.3 1380.1 C3250.8 1432.1 2995.3 1604.7 2739.7 1883.5Z" fill="url(#d21)" stroke="url(#d21)"/><path d="M2739.7 1883.5 C2995.3 1604.7 3250.8 1432.1 3506.3 1380.1 L3525.8 1383.2 C3270.1 1436.5 3014.3 1610.7 2758.5 1889.2Z" fill="url(#d22)" stroke="url(#d22)"/><path d="M2758.5 1889.2 C3014.3 1610.7 3270.1 1436.5 3525.8 1383.2 L3545.4 1386.2 C3289.3 1441 3033.3 1616.6 2777.2 1894.8Z" fill="url(#d23)" stroke="url(#d23)"/><path d="M2777.2 1894.8 C3033.3 1616.6 3289.3 1441 3545.4 1386.2 L3564.9 1389.3 C3308.6 1445.4 3052.2 1622.6 2795.9 1900.5Z" fill="url(#d24)" stroke="url(#d24)"/><path d="M2795.9 1900.5 C3052.2 1622.6 3308.6 1445.4 3564.9 1389.3 L3584.4 1392.3 C3327.8 1449.8 3071.2 1628.5 2814.7 1906.2Z" fill="url(#d25)" stroke="url(#d25)"/><path d="M2814.7 1906.2 C3071.2 1628.5 3327.8 1449.8 3584.4 1392.3 L3603.9 1395.3 C3347.1 1454.3 3090.2 1634.5 2833.4 1911.9Z" fill="url(#d26)" stroke="url(#d26)"/><path d="M2833.4 1911.9 C3090.2 1634.5 3347.1 1454.3 3603.9 1395.3 L3623.4 1398.2 C3366.3 1458.7 3109.2 1640.4 2852.1 1917.7Z" fill="url(#d27)" stroke="url(#d27)"/><path d="M2852.1 1917.7 C3109.2 1640.4 3366.3 1458.7 3623.4 1398.2 L3642.9 1401.1 C3385.6 1463.1 3128.2 1646.4 2870.9 1923.4Z" fill="url(#d28)" stroke="url(#d28)"/><path d="M2870.9 1923.4 C3128.2 1646.4 3385.6 1463.1 3642.9 1401.1 L3662.4 1404 C3404.8 1467.4 3147.2 1652.4 2889.6 1929.2Z" fill="url(#d29)" stroke="url(#d29)"/><path d="M2889.6 1929.2 C3147.2 1652.4 3404.8 1467.4 3662.4 1404 L3682 1406.9 C3424.1 1471.8 3166.2 1658.3 2908.4 1935Z" fill="url(#d30)" stroke="url(#d30)"/><path d="M2908.4 1935 C3166.2 1658.3 3424.1 1471.8 3682 1406.9 L3701.5 1409.7 C3443.4 1476.1 3185.2 1664.3 2927.1 1940.8Z" fill="url(#d31)" stroke="url(#d31)"/><path d="M2927.1 1940.8 C3185.2 1664.3 3443.4 1476.1 3701.5 1409.7 L3721 1412.5 C3462.6 1480.4 3204.2 1670.2 2945.8 1946.6Z" fill="url(#d32)" stroke="url(#d32)"/><path d="M2945.8 1946.6 C3204.2 1670.2 3462.6 1480.4 3721 1412.5 L3740.5 1415.2 C3481.9 1484.7 3223.2 1676.2 2964.6 1952.4Z" fill="url(#d33)" stroke="url(#d33)"/><path d="M2964.6 1952.4 C3223.2 1676.2 3481.9 1484.7 3740.5 1415.2 L3760 1417.9 C3501.1 1489 3242.2 1682.1 2983.3 1958.2Z" fill="url(#d34)" stroke="url(#d34)"/><path d="M2983.3 1958.2 C3242.2 1682.1 3501.1 1489 3760 1417.9 L3779.5 1420.6 C3520.4 1493.2 3261.2 1688 3002.1 1964.1Z" fill="url(#d35)" stroke="url(#d35)"/><path d="M3002.1 1964.1 C3261.2 1688 3520.4 1493.2 3779.5 1420.6 L3799.1 1423.1 C3539.6 1497.4 3280.2 1694 3020.8 1969.9Z" fill="url(#d36)" stroke="url(#d36)"/><path d="M3020.8 1969.9 C3280.2 1694 3539.6 1497.4 3799.1 1423.1 L3818.6 1425.7 C3558.9 1501.5 3299.2 1699.9 3039.5 1975.8Z" fill="url(#d37)" stroke="url(#d37)"/><path d="M3039.5 1975.8 C3299.2 1699.9 3558.9 1501.5 3818.6 1425.7 L3838.1 1428.1 C3578.1 1505.6 3318.2 1705.8 3058.3 1981.7Z" fill="url(#d38)" stroke="url(#d38)"/><path d="M3058.3 1981.7 C3318.2 1705.8 3578.1 1505.6 3838.1 1428.1 L3857.6 1430.5 C3597.4 1509.7 3337.2 1711.6 3077 1987.6Z" fill="url(#d39)" stroke="url(#d39)"/></g>
<g clip-path="url(#csd)"><path d="M2800 1355 L2826 1343 L2853 1333 L2879 1323 L2906 1315 L2932 1307 L2959 1300 L2985 1294 L3011 1289 L3038 1285 L3064 1282 L3091 1282 L3117 1286 L3144 1289 L3170 1293 L3196 1297 L3223 1300 L3249 1304 L3276 1308 L3302 1312 L3328 1316 L3355 1320 L3381 1325 L3408 1329 L3434 1333 L3461 1337 L3487 1341 L3513 1345 L3540 1349 L3566 1353 L3593 1358 L3619 1362 L3646 1366 L3672 1369 L3698 1373 L3725 1377 L3751 1381 L3778 1384 L3804 1388 L3831 1391 L3857 1394 L3857 1420 L3831 1422 L3804 1424 L3778 1425 L3751 1426 L3725 1424 L3698 1422 L3672 1419 L3646 1417 L3619 1414 L3593 1412 L3566 1409 L3540 1406 L3513 1403 L3487 1399 L3461 1396 L3434 1393 L3408 1389 L3381 1386 L3355 1383 L3328 1379 L3302 1376 L3276 1373 L3249 1369 L3223 1366 L3196 1363 L3170 1359 L3144 1356 L3117 1353 L3091 1350 L3064 1348 L3038 1347 L3011 1348 L2985 1349 L2959 1351 L2932 1354 L2906 1354 L2879 1354 L2853 1355 L2826 1358 L2800 1361Z" fill="#000" fill-opacity="0.45" filter="url(#bld0)"/></g>
<g clip-path="url(#csd)"><path d="M2600 1359 L2631 1337 L2663 1316 L2694 1296 L2726 1278 L2757 1261 L2789 1246 L2820 1232 L2851 1219 L2883 1208 L2914 1198 L2946 1189 L2977 1182 L3009 1176 L3040 1171 L3071 1167 L3103 1170 L3134 1174 L3166 1178 L3197 1183 L3228 1187 L3260 1192 L3291 1197 L3323 1201 L3354 1206 L3386 1211 L3417 1216 L3448 1221 L3480 1226 L3511 1231 L3543 1236 L3574 1241 L3606 1246 L3637 1250 L3668 1255 L3700 1259 L3731 1264 L3763 1268 L3794 1272 L3826 1277 L3857 1280 L3857 1450 L3826 1463 L3794 1475 L3763 1486 L3731 1498 L3700 1510 L3668 1511 L3637 1513 L3606 1514 L3574 1516 L3543 1517 L3511 1519 L3480 1520 L3448 1521 L3417 1523 L3386 1523 L3354 1521 L3323 1519 L3291 1517 L3260 1515 L3228 1513 L3197 1512 L3166 1510 L3134 1509 L3103 1508 L3071 1505 L3040 1495 L3009 1486 L2977 1479 L2946 1472 L2914 1467 L2883 1464 L2851 1462 L2820 1461 L2789 1462 L2757 1466 L2726 1472 L2694 1479 L2663 1488 L2631 1498 L2600 1509Z" fill="#000" fill-opacity="0.3" filter="url(#bld1)"/></g>
<path d="M2327.5 1764 C2577.3 1478.6 2827.2 1338.6 3077 1316.7 M2335 1766.1 C2584.9 1480.7 2834.9 1340.1 3084.8 1317.7 M2342.5 1768.2 C2592.5 1482.9 2842.6 1341.7 3092.6 1318.7 M2350 1770.3 C2600.1 1485.1 2850.3 1343.2 3100.4 1319.7 M2357.5 1772.3 C2607.7 1487.3 2858 1344.8 3108.2 1320.7 M2365 1774.4 C2615.3 1489.5 2865.7 1346.4 3116 1321.7 M2372.5 1776.5 C2622.9 1491.7 2873.4 1348 3123.8 1322.7 M2380 1778.6 C2630.5 1493.9 2881.1 1349.6 3131.6 1323.8 M2387.5 1780.7 C2638.1 1496.1 2888.8 1351.2 3139.4 1324.8 M2395 1782.9 C2645.7 1498.3 2896.5 1352.8 3147.3 1325.9 M2402.4 1785 C2653.3 1500.6 2904.2 1354.4 3155.1 1326.9 M2409.9 1787.1 C2660.9 1502.8 2911.9 1356.1 3162.9 1328 M2417.4 1789.2 C2668.5 1505 2919.6 1357.7 3170.7 1329.1 M2424.9 1791.3 C2676.1 1507.3 2927.3 1359.3 3178.5 1330.2 M2432.4 1793.5 C2683.7 1509.5 2935 1361 3186.3 1331.3 M2439.9 1795.6 C2691.3 1511.8 2942.7 1362.6 3194.1 1332.4 M2447.4 1797.7 C2698.9 1514 2950.4 1364.3 3201.9 1333.5 M2454.9 1799.9 C2706.5 1516.3 2958.1 1366 3209.7 1334.6 M2462.4 1802 C2714.1 1518.5 2965.8 1367.6 3217.5 1335.7 M2469.9 1804.2 C2721.7 1520.8 2973.5 1369.3 3225.3 1336.8 M2477.4 1806.3 C2729.3 1523.1 2981.2 1371 3233.1 1338 M2484.9 1808.5 C2736.9 1525.3 2988.9 1372.7 3240.9 1339.1 M2492.4 1810.6 C2744.5 1527.6 2996.6 1374.4 3248.7 1340.3 M2499.9 1812.8 C2752.1 1529.9 3004.3 1376.1 3256.5 1341.4 M2507.4 1814.9 C2759.7 1532.2 3012 1377.8 3264.3 1342.6 M2514.9 1817.1 C2767.3 1534.5 3019.7 1379.5 3272.1 1343.8 M2522.4 1819.3 C2774.9 1536.8 3027.4 1381.2 3280 1344.9 M2529.9 1821.4 C2782.5 1539.1 3035.1 1382.9 3287.8 1346.1 M2537.4 1823.6 C2790.1 1541.4 3042.8 1384.6 3295.6 1347.3 M2544.9 1825.8 C2797.7 1543.7 3050.5 1386.4 3303.4 1348.5 M2552.4 1828 C2805.3 1546 3058.2 1388.1 3311.2 1349.7 M2559.8 1830.2 C2812.9 1548.3 3065.9 1389.8 3319 1350.9 M2567.3 1832.3 C2820.5 1550.6 3073.6 1391.6 3326.8 1352 M2574.8 1834.5 C2828.1 1553 3081.3 1393.3 3334.6 1353.2 M2582.3 1836.7 C2835.7 1555.3 3089 1395 3342.4 1354.5 M2589.8 1838.9 C2843.3 1557.6 3096.7 1396.8 3350.2 1355.7 M2597.3 1841.1 C2850.9 1560 3104.5 1398.5 3358 1356.9 M2604.8 1843.3 C2858.5 1562.3 3112.2 1400.3 3365.8 1358.1 M2612.3 1845.5 C2866.1 1564.6 3119.9 1402 3373.6 1359.3 M2619.8 1847.8 C2873.7 1567 3127.6 1403.8 3381.4 1360.5 M2627.3 1850 C2881.3 1569.3 3135.3 1405.5 3389.2 1361.7 M2634.8 1852.2 C2888.9 1571.7 3143 1407.3 3397 1363 M2642.3 1854.4 C2896.5 1574 3150.7 1409.1 3404.9 1364.2 M2649.8 1856.6 C2904.1 1576.4 3158.4 1410.8 3412.7 1365.4 M2657.3 1858.8 C2911.7 1578.7 3166.1 1412.6 3420.5 1366.6 M2664.8 1861.1 C2919.3 1581.1 3173.8 1414.4 3428.3 1367.9 M2672.3 1863.3 C2926.9 1583.4 3181.5 1416.1 3436.1 1369.1 M2679.8 1865.5 C2934.5 1585.8 3189.2 1417.9 3443.9 1370.3 M2687.3 1867.8 C2942.1 1588.1 3196.9 1419.7 3451.7 1371.5 M2694.8 1870 C2949.7 1590.5 3204.6 1421.5 3459.5 1372.8 M2702.2 1872.3 C2957.3 1592.9 3212.3 1423.2 3467.3 1374 M2709.7 1874.5 C2964.9 1595.2 3220 1425 3475.1 1375.2 M2717.2 1876.8 C2972.5 1597.6 3227.7 1426.8 3482.9 1376.5 M2724.7 1879 C2980.1 1600 3235.4 1428.6 3490.7 1377.7 M2732.2 1881.3 C2987.7 1602.3 3243.1 1430.3 3498.5 1378.9 M2739.7 1883.5 C2995.3 1604.7 3250.8 1432.1 3506.3 1380.1 M2747.2 1885.8 C3002.9 1607.1 3258.5 1433.9 3514.1 1381.4 M2754.7 1888 C3010.5 1609.5 3266.2 1435.7 3521.9 1382.6 M2762.2 1890.3 C3018.1 1611.8 3273.9 1437.4 3529.7 1383.8 M2769.7 1892.6 C3025.7 1614.2 3281.6 1439.2 3537.6 1385 M2777.2 1894.8 C3033.3 1616.6 3289.3 1441 3545.4 1386.2 M2784.7 1897.1 C3040.9 1619 3297 1442.8 3553.2 1387.4 M2792.2 1899.4 C3048.5 1621.4 3304.7 1444.5 3561 1388.7 M2799.7 1901.7 C3056 1623.7 3312.4 1446.3 3568.8 1389.9 M2807.2 1903.9 C3063.6 1626.1 3320.1 1448.1 3576.6 1391.1 M2814.7 1906.2 C3071.2 1628.5 3327.8 1449.8 3584.4 1392.3 M2822.2 1908.5 C3078.8 1630.9 3335.5 1451.6 3592.2 1393.5 M2829.7 1910.8 C3086.4 1633.3 3343.2 1453.4 3600 1394.7 M2837.2 1913.1 C3094 1635.7 3350.9 1455.1 3607.8 1395.8 M2844.7 1915.4 C3101.6 1638 3358.6 1456.9 3615.6 1397 M2852.1 1917.7 C3109.2 1640.4 3366.3 1458.7 3623.4 1398.2 M2859.6 1920 C3116.8 1642.8 3374 1460.4 3631.2 1399.4 M2867.1 1922.3 C3124.4 1645.2 3381.7 1462.2 3639 1400.6 M2874.6 1924.6 C3132 1647.6 3389.4 1463.9 3646.8 1401.7 M2882.1 1926.9 C3139.6 1650 3397.1 1465.7 3654.6 1402.9 M2889.6 1929.2 C3147.2 1652.4 3404.8 1467.4 3662.4 1404 M2897.1 1931.5 C3154.8 1654.7 3412.5 1469.2 3670.3 1405.2 M2904.6 1933.8 C3162.4 1657.1 3420.2 1470.9 3678.1 1406.3 M2912.1 1936.1 C3170 1659.5 3427.9 1472.6 3685.9 1407.5 M2919.6 1938.4 C3177.6 1661.9 3435.7 1474.4 3693.7 1408.6 M2927.1 1940.8 C3185.2 1664.3 3443.4 1476.1 3701.5 1409.7 M2934.6 1943.1 C3192.8 1666.7 3451.1 1477.8 3709.3 1410.8 M2942.1 1945.4 C3200.4 1669 3458.8 1479.6 3717.1 1412 M2949.6 1947.7 C3208 1671.4 3466.5 1481.3 3724.9 1413.1 M2957.1 1950.1 C3215.6 1673.8 3474.2 1483 3732.7 1414.2 M2964.6 1952.4 C3223.2 1676.2 3481.9 1484.7 3740.5 1415.2 M2972.1 1954.7 C3230.8 1678.5 3489.6 1486.4 3748.3 1416.3 M2979.6 1957.1 C3238.4 1680.9 3497.3 1488.1 3756.1 1417.4 M2987.1 1959.4 C3246 1683.3 3505 1489.8 3763.9 1418.5 M2994.6 1961.7 C3253.6 1685.7 3512.7 1491.5 3771.7 1419.5 M3002.1 1964.1 C3261.2 1688 3520.4 1493.2 3779.5 1420.6 M3009.5 1966.4 C3268.8 1690.4 3528.1 1494.9 3787.3 1421.6 M3017 1968.8 C3276.4 1692.8 3535.8 1496.5 3795.2 1422.6 M3024.5 1971.1 C3284 1695.1 3543.5 1498.2 3803 1423.6 M3032 1973.5 C3291.6 1697.5 3551.2 1499.9 3810.8 1424.7 M3039.5 1975.8 C3299.2 1699.9 3558.9 1501.5 3818.6 1425.7 M3047 1978.2 C3306.8 1702.2 3566.6 1503.2 3826.4 1426.6 M3054.5 1980.5 C3314.4 1704.6 3574.3 1504.8 3834.2 1427.6 M3062 1982.9 C3322 1706.9 3582 1506.5 3842 1428.6 M3069.5 1985.2 C3329.6 1709.3 3589.7 1508.1 3849.8 1429.6 M3077 1987.6 C3337.2 1711.6 3597.4 1509.7 3857.6 1430.5" fill="none" stroke="#000" stroke-opacity="0.5" stroke-width="3.0"/>
<path d="M2327.5 1764 C2577.3 1833.3 2827.2 1908.9 3077 1987.6 M2338.2 1751.9 C2588.2 1821.2 2838.2 1897.1 3088.2 1975.8 M2348.9 1739.9 C2599 1809.4 2849.2 1885.5 3099.3 1964.1 M2359.6 1728.1 C2609.9 1797.6 2860.2 1874 3110.5 1952.5 M2370.3 1716.5 C2620.8 1786.1 2871.2 1862.6 3121.6 1941 M2381 1705.1 C2631.6 1774.6 2882.2 1851.3 3132.8 1929.6 M2391.7 1693.8 C2642.5 1763.3 2893.2 1840.2 3143.9 1918.3 M2402.4 1682.7 C2653.3 1752.2 2904.2 1829.2 3155.1 1907.1 M2413.2 1671.8 C2664.2 1741.2 2915.2 1818.3 3166.2 1896 M2423.9 1661.1 C2675 1730.4 2926.2 1807.5 3177.4 1884.9 M2434.6 1650.5 C2685.9 1719.7 2937.2 1796.9 3188.5 1874 M2445.3 1640.1 C2696.7 1709.2 2948.2 1786.3 3199.7 1863.2 M2456 1629.9 C2707.6 1698.8 2959.2 1775.9 3210.8 1852.4 M2466.7 1619.8 C2718.5 1688.5 2970.2 1765.6 3222 1841.8 M2477.4 1610 C2729.3 1678.4 2981.2 1755.5 3233.1 1831.3 M2488.1 1600.3 C2740.2 1668.5 2992.2 1745.5 3244.3 1820.9 M2498.8 1590.7 C2751 1658.7 3003.2 1735.6 3255.4 1810.6 M2509.5 1581.4 C2761.9 1649.1 3014.2 1725.8 3266.6 1800.3 M2520.2 1572.2 C2772.7 1639.6 3025.2 1716.1 3277.7 1790.2 M2530.9 1563.2 C2783.6 1630.2 3036.2 1706.6 3288.9 1780.2 M2541.6 1554.3 C2794.4 1621 3047.2 1697.2 3300 1770.3 M2552.3 1545.6 C2805.3 1611.9 3058.2 1687.9 3311.2 1760.5 M2563.1 1537.1 C2816.1 1603 3069.2 1678.8 3322.3 1750.9 M2573.8 1528.8 C2827 1594.3 3080.2 1669.8 3333.5 1741.3 M2584.5 1520.6 C2837.9 1585.7 3091.2 1660.9 3344.6 1731.8 M2595.2 1512.6 C2848.7 1577.2 3102.2 1652.2 3355.8 1722.5 M2605.9 1504.7 C2859.6 1568.9 3113.3 1643.5 3366.9 1713.2 M2616.6 1497.1 C2870.4 1560.7 3124.3 1635 3378.1 1704.1 M2627.3 1489.5 C2881.3 1552.7 3135.3 1626.7 3389.2 1695.1 M2638 1482.2 C2892.1 1544.8 3146.3 1618.5 3400.4 1686.2 M2648.7 1475 C2903 1537.1 3157.3 1610.4 3411.5 1677.4 M2659.4 1468 C2913.8 1529.5 3168.3 1602.4 3422.7 1668.8 M2670.1 1461.1 C2924.7 1522.1 3179.3 1594.6 3433.8 1660.2 M2680.8 1454.4 C2935.6 1514.8 3190.3 1586.9 3445 1651.8 M2691.5 1447.9 C2946.4 1507.7 3201.3 1579.3 3456.1 1643.5 M2702.2 1441.5 C2957.3 1500.7 3212.3 1571.9 3467.3 1635.3 M2713 1435.3 C2968.1 1493.9 3223.3 1564.6 3478.5 1627.2 M2723.7 1429.2 C2979 1487.2 3234.3 1557.4 3489.6 1619.2 M2734.4 1423.4 C2989.8 1480.7 3245.3 1550.4 3500.8 1611.4 M2745.1 1417.6 C3000.7 1474.3 3256.3 1543.5 3511.9 1603.7 M2755.8 1412.1 C3011.5 1468 3267.3 1536.7 3523.1 1596.1 M2766.5 1406.6 C3022.4 1461.9 3278.3 1530.1 3534.2 1588.7 M2777.2 1401.4 C3033.3 1456 3289.3 1523.6 3545.4 1581.3 M2787.9 1396.3 C3044.1 1450.2 3300.3 1517.3 3556.5 1574.1 M2798.6 1391.4 C3055 1444.5 3311.3 1511.1 3567.7 1567.1 M2809.3 1386.6 C3065.8 1439 3322.3 1505 3578.8 1560.1 M2820 1381.9 C3076.7 1433.7 3333.3 1499 3590 1553.3 M2830.7 1377.5 C3087.5 1428.4 3344.3 1493.3 3601.1 1546.6 M2841.4 1373.2 C3098.4 1423.4 3355.3 1487.6 3612.3 1540 M2852.1 1369 C3109.2 1418.5 3366.3 1482.1 3623.4 1533.6 M2862.9 1365 C3120.1 1413.7 3377.3 1476.7 3634.6 1527.3 M2873.6 1361.2 C3131 1409.1 3388.3 1471.5 3645.7 1521.2 M2884.3 1357.5 C3141.8 1404.6 3399.3 1466.4 3656.9 1515.1 M2895 1353.9 C3152.7 1400.3 3410.3 1461.4 3668 1509.2 M2905.7 1350.5 C3163.5 1396.1 3421.3 1456.6 3679.2 1503.5 M2916.4 1347.3 C3174.4 1392 3432.3 1451.9 3690.3 1497.8 M2927.1 1344.2 C3185.2 1388.2 3443.4 1447.4 3701.5 1492.4 M2937.8 1341.3 C3196.1 1384.4 3454.4 1443 3712.6 1487 M2948.5 1338.5 C3206.9 1380.8 3465.4 1438.8 3723.8 1481.8 M2959.2 1335.9 C3217.8 1377.4 3476.4 1434.7 3734.9 1476.7 M2969.9 1333.4 C3228.6 1374.1 3487.4 1430.7 3746.1 1471.8 M2980.6 1331 C3239.5 1370.9 3498.4 1426.9 3757.2 1467 M2991.3 1328.9 C3250.4 1367.9 3509.4 1423.2 3768.4 1462.4 M3002.1 1326.8 C3261.2 1365.1 3520.4 1419.7 3779.5 1457.9 M3012.8 1324.9 C3272.1 1362.3 3531.4 1416.3 3790.7 1453.5 M3023.5 1323.2 C3282.9 1359.8 3542.4 1413.1 3801.8 1449.3 M3034.2 1321.6 C3293.8 1357.4 3553.4 1410 3813 1445.3 M3044.9 1320.2 C3304.6 1355.1 3564.4 1407.1 3824.1 1441.4 M3055.6 1318.9 C3315.5 1353 3575.4 1404.3 3835.3 1437.6 M3066.3 1317.7 C3326.3 1351 3586.4 1401.6 3846.4 1434 M3077 1316.7 C3337.2 1349.1 3597.4 1399.1 3857.6 1430.5" fill="none" stroke="#000" stroke-opacity="0.5" stroke-width="3.0"/>
<ellipse cx="2316" cy="1762.5" rx="15" ry="10" fill="#f20d0d" stroke="#5a0505" stroke-width="2.5"/>
<ellipse cx="3079" cy="1305.4" rx="15" ry="10" fill="#f20d0d" stroke="#5a0505" stroke-width="2.5"/>
<ellipse cx="3079" cy="1502.6" rx="15" ry="10" fill="#f20d0d" stroke="#5a0505" stroke-width="2.5"/>
<ellipse cx="3863.8" cy="1423" rx="15" ry="10" fill="#f20d0d" stroke="#5a0505" stroke-width="2.5"/>
<ellipse cx="3079" cy="1984" rx="15" ry="10" fill="#f20d0d" stroke="#5a0505" stroke-width="2.5"/>
<g transform="translate(2339 1251.5)"><text font-size="62" text-anchor="middle" transform="scale(0.91 1)" y="13">d</text></g>
<g transform="translate(2199.3 1352)"><text font-size="62" text-anchor="middle" transform="scale(0.91 1)" y="18">100%</text></g>
<g transform="translate(2220 1450)"><text font-size="62" text-anchor="middle" transform="scale(0.91 1)" y="18">90%</text></g>
<g transform="translate(2231 1548)"><text font-size="62" text-anchor="middle" transform="scale(0.91 1)" y="18">80%</text></g>
<g transform="translate(2239.5 1648.7)"><text font-size="62" text-anchor="middle" transform="scale(0.91 1)" y="18">70%</text></g>
<g transform="translate(2248.3 1746.8)"><text font-size="62" text-anchor="middle" transform="scale(0.91 1)" y="18">60%</text></g>
<g transform="translate(2258 1849)"><text font-size="62" text-anchor="middle" transform="scale(0.91 1)" y="18">50%</text></g>
<g transform="translate(2312 2055) rotate(17.5)"><text font-size="62" text-anchor="middle" transform="scale(0.91 1)" y="18">25.00</text></g>
<g transform="translate(2493.5 2111.4) rotate(17.5)"><text font-size="62" text-anchor="middle" transform="scale(0.91 1)" y="18">20.00</text></g>
<g transform="translate(2677.4 2170.3) rotate(17.5)"><text font-size="62" text-anchor="middle" transform="scale(0.91 1)" y="18">15.00</text></g>
<g transform="translate(2871 2231.6) rotate(17.5)"><text font-size="62" text-anchor="middle" transform="scale(0.91 1)" y="18">10.00</text></g>
<g transform="translate(3037.4 2283) rotate(17.5)"><text font-size="62" text-anchor="middle" transform="scale(0.91 1)" y="18">5.00</text></g>
<g transform="translate(3145.3 2278) rotate(-17.5)"><text font-size="62" text-anchor="middle" transform="scale(0.91 1)" y="18">2.00</text></g>
<g transform="translate(3299.8 2226.7) rotate(-17.5)"><text font-size="62" text-anchor="middle" transform="scale(0.91 1)" y="18">3.00</text></g>
<g transform="translate(3481.3 2172.7) rotate(-17.5)"><text font-size="62" text-anchor="middle" transform="scale(0.91 1)" y="18">4.00</text></g>
<g transform="translate(3675 2113.9) rotate(-17.5)"><text font-size="62" text-anchor="middle" transform="scale(0.91 1)" y="18">5.00</text></g>
<g transform="translate(3856.5 2057.5) rotate(-17.5)"><text font-size="62" text-anchor="middle" transform="scale(0.91 1)" y="18">6.00</text></g>
<g transform="translate(3542.6 2280.6) rotate(-11)"><text font-size="62" text-anchor="middle" transform="scale(0.91 1)" y="3.1"><tspan class="it">n</tspan><tspan font-size="40" dy="14">Mg</tspan><tspan dy="-14">/</tspan><tspan class="it">n</tspan><tspan font-size="40" dy="14">P</tspan></text></g>
<g transform="translate(2591.6 2273.3) rotate(20)"><text class="cj" font-size="62" transform="translate(-189.7 0) scale(1 1.0)" y="22.3">反应时间</text><text font-size="62" transform="translate(66.3 0) scale(0.91 1)" y="22.3">/<tspan dx="12">min</tspan></text></g>
<g transform="translate(2074.7 1679) rotate(-95)"><text class="cj" font-size="62" text-anchor="middle" transform="scale(1 1.0)" y="22.3">磷回收率</text></g>
</g>
<g id="panel-e">
<path d="M408.5 3192.5 L1149.6 3426.4 L1891.6 3193.4 L1149.6 3010Z" fill="#eef51f"/>
<g fill="none" clip-path="url(#fle)"><path d="M590 3148 Q797.8 3269.6 1180 3410" stroke="#a4f03e" stroke-width="5.5" stroke-opacity="0.85"/><path d="M686 3122 Q1070.1 3310.4 1275 3384" stroke="#a4f03e" stroke-width="5.5" stroke-opacity="0.85"/><path d="M790 3097 Q1198.4 3264 1356 3355" stroke="#a4f03e" stroke-width="5.5" stroke-opacity="0.85"/><path d="M866 3086 Q1230.4 3220 1510 3306" stroke="#a4f03e" stroke-width="4" stroke-opacity="0.3"/></g>
<path d="M408.5 3192.5 L1149.6 3426.4 L1891.6 3193.4 L1149.6 3010Z M408.5 3192.5 L359.5 2522.3 L1149.6 2407 L1940.7 2526 L1891.6 3193.4 M1149.6 2407 L1149.6 3010" fill="none" stroke="#0a0a0a" stroke-width="3.8" stroke-linejoin="round"/>
<g fill="#0a0a0a"><circle cx="396.8" cy="3033" r="4.6"/><circle cx="389.4" cy="2930.9" r="4.6"/><circle cx="381.9" cy="2828.7" r="4.6"/><circle cx="374.4" cy="2726.6" r="4.6"/><circle cx="367" cy="2624.4" r="4.6"/><circle cx="359.5" cy="2522.3" r="4.6"/><circle cx="408.5" cy="3192.5" r="4.6"/><circle cx="593.8" cy="3251" r="4.6"/><circle cx="779" cy="3309.4" r="4.6"/><circle cx="964.3" cy="3367.9" r="4.6"/><circle cx="1149.6" cy="3426.4" r="4.6"/><circle cx="1149.6" cy="3426.4" r="4.6"/><circle cx="1335.1" cy="3368.2" r="4.6"/><circle cx="1520.6" cy="3309.9" r="4.6"/><circle cx="1706.1" cy="3251.7" r="4.6"/><circle cx="1891.6" cy="3193.4" r="4.6"/></g>
<ellipse cx="1149.6" cy="2538" rx="15" ry="10" fill="#f5a6cf" stroke="#6a4a5c" stroke-width="2.5"/>
<g stroke-width="1.5"><path d="M397 2991.4 C648.1 2710 899.3 2568.4 1150.4 2543 L1169.8 2542.6 C918.5 2568.9 667.1 2711.5 415.8 2993.6Z" fill="url(#e0)" stroke="url(#e0)"/><path d="M415.8 2993.6 C667.1 2711.5 918.5 2568.9 1169.8 2542.6 L1189.1 2542.3 C937.6 2569.6 686.2 2713.1 434.7 2996Z" fill="url(#e1)" stroke="url(#e1)"/><path d="M434.7 2996 C686.2 2713.1 937.6 2569.6 1189.1 2542.3 L1208.5 2542.1 C956.8 2570.4 705.2 2714.8 453.5 2998.5Z" fill="url(#e2)" stroke="url(#e2)"/><path d="M453.5 2998.5 C705.2 2714.8 956.8 2570.4 1208.5 2542.1 L1227.9 2541.9 C976 2571.3 724.2 2716.6 472.3 3001.1Z" fill="url(#e3)" stroke="url(#e3)"/><path d="M472.3 3001.1 C724.2 2716.6 976 2571.3 1227.9 2541.9 L1247.2 2541.9 C995.2 2572.2 743.2 2718.5 491.2 3003.9Z" fill="url(#e4)" stroke="url(#e4)"/><path d="M491.2 3003.9 C743.2 2718.5 995.2 2572.2 1247.2 2541.9 L1266.6 2541.9 C1014.4 2573.3 762.2 2720.6 510 3006.8Z" fill="url(#e5)" stroke="url(#e5)"/><path d="M510 3006.8 C762.2 2720.6 1014.4 2573.3 1266.6 2541.9 L1286 2542 C1033.6 2574.5 781.2 2722.8 528.8 3009.9Z" fill="url(#e6)" stroke="url(#e6)"/><path d="M528.8 3009.9 C781.2 2722.8 1033.6 2574.5 1286 2542 L1305.3 2542.2 C1052.8 2575.8 800.2 2725.1 547.7 3013.1Z" fill="url(#e7)" stroke="url(#e7)"/><path d="M547.7 3013.1 C800.2 2725.1 1052.8 2575.8 1305.3 2542.2 L1324.7 2542.5 C1072 2577.2 819.2 2727.5 566.5 3016.3Z" fill="url(#e8)" stroke="url(#e8)"/><path d="M566.5 3016.3 C819.2 2727.5 1072 2577.2 1324.7 2542.5 L1344.1 2542.9 C1091.2 2578.7 838.2 2730 585.4 3019.8Z" fill="url(#e9)" stroke="url(#e9)"/><path d="M585.4 3019.8 C838.2 2730 1091.2 2578.7 1344.1 2542.9 L1363.4 2543.4 C1110.3 2580.3 857.3 2732.6 604.2 3023.3Z" fill="url(#e10)" stroke="url(#e10)"/><path d="M604.2 3023.3 C857.3 2732.6 1110.3 2580.3 1363.4 2543.4 L1382.8 2544 C1129.5 2581.9 876.3 2735.3 623 3026.9Z" fill="url(#e11)" stroke="url(#e11)"/><path d="M623 3026.9 C876.3 2735.3 1129.5 2581.9 1382.8 2544 L1402.1 2544.6 C1148.7 2583.7 895.3 2738.1 641.9 3030.6Z" fill="url(#e12)" stroke="url(#e12)"/><path d="M641.9 3030.6 C895.3 2738.1 1148.7 2583.7 1402.1 2544.6 L1421.5 2545.4 C1167.9 2585.6 914.3 2741 660.7 3034.4Z" fill="url(#e13)" stroke="url(#e13)"/><path d="M660.7 3034.4 C914.3 2741 1167.9 2585.6 1421.5 2545.4 L1440.9 2546.2 C1187.1 2587.5 933.3 2744 679.5 3038.3Z" fill="url(#e14)" stroke="url(#e14)"/><path d="M679.5 3038.3 C933.3 2744 1187.1 2587.5 1440.9 2546.2 L1460.2 2547.1 C1206.3 2589.5 952.3 2747 698.4 3042.3Z" fill="url(#e15)" stroke="url(#e15)"/><path d="M698.4 3042.3 C952.3 2747 1206.3 2589.5 1460.2 2547.1 L1479.6 2548.1 C1225.5 2591.7 971.3 2750.2 717.2 3046.4Z" fill="url(#e16)" stroke="url(#e16)"/><path d="M717.2 3046.4 C971.3 2750.2 1225.5 2591.7 1479.6 2548.1 L1499 2549.2 C1244.7 2593.9 990.3 2753.4 736 3050.5Z" fill="url(#e17)" stroke="url(#e17)"/><path d="M736 3050.5 C990.3 2753.4 1244.7 2593.9 1499 2549.2 L1518.3 2550.4 C1263.8 2596.2 1009.4 2756.8 754.9 3054.8Z" fill="url(#e18)" stroke="url(#e18)"/><path d="M754.9 3054.8 C1009.4 2756.8 1263.8 2596.2 1518.3 2550.4 L1537.7 2551.7 C1283 2598.5 1028.4 2760.2 773.7 3059.1Z" fill="url(#e19)" stroke="url(#e19)"/><path d="M773.7 3059.1 C1028.4 2760.2 1283 2598.5 1537.7 2551.7 L1557.1 2553.1 C1302.2 2601 1047.4 2763.6 792.5 3063.4Z" fill="url(#e20)" stroke="url(#e20)"/><path d="M792.5 3063.4 C1047.4 2763.6 1302.2 2601 1557.1 2553.1 L1576.4 2554.5 C1321.4 2603.6 1066.4 2767.2 811.4 3067.8Z" fill="url(#e21)" stroke="url(#e21)"/><path d="M811.4 3067.8 C1066.4 2767.2 1321.4 2603.6 1576.4 2554.5 L1595.8 2556.1 C1340.6 2606.2 1085.4 2770.8 830.2 3072.3Z" fill="url(#e22)" stroke="url(#e22)"/><path d="M830.2 3072.3 C1085.4 2770.8 1340.6 2606.2 1595.8 2556.1 L1615.2 2557.7 C1359.8 2608.9 1104.4 2774.4 849 3076.8Z" fill="url(#e23)" stroke="url(#e23)"/><path d="M849 3076.8 C1104.4 2774.4 1359.8 2608.9 1615.2 2557.7 L1634.5 2559.5 C1379 2611.7 1123.4 2778.2 867.9 3081.4Z" fill="url(#e24)" stroke="url(#e24)"/><path d="M867.9 3081.4 C1123.4 2778.2 1379 2611.7 1634.5 2559.5 L1653.9 2561.3 C1398.2 2614.5 1142.4 2782 886.7 3086Z" fill="url(#e25)" stroke="url(#e25)"/><path d="M886.7 3086 C1142.4 2782 1398.2 2614.5 1653.9 2561.3 L1673.3 2563.3 C1417.4 2617.4 1161.4 2785.8 905.5 3090.7Z" fill="url(#e26)" stroke="url(#e26)"/><path d="M905.5 3090.7 C1161.4 2785.8 1417.4 2617.4 1673.3 2563.3 L1692.6 2565.3 C1436.5 2620.4 1180.5 2789.7 924.4 3095.3Z" fill="url(#e27)" stroke="url(#e27)"/><path d="M924.4 3095.3 C1180.5 2789.7 1436.5 2620.4 1692.6 2565.3 L1712 2567.4 C1455.7 2623.5 1199.5 2793.7 943.2 3100Z" fill="url(#e28)" stroke="url(#e28)"/><path d="M943.2 3100 C1199.5 2793.7 1455.7 2623.5 1712 2567.4 L1731.3 2569.6 C1474.9 2626.6 1218.5 2797.7 962.1 3104.8Z" fill="url(#e29)" stroke="url(#e29)"/><path d="M962.1 3104.8 C1218.5 2797.7 1474.9 2626.6 1731.3 2569.6 L1750.7 2571.9 C1494.1 2629.9 1237.5 2801.7 980.9 3109.5Z" fill="url(#e30)" stroke="url(#e30)"/><path d="M980.9 3109.5 C1237.5 2801.7 1494.1 2629.9 1750.7 2571.9 L1770.1 2574.3 C1513.3 2633.1 1256.5 2805.8 999.7 3114.3Z" fill="url(#e31)" stroke="url(#e31)"/><path d="M999.7 3114.3 C1256.5 2805.8 1513.3 2633.1 1770.1 2574.3 L1789.4 2576.8 C1532.5 2636.5 1275.5 2809.9 1018.6 3119.1Z" fill="url(#e32)" stroke="url(#e32)"/><path d="M1018.6 3119.1 C1275.5 2809.9 1532.5 2636.5 1789.4 2576.8 L1808.8 2579.4 C1551.7 2639.9 1294.5 2814 1037.4 3123.8Z" fill="url(#e33)" stroke="url(#e33)"/><path d="M1037.4 3123.8 C1294.5 2814 1551.7 2639.9 1808.8 2579.4 L1828.2 2582.1 C1570.9 2643.4 1313.5 2818.2 1056.2 3128.6Z" fill="url(#e34)" stroke="url(#e34)"/><path d="M1056.2 3128.6 C1313.5 2818.2 1570.9 2643.4 1828.2 2582.1 L1847.5 2584.9 C1590 2646.9 1332.6 2822.4 1075.1 3133.4Z" fill="url(#e35)" stroke="url(#e35)"/><path d="M1075.1 3133.4 C1332.6 2822.4 1590 2646.9 1847.5 2584.9 L1866.9 2587.8 C1609.2 2650.5 1351.6 2826.7 1093.9 3138.1Z" fill="url(#e36)" stroke="url(#e36)"/><path d="M1093.9 3138.1 C1351.6 2826.7 1609.2 2650.5 1866.9 2587.8 L1886.3 2590.7 C1628.4 2654.2 1370.6 2830.9 1112.7 3142.9Z" fill="url(#e37)" stroke="url(#e37)"/><path d="M1112.7 3142.9 C1370.6 2830.9 1628.4 2654.2 1886.3 2590.7 L1905.6 2593.8 C1647.6 2657.9 1389.6 2835.2 1131.6 3147.6Z" fill="url(#e38)" stroke="url(#e38)"/><path d="M1131.6 3147.6 C1389.6 2835.2 1647.6 2657.9 1905.6 2593.8 L1925 2597 C1666.8 2661.7 1408.6 2839.5 1150.4 3152.3Z" fill="url(#e39)" stroke="url(#e39)"/></g>
<g clip-path="url(#cse)"><path d="M800 2614 L828 2599 L856 2585 L884 2572 L912 2561 L941 2550 L969 2540 L997 2531 L1025 2523 L1053 2517 L1081 2511 L1109 2506 L1138 2502 L1166 2501 L1194 2500 L1222 2500 L1250 2500 L1278 2500 L1306 2500 L1334 2501 L1362 2501 L1391 2502 L1419 2503 L1447 2504 L1475 2506 L1503 2507 L1531 2509 L1559 2511 L1588 2513 L1616 2516 L1644 2518 L1672 2521 L1700 2524 L1728 2527 L1756 2531 L1784 2534 L1812 2538 L1841 2542 L1869 2546 L1897 2550 L1925 2555 L1925 2597 L1897 2597 L1869 2597 L1841 2598 L1812 2595 L1784 2593 L1756 2591 L1728 2589 L1700 2587 L1672 2586 L1644 2584 L1616 2583 L1588 2582 L1559 2582 L1531 2581 L1503 2581 L1475 2581 L1447 2581 L1419 2581 L1391 2581 L1362 2582 L1334 2582 L1306 2583 L1278 2584 L1250 2585 L1222 2587 L1194 2588 L1166 2590 L1138 2590 L1109 2589 L1081 2590 L1053 2591 L1025 2593 L997 2596 L969 2601 L941 2607 L912 2614 L884 2618 L856 2620 L828 2623 L800 2626Z" fill="#000" fill-opacity="0.95" filter="url(#ble0)"/></g>
<g clip-path="url(#cse)"><path d="M700 2568 L731 2548 L761 2529 L792 2511 L822 2494 L853 2479 L884 2465 L914 2452 L945 2440 L976 2430 L1006 2420 L1037 2412 L1068 2406 L1098 2400 L1129 2395 L1159 2393 L1190 2392 L1221 2392 L1251 2392 L1282 2392 L1312 2392 L1343 2393 L1374 2394 L1404 2395 L1435 2396 L1466 2397 L1496 2399 L1527 2401 L1558 2403 L1588 2405 L1619 2408 L1649 2411 L1680 2414 L1711 2417 L1741 2421 L1772 2425 L1802 2429 L1833 2433 L1864 2437 L1894 2442 L1925 2447 L1925 2617 L1894 2627 L1864 2637 L1833 2647 L1802 2657 L1772 2661 L1741 2664 L1711 2668 L1680 2672 L1649 2676 L1619 2680 L1588 2685 L1558 2690 L1527 2695 L1496 2699 L1466 2699 L1435 2700 L1404 2700 L1374 2701 L1343 2702 L1312 2703 L1282 2704 L1251 2706 L1221 2708 L1190 2710 L1159 2712 L1129 2706 L1098 2697 L1068 2689 L1037 2683 L1006 2677 L976 2673 L945 2670 L914 2668 L884 2670 L853 2675 L822 2681 L792 2688 L761 2697 L731 2707 L700 2718Z" fill="#000" fill-opacity="0.3" filter="url(#ble1)"/></g>
<path d="M397 2991.4 C648.1 2710 899.3 2568.4 1150.4 2543 M404.5 2992.3 C655.7 2710.6 906.9 2568.6 1158.1 2542.8 M412.1 2993.2 C663.3 2711.2 914.6 2568.8 1165.9 2542.7 M419.6 2994.1 C670.9 2711.8 922.3 2569.1 1173.6 2542.5 M427.1 2995 C678.6 2712.4 930 2569.3 1181.4 2542.4 M434.7 2996 C686.2 2713.1 937.6 2569.6 1189.1 2542.3 M442.2 2997 C693.8 2713.7 945.3 2569.9 1196.9 2542.2 M449.7 2998 C701.4 2714.4 953 2570.2 1204.6 2542.1 M457.3 2999 C709 2715.1 960.7 2570.5 1212.4 2542 M464.8 3000.1 C716.6 2715.9 968.3 2570.9 1220.1 2542 M472.3 3001.1 C724.2 2716.6 976 2571.3 1227.9 2541.9 M479.9 3002.2 C731.8 2717.4 983.7 2571.6 1235.6 2541.9 M487.4 3003.4 C739.4 2718.1 991.4 2572 1243.4 2541.9 M494.9 3004.5 C747 2718.9 999 2572.5 1251.1 2541.9 M502.5 3005.7 C754.6 2719.8 1006.7 2572.9 1258.8 2541.9 M510 3006.8 C762.2 2720.6 1014.4 2573.3 1266.6 2541.9 M517.5 3008 C769.8 2721.5 1022.1 2573.8 1274.3 2542 M525.1 3009.3 C777.4 2722.3 1029.7 2574.3 1282.1 2542 M532.6 3010.5 C785 2723.2 1037.4 2574.8 1289.8 2542.1 M540.1 3011.8 C792.6 2724.1 1045.1 2575.3 1297.6 2542.2 M547.7 3013.1 C800.2 2725.1 1052.8 2575.8 1305.3 2542.2 M555.2 3014.4 C807.8 2726 1060.4 2576.4 1313.1 2542.4 M562.7 3015.7 C815.4 2727 1068.1 2576.9 1320.8 2542.5 M570.3 3017 C823 2728 1075.8 2577.5 1328.6 2542.6 M577.8 3018.4 C830.6 2729 1083.5 2578.1 1336.3 2542.8 M585.4 3019.8 C838.2 2730 1091.2 2578.7 1344.1 2542.9 M592.9 3021.1 C845.9 2731 1098.8 2579.3 1351.8 2543.1 M600.4 3022.6 C853.5 2732.1 1106.5 2579.9 1359.5 2543.3 M608 3024 C861.1 2733.1 1114.2 2580.6 1367.3 2543.5 M615.5 3025.4 C868.7 2734.2 1121.9 2581.3 1375 2543.7 M623 3026.9 C876.3 2735.3 1129.5 2581.9 1382.8 2544 M630.6 3028.4 C883.9 2736.4 1137.2 2582.6 1390.5 2544.2 M638.1 3029.9 C891.5 2737.5 1144.9 2583.3 1398.3 2544.5 M645.6 3031.4 C899.1 2738.7 1152.6 2584.1 1406 2544.8 M653.2 3032.9 C906.7 2739.8 1160.2 2584.8 1413.8 2545.1 M660.7 3034.4 C914.3 2741 1167.9 2585.6 1421.5 2545.4 M668.2 3036 C921.9 2742.2 1175.6 2586.3 1429.3 2545.7 M675.8 3037.5 C929.5 2743.4 1183.3 2587.1 1437 2546 M683.3 3039.1 C937.1 2744.6 1190.9 2587.9 1444.7 2546.4 M690.8 3040.7 C944.7 2745.8 1198.6 2588.7 1452.5 2546.7 M698.4 3042.3 C952.3 2747 1206.3 2589.5 1460.2 2547.1 M705.9 3043.9 C959.9 2748.3 1214 2590.4 1468 2547.5 M713.4 3045.6 C967.5 2749.6 1221.6 2591.2 1475.7 2547.9 M721 3047.2 C975.1 2750.8 1229.3 2592.1 1483.5 2548.3 M728.5 3048.9 C982.7 2752.1 1237 2593 1491.2 2548.8 M736 3050.5 C990.3 2753.4 1244.7 2593.9 1499 2549.2 M743.6 3052.2 C997.9 2754.8 1252.3 2594.8 1506.7 2549.7 M751.1 3053.9 C1005.6 2756.1 1260 2595.7 1514.5 2550.2 M758.6 3055.6 C1013.2 2757.4 1267.7 2596.6 1522.2 2550.7 M766.2 3057.3 C1020.8 2758.8 1275.4 2597.6 1530 2551.2 M773.7 3059.1 C1028.4 2760.2 1283 2598.5 1537.7 2551.7 M781.2 3060.8 C1036 2761.5 1290.7 2599.5 1545.4 2552.2 M788.8 3062.6 C1043.6 2762.9 1298.4 2600.5 1553.2 2552.8 M796.3 3064.3 C1051.2 2764.3 1306.1 2601.5 1560.9 2553.4 M803.8 3066.1 C1058.8 2765.7 1313.7 2602.5 1568.7 2553.9 M811.4 3067.8 C1066.4 2767.2 1321.4 2603.6 1576.4 2554.5 M818.9 3069.6 C1074 2768.6 1329.1 2604.6 1584.2 2555.1 M826.4 3071.4 C1081.6 2770.1 1336.8 2605.6 1591.9 2555.8 M834 3073.2 C1089.2 2771.5 1344.4 2606.7 1599.7 2556.4 M841.5 3075 C1096.8 2773 1352.1 2607.8 1607.4 2557.1 M849 3076.8 C1104.4 2774.4 1359.8 2608.9 1615.2 2557.7 M856.6 3078.7 C1112 2775.9 1367.5 2610 1622.9 2558.4 M864.1 3080.5 C1119.6 2777.4 1375.1 2611.1 1630.7 2559.1 M871.6 3082.3 C1127.2 2778.9 1382.8 2612.2 1638.4 2559.8 M879.2 3084.2 C1134.8 2780.4 1390.5 2613.4 1646.1 2560.6 M886.7 3086 C1142.4 2782 1398.2 2614.5 1653.9 2561.3 M894.2 3087.9 C1150 2783.5 1405.8 2615.7 1661.6 2562.1 M901.8 3089.7 C1157.6 2785 1413.5 2616.8 1669.4 2562.9 M909.3 3091.6 C1165.3 2786.6 1421.2 2618 1677.1 2563.7 M916.8 3093.5 C1172.9 2788.1 1428.9 2619.2 1684.9 2564.5 M924.4 3095.3 C1180.5 2789.7 1436.5 2620.4 1692.6 2565.3 M931.9 3097.2 C1188.1 2791.3 1444.2 2621.7 1700.4 2566.1 M939.4 3099.1 C1195.7 2792.9 1451.9 2622.9 1708.1 2567 M947 3101 C1203.3 2794.5 1459.6 2624.1 1715.9 2567.8 M954.5 3102.9 C1210.9 2796.1 1467.2 2625.4 1723.6 2568.7 M962.1 3104.8 C1218.5 2797.7 1474.9 2626.6 1731.3 2569.6 M969.6 3106.7 C1226.1 2799.3 1482.6 2627.9 1739.1 2570.5 M977.1 3108.6 C1233.7 2800.9 1490.3 2629.2 1746.8 2571.4 M984.7 3110.5 C1241.3 2802.5 1497.9 2630.5 1754.6 2572.4 M992.2 3112.4 C1248.9 2804.1 1505.6 2631.8 1762.3 2573.3 M999.7 3114.3 C1256.5 2805.8 1513.3 2633.1 1770.1 2574.3 M1007.3 3116.2 C1264.1 2807.4 1521 2634.5 1777.8 2575.3 M1014.8 3118.1 C1271.7 2809.1 1528.6 2635.8 1785.6 2576.3 M1022.3 3120 C1279.3 2810.7 1536.3 2637.2 1793.3 2577.3 M1029.9 3121.9 C1286.9 2812.4 1544 2638.5 1801.1 2578.4 M1037.4 3123.8 C1294.5 2814 1551.7 2639.9 1808.8 2579.4 M1044.9 3125.7 C1302.1 2815.7 1559.3 2641.3 1816.6 2580.5 M1052.5 3127.6 C1309.7 2817.4 1567 2642.7 1824.3 2581.6 M1060 3129.6 C1317.3 2819.1 1574.7 2644.1 1832 2582.7 M1067.5 3131.5 C1324.9 2820.8 1582.4 2645.5 1839.8 2583.8 M1075.1 3133.4 C1332.6 2822.4 1590 2646.9 1847.5 2584.9 M1082.6 3135.3 C1340.2 2824.1 1597.7 2648.3 1855.3 2586 M1090.1 3137.2 C1347.8 2825.8 1605.4 2649.8 1863 2587.2 M1097.7 3139.1 C1355.4 2827.5 1613.1 2651.2 1870.8 2588.4 M1105.2 3141 C1363 2829.2 1620.7 2652.7 1878.5 2589.5 M1112.7 3142.9 C1370.6 2830.9 1628.4 2654.2 1886.3 2590.7 M1120.3 3144.8 C1378.2 2832.7 1636.1 2655.7 1894 2592 M1127.8 3146.7 C1385.8 2834.4 1643.8 2657.1 1901.8 2593.2 M1135.3 3148.5 C1393.4 2836.1 1651.4 2658.6 1909.5 2594.5 M1142.9 3150.4 C1401 2837.8 1659.1 2660.1 1917.3 2595.7 M1150.4 3152.3 C1408.6 2839.5 1666.8 2661.7 1925 2597" fill="none" stroke="#000" stroke-opacity="0.5" stroke-width="3.0"/>
<path d="M397 2991.4 C648.1 3019.9 899.3 3089.8 1150.4 3152.3 M407.8 2979.4 C659 3007.5 910.2 3076.7 1161.5 3139 M418.5 2967.6 C669.9 2995.2 921.2 3063.7 1172.5 3125.8 M429.3 2956 C680.7 2983.2 932.2 3051 1183.6 3112.8 M440.1 2944.5 C691.6 2971.3 943.1 3038.4 1194.7 3100 M450.8 2933.2 C702.5 2959.5 954.1 3025.9 1205.7 3087.3 M461.6 2922.1 C713.3 2948 965.1 3013.6 1216.8 3074.8 M472.3 2911.2 C724.2 2936.6 976 3001.5 1227.9 3062.5 M483.1 2900.4 C735 2925.3 987 2989.6 1238.9 3050.3 M493.9 2889.8 C745.9 2914.3 997.9 2977.8 1250 3038.3 M504.6 2879.3 C756.8 2903.4 1008.9 2966.2 1261.1 3026.4 M515.4 2869 C767.6 2892.6 1019.9 2954.7 1272.1 3014.8 M526.2 2858.9 C778.5 2882.1 1030.8 2943.5 1283.2 3003.2 M536.9 2848.9 C789.4 2871.7 1041.8 2932.3 1294.3 2991.9 M547.7 2839.2 C800.2 2861.4 1052.8 2921.4 1305.3 2980.6 M558.4 2829.5 C811.1 2851.3 1063.7 2910.6 1316.4 2969.6 M569.2 2820.1 C822 2841.4 1074.7 2899.9 1327.5 2958.7 M580 2810.8 C832.8 2831.7 1085.7 2889.4 1338.5 2948 M590.7 2801.7 C843.7 2822.1 1096.6 2879.1 1349.6 2937.4 M601.5 2792.7 C854.5 2812.7 1107.6 2869 1360.6 2927 M612.3 2783.9 C865.4 2803.4 1118.6 2859 1371.7 2916.7 M623 2775.3 C876.3 2794.3 1129.5 2849.1 1382.8 2906.6 M633.8 2766.8 C887.1 2785.3 1140.5 2839.4 1393.8 2896.7 M644.5 2758.5 C898 2776.6 1151.5 2829.9 1404.9 2886.9 M655.3 2750.3 C908.9 2767.9 1162.4 2820.6 1416 2877.3 M666.1 2742.3 C919.7 2759.5 1173.4 2811.3 1427 2867.8 M676.8 2734.5 C930.6 2751.2 1184.4 2802.3 1438.1 2858.5 M687.6 2726.8 C941.5 2743 1195.3 2793.4 1449.2 2849.3 M698.4 2719.3 C952.3 2735 1206.3 2784.7 1460.2 2840.3 M709.1 2712 C963.2 2727.2 1217.2 2776.1 1471.3 2831.5 M719.9 2704.8 C974 2719.5 1228.2 2767.7 1482.4 2822.8 M730.6 2697.7 C984.9 2712 1239.2 2759.4 1493.4 2814.2 M741.4 2690.9 C995.8 2704.6 1250.1 2751.3 1504.5 2805.9 M752.2 2684.2 C1006.6 2697.4 1261.1 2743.3 1515.6 2797.6 M762.9 2677.6 C1017.5 2690.4 1272.1 2735.5 1526.6 2789.5 M773.7 2671.2 C1028.4 2683.5 1283 2727.9 1537.7 2781.6 M784.5 2665 C1039.2 2676.8 1294 2720.4 1548.8 2773.8 M795.2 2658.9 C1050.1 2670.2 1305 2713 1559.8 2766.2 M806 2652.9 C1061 2663.8 1315.9 2705.8 1570.9 2758.7 M816.8 2647.2 C1071.8 2657.5 1326.9 2698.8 1582 2751.4 M827.5 2641.5 C1082.7 2651.4 1337.9 2691.9 1593 2744.2 M838.3 2636.1 C1093.5 2645.4 1348.8 2685.2 1604.1 2737.2 M849 2630.8 C1104.4 2639.6 1359.8 2678.6 1615.2 2730.3 M859.8 2625.6 C1115.3 2633.9 1370.8 2672.2 1626.2 2723.6 M870.6 2620.6 C1126.1 2628.4 1381.7 2665.9 1637.3 2717 M881.3 2615.7 C1137 2623 1392.7 2659.7 1648.4 2710.6 M892.1 2611 C1147.9 2617.8 1403.6 2653.8 1659.4 2704.3 M902.9 2606.5 C1158.7 2612.8 1414.6 2647.9 1670.5 2698.2 M913.6 2602.1 C1169.6 2607.9 1425.6 2642.2 1681.6 2692.2 M924.4 2597.9 C1180.5 2603.1 1436.5 2636.7 1692.6 2686.3 M935.1 2593.8 C1191.3 2598.5 1447.5 2631.3 1703.7 2680.7 M945.9 2589.8 C1202.2 2594.1 1458.5 2626.1 1714.8 2675.1 M956.7 2586 C1213.1 2589.7 1469.4 2621 1725.8 2669.7 M967.4 2582.4 C1223.9 2585.6 1480.4 2616 1736.9 2664.5 M978.2 2578.9 C1234.8 2581.6 1491.4 2611.2 1747.9 2659.3 M989 2575.6 C1245.6 2577.7 1502.3 2606.6 1759 2654.4 M999.7 2572.4 C1256.5 2574 1513.3 2602.1 1770.1 2649.6 M1010.5 2569.3 C1267.4 2570.4 1524.3 2597.7 1781.1 2644.9 M1021.2 2566.4 C1278.2 2567 1535.2 2593.5 1792.2 2640.3 M1032 2563.7 C1289.1 2563.7 1546.2 2589.4 1803.3 2636 M1042.8 2561.1 C1300 2560.6 1557.2 2585.5 1814.3 2631.7 M1053.5 2558.6 C1310.8 2557.6 1568.1 2581.7 1825.4 2627.6 M1064.3 2556.3 C1321.7 2554.7 1579.1 2578 1836.5 2623.6 M1075.1 2554.1 C1332.6 2552 1590 2574.5 1847.5 2619.8 M1085.8 2552.1 C1343.4 2549.5 1601 2571.2 1858.6 2616.1 M1096.6 2550.2 C1354.3 2547.1 1612 2568 1869.7 2612.6 M1107.3 2548.5 C1365.1 2544.8 1622.9 2564.9 1880.7 2609.2 M1118.1 2546.9 C1376 2542.7 1633.9 2562 1891.8 2605.9 M1128.9 2545.5 C1386.9 2540.7 1644.9 2559.2 1902.9 2602.8 M1139.6 2544.2 C1397.7 2538.9 1655.8 2556.5 1913.9 2599.8 M1150.4 2543 C1408.6 2537.2 1666.8 2554 1925 2597" fill="none" stroke="#000" stroke-opacity="0.5" stroke-width="3.0"/>
<path d="M1150 3150 L1149.6 3188" stroke="#0a0a0a" stroke-width="3" fill="none"/>
<ellipse cx="394.8" cy="3005.6" rx="15" ry="10" fill="#f5a6cf" stroke="#6a4a5c" stroke-width="2.5"/>
<ellipse cx="1149.6" cy="2679.3" rx="15" ry="10" fill="#f20d0d" stroke="#5a0505" stroke-width="2.5"/>
<ellipse cx="1934.3" cy="2610.6" rx="15" ry="10" fill="#f5a6cf" stroke="#6a4a5c" stroke-width="2.5"/>
<ellipse cx="1149.6" cy="3187.5" rx="15" ry="10" fill="#f5a6cf" stroke="#6a4a5c" stroke-width="2.5"/>
<g transform="translate(393.8 2429)"><text font-size="62" text-anchor="middle" transform="scale(0.91 1)" y="13">e</text></g>
<g transform="translate(271.2 2554.2)"><text font-size="62" text-anchor="middle" transform="scale(0.91 1)" y="18">100%</text></g>
<g transform="translate(292.8 2652.3)"><text font-size="62" text-anchor="middle" transform="scale(0.91 1)" y="18">90%</text></g>
<g transform="translate(302.6 2750.4)"><text font-size="62" text-anchor="middle" transform="scale(0.91 1)" y="18">80%</text></g>
<g transform="translate(311.4 2851)"><text font-size="62" text-anchor="middle" transform="scale(0.91 1)" y="18">70%</text></g>
<g transform="translate(321.2 2949)"><text font-size="62" text-anchor="middle" transform="scale(0.91 1)" y="18">60%</text></g>
<g transform="translate(328.6 3053.7)"><text font-size="62" text-anchor="middle" transform="scale(0.91 1)" y="18">50%</text></g>
<g transform="translate(377.6 3235) rotate(17.5)"><text font-size="62" text-anchor="middle" transform="scale(0.91 1)" y="18">25.00</text></g>
<g transform="translate(556.6 3291.5) rotate(17.5)"><text font-size="62" text-anchor="middle" transform="scale(0.91 1)" y="18">20.00</text></g>
<g transform="translate(740.6 3350.4) rotate(17.5)"><text font-size="62" text-anchor="middle" transform="scale(0.91 1)" y="18">15.00</text></g>
<g transform="translate(934.3 3411.7) rotate(17.5)"><text font-size="62" text-anchor="middle" transform="scale(0.91 1)" y="18">10.00</text></g>
<g transform="translate(1085.8 3458.3) rotate(17.5)"><text font-size="62" text-anchor="middle" transform="scale(0.91 1)" y="18">5.00</text></g>
<g transform="translate(1198.6 3453.4) rotate(-17.5)"><text font-size="62" text-anchor="middle" transform="scale(0.91 1)" y="18">2.00</text></g>
<g transform="translate(1355.6 3404.3) rotate(-17.5)"><text font-size="62" text-anchor="middle" transform="scale(0.91 1)" y="18">3.00</text></g>
<g transform="translate(1537 3350.4) rotate(-17.5)"><text font-size="62" text-anchor="middle" transform="scale(0.91 1)" y="18">4.00</text></g>
<g transform="translate(1730.8 3291.5) rotate(-17.5)"><text font-size="62" text-anchor="middle" transform="scale(0.91 1)" y="18">5.00</text></g>
<g transform="translate(1912.2 3230.2) rotate(-17.5)"><text font-size="62" text-anchor="middle" transform="scale(0.91 1)" y="18">6.00</text></g>
<g transform="translate(1600.8 3465.6) rotate(-11)"><text font-size="62" text-anchor="middle" transform="scale(0.91 1)" y="3.1"><tspan class="it">n</tspan><tspan font-size="40" dy="14">Mg</tspan><tspan dy="-14">/</tspan><tspan class="it">n</tspan><tspan font-size="40" dy="14">P</tspan></text></g>
<g transform="translate(691.5 3468) rotate(20)"><text class="cj" font-size="62" transform="translate(-169.3 0) scale(1 1.0)" y="22.3">反应温度</text><text font-size="62" transform="translate(86.7 0) scale(0.91 1)" y="22.3">/<tspan class="cj" dx="6" font-size="62">℃</tspan></text></g>
<g transform="translate(140.6 2869.4) rotate(-95)"><text class="cj" font-size="62" text-anchor="middle" transform="scale(1 1.0)" y="22.3">磷回收率</text></g>
</g>
<g id="panel-f">
<path d="M2341.5 3193.4 L3080 3426.4 L3816.2 3193.4 L3079 3013.4Z" fill="#eef51f"/>
<path d="M2341.5 3193.4 L3080 3426.4 L3816.2 3193.4 L3079 3013.4Z M2341.5 3193.4 L2294 2528.2 L3080 2412 L3863.8 2528.7 L3816.2 3193.4 M3080 2412 L3079 3013.4" fill="none" stroke="#0a0a0a" stroke-width="3.8" stroke-linejoin="round"/>
<g fill="#0a0a0a"><circle cx="2330.2" cy="3035.1" r="4.6"/><circle cx="2323" cy="2933.7" r="4.6"/><circle cx="2315.7" cy="2832.3" r="4.6"/><circle cx="2308.5" cy="2731" r="4.6"/><circle cx="2301.2" cy="2629.6" r="4.6"/><circle cx="2294" cy="2528.2" r="4.6"/><circle cx="2341.5" cy="3193.4" r="4.6"/><circle cx="2526.1" cy="3251.7" r="4.6"/><circle cx="2710.8" cy="3309.9" r="4.6"/><circle cx="2895.4" cy="3368.2" r="4.6"/><circle cx="3080" cy="3426.4" r="4.6"/><circle cx="3080" cy="3426.4" r="4.6"/><circle cx="3264.1" cy="3368.2" r="4.6"/><circle cx="3448.1" cy="3309.9" r="4.6"/><circle cx="3632.1" cy="3251.7" r="4.6"/><circle cx="3816.2" cy="3193.4" r="4.6"/></g>
<g stroke-width="1.5"><path d="M2315.3 2760 C2570.3 2714.9 2825.4 2645.5 3080.4 2597.5 L3099.6 2598 C2844.6 2646.2 2589.5 2715.5 2334.4 2761.1Z" fill="url(#f0)" stroke="url(#f0)"/><path d="M2334.4 2761.1 C2589.5 2715.5 2844.6 2646.2 3099.6 2598 L3118.8 2598.6 C2863.8 2647.1 2608.7 2716.1 2353.6 2762.2Z" fill="url(#f1)" stroke="url(#f1)"/><path d="M2353.6 2762.2 C2608.7 2716.1 2863.8 2647.1 3118.8 2598.6 L3138.1 2599.4 C2882.9 2648.1 2627.8 2716.9 2372.7 2763.5Z" fill="url(#f2)" stroke="url(#f2)"/><path d="M2372.7 2763.5 C2627.8 2716.9 2882.9 2648.1 3138.1 2599.4 L3157.3 2600.3 C2902.1 2649.2 2647 2717.7 2391.8 2764.9Z" fill="url(#f3)" stroke="url(#f3)"/><path d="M2391.8 2764.9 C2647 2717.7 2902.1 2649.2 3157.3 2600.3 L3176.5 2601.4 C2921.3 2650.4 2666.1 2718.7 2410.9 2766.4Z" fill="url(#f4)" stroke="url(#f4)"/><path d="M2410.9 2766.4 C2666.1 2718.7 2921.3 2650.4 3176.5 2601.4 L3195.8 2602.6 C2940.5 2651.8 2685.3 2719.8 2430.1 2767.9Z" fill="url(#f5)" stroke="url(#f5)"/><path d="M2430.1 2767.9 C2685.3 2719.8 2940.5 2651.8 3195.8 2602.6 L3215 2603.9 C2959.7 2653.3 2704.5 2721 2449.2 2769.6Z" fill="url(#f6)" stroke="url(#f6)"/><path d="M2449.2 2769.6 C2704.5 2721 2959.7 2653.3 3215 2603.9 L3234.2 2605.4 C2978.9 2654.9 2723.6 2722.3 2468.3 2771.3Z" fill="url(#f7)" stroke="url(#f7)"/><path d="M2468.3 2771.3 C2723.6 2722.3 2978.9 2654.9 3234.2 2605.4 L3253.4 2606.9 C2998.1 2656.6 2742.8 2723.7 2487.4 2773.2Z" fill="url(#f8)" stroke="url(#f8)"/><path d="M2487.4 2773.2 C2742.8 2723.7 2998.1 2656.6 3253.4 2606.9 L3272.7 2608.6 C3017.3 2658.5 2761.9 2725.2 2506.6 2775.1Z" fill="url(#f9)" stroke="url(#f9)"/><path d="M2506.6 2775.1 C2761.9 2725.2 3017.3 2658.5 3272.7 2608.6 L3291.9 2610.4 C3036.5 2660.4 2781.1 2726.8 2525.7 2777.1Z" fill="url(#f10)" stroke="url(#f10)"/><path d="M2525.7 2777.1 C2781.1 2726.8 3036.5 2660.4 3291.9 2610.4 L3311.1 2612.4 C3055.7 2662.4 2800.3 2728.5 2544.8 2779.1Z" fill="url(#f11)" stroke="url(#f11)"/><path d="M2544.8 2779.1 C2800.3 2728.5 3055.7 2662.4 3311.1 2612.4 L3330.3 2614.4 C3074.9 2664.5 2819.4 2730.2 2564 2781.3Z" fill="url(#f12)" stroke="url(#f12)"/><path d="M2564 2781.3 C2819.4 2730.2 3074.9 2664.5 3330.3 2614.4 L3349.6 2616.5 C3094.1 2666.7 2838.6 2732 2583.1 2783.5Z" fill="url(#f13)" stroke="url(#f13)"/><path d="M2583.1 2783.5 C2838.6 2732 3094.1 2666.7 3349.6 2616.5 L3368.8 2618.7 C3113.3 2669 2857.7 2734 2602.2 2785.8Z" fill="url(#f14)" stroke="url(#f14)"/><path d="M2602.2 2785.8 C2857.7 2734 3113.3 2669 3368.8 2618.7 L3388 2621 C3132.4 2671.4 2876.9 2735.9 2621.3 2788.2Z" fill="url(#f15)" stroke="url(#f15)"/><path d="M2621.3 2788.2 C2876.9 2735.9 3132.4 2671.4 3388 2621 L3407.2 2623.4 C3151.6 2673.8 2896.1 2738 2640.5 2790.6Z" fill="url(#f16)" stroke="url(#f16)"/><path d="M2640.5 2790.6 C2896.1 2738 3151.6 2673.8 3407.2 2623.4 L3426.4 2625.8 C3170.8 2676.3 2915.2 2740.1 2659.6 2793.1Z" fill="url(#f17)" stroke="url(#f17)"/><path d="M2659.6 2793.1 C2915.2 2740.1 3170.8 2676.3 3426.4 2625.8 L3445.7 2628.4 C3190 2678.9 2934.4 2742.3 2678.7 2795.6Z" fill="url(#f18)" stroke="url(#f18)"/><path d="M2678.7 2795.6 C2934.4 2742.3 3190 2678.9 3445.7 2628.4 L3464.9 2631 C3209.2 2681.6 2953.5 2744.6 2697.9 2798.2Z" fill="url(#f19)" stroke="url(#f19)"/><path d="M2697.9 2798.2 C2953.5 2744.6 3209.2 2681.6 3464.9 2631 L3484.1 2633.6 C3228.4 2684.3 2972.7 2746.9 2717 2800.9Z" fill="url(#f20)" stroke="url(#f20)"/><path d="M2717 2800.9 C2972.7 2746.9 3228.4 2684.3 3484.1 2633.6 L3503.4 2636.3 C3247.6 2687 2991.9 2749.2 2736.1 2803.6Z" fill="url(#f21)" stroke="url(#f21)"/><path d="M2736.1 2803.6 C2991.9 2749.2 3247.6 2687 3503.4 2636.3 L3522.6 2639.1 C3266.8 2689.9 3011 2751.6 2755.2 2806.3Z" fill="url(#f22)" stroke="url(#f22)"/><path d="M2755.2 2806.3 C3011 2751.6 3266.8 2689.9 3522.6 2639.1 L3541.8 2641.9 C3286 2692.7 3030.2 2754.1 2774.4 2809.1Z" fill="url(#f23)" stroke="url(#f23)"/><path d="M2774.4 2809.1 C3030.2 2754.1 3286 2692.7 3541.8 2641.9 L3561 2644.8 C3305.2 2695.6 3049.3 2756.6 2793.5 2812Z" fill="url(#f24)" stroke="url(#f24)"/><path d="M2793.5 2812 C3049.3 2756.6 3305.2 2695.6 3561 2644.8 L3580.2 2647.7 C3324.4 2698.6 3068.5 2759.1 2812.6 2814.9Z" fill="url(#f25)" stroke="url(#f25)"/><path d="M2812.6 2814.9 C3068.5 2759.1 3324.4 2698.6 3580.2 2647.7 L3599.5 2650.6 C3343.6 2701.5 3087.7 2761.7 2831.7 2817.8Z" fill="url(#f26)" stroke="url(#f26)"/><path d="M2831.7 2817.8 C3087.7 2761.7 3343.6 2701.5 3599.5 2650.6 L3618.7 2653.6 C3362.8 2704.5 3106.8 2764.3 2850.9 2820.7Z" fill="url(#f27)" stroke="url(#f27)"/><path d="M2850.9 2820.7 C3106.8 2764.3 3362.8 2704.5 3618.7 2653.6 L3637.9 2656.5 C3381.9 2707.6 3126 2766.9 2870 2823.7Z" fill="url(#f28)" stroke="url(#f28)"/><path d="M2870 2823.7 C3126 2766.9 3381.9 2707.6 3637.9 2656.5 L3657.2 2659.5 C3401.1 2710.6 3145.1 2769.6 2889.1 2826.7Z" fill="url(#f29)" stroke="url(#f29)"/><path d="M2889.1 2826.7 C3145.1 2769.6 3401.1 2710.6 3657.2 2659.5 L3676.4 2662.5 C3420.3 2713.7 3164.3 2772.3 2908.3 2829.8Z" fill="url(#f30)" stroke="url(#f30)"/><path d="M2908.3 2829.8 C3164.3 2772.3 3420.3 2713.7 3676.4 2662.5 L3695.6 2665.5 C3439.5 2716.8 3183.5 2775 2927.4 2832.9Z" fill="url(#f31)" stroke="url(#f31)"/><path d="M2927.4 2832.9 C3183.5 2775 3439.5 2716.8 3695.6 2665.5 L3714.8 2668.6 C3458.7 2719.9 3202.6 2777.7 2946.5 2836Z" fill="url(#f32)" stroke="url(#f32)"/><path d="M2946.5 2836 C3202.6 2777.7 3458.7 2719.9 3714.8 2668.6 L3734.1 2671.6 C3477.9 2723 3221.8 2780.4 2965.6 2839.1Z" fill="url(#f33)" stroke="url(#f33)"/><path d="M2965.6 2839.1 C3221.8 2780.4 3477.9 2723 3734.1 2671.6 L3753.3 2674.6 C3497.1 2726.1 3240.9 2783.2 2984.8 2842.2Z" fill="url(#f34)" stroke="url(#f34)"/><path d="M2984.8 2842.2 C3240.9 2783.2 3497.1 2726.1 3753.3 2674.6 L3772.5 2677.6 C3516.3 2729.2 3260.1 2785.9 3003.9 2845.3Z" fill="url(#f35)" stroke="url(#f35)"/><path d="M3003.9 2845.3 C3260.1 2785.9 3516.3 2729.2 3772.5 2677.6 L3791.7 2680.5 C3535.5 2732.2 3279.3 2788.7 3023 2848.5Z" fill="url(#f36)" stroke="url(#f36)"/><path d="M3023 2848.5 C3279.3 2788.7 3535.5 2732.2 3791.7 2680.5 L3810.9 2683.5 C3554.7 2735.3 3298.4 2791.4 3042.1 2851.7Z" fill="url(#f37)" stroke="url(#f37)"/><path d="M3042.1 2851.7 C3298.4 2791.4 3554.7 2735.3 3810.9 2683.5 L3830.2 2686.4 C3573.9 2738.4 3317.6 2794.1 3061.3 2854.8Z" fill="url(#f38)" stroke="url(#f38)"/><path d="M3061.3 2854.8 C3317.6 2794.1 3573.9 2738.4 3830.2 2686.4 L3849.4 2689.3 C3593.1 2741.4 3336.7 2796.9 3080.4 2858Z" fill="url(#f39)" stroke="url(#f39)"/></g>
<g clip-path="url(#csf)"><path d="M2315 2685 L2353 2678 L2392 2671 L2430 2663 L2468 2655 L2507 2647 L2545 2639 L2583 2631 L2622 2622 L2660 2613 L2698 2605 L2737 2596 L2775 2587 L2814 2579 L2852 2570 L2890 2562 L2929 2553 L2967 2545 L3005 2537 L3044 2530 L3082 2523 L3120 2524 L3159 2525 L3197 2528 L3235 2530 L3274 2534 L3312 2537 L3350 2542 L3389 2546 L3427 2551 L3466 2556 L3504 2561 L3542 2567 L3581 2573 L3619 2579 L3657 2585 L3696 2591 L3734 2597 L3772 2603 L3811 2608 L3849 2614 L3849 2689 L3811 2692 L3772 2695 L3734 2694 L3696 2694 L3657 2693 L3619 2692 L3581 2692 L3542 2691 L3504 2691 L3466 2691 L3427 2691 L3389 2691 L3350 2692 L3312 2693 L3274 2696 L3235 2700 L3197 2705 L3159 2710 L3120 2716 L3082 2722 L3044 2724 L3005 2726 L2967 2728 L2929 2731 L2890 2733 L2852 2736 L2814 2739 L2775 2741 L2737 2744 L2698 2746 L2660 2749 L2622 2751 L2583 2754 L2545 2757 L2507 2760 L2468 2767 L2430 2773 L2392 2779 L2353 2785 L2315 2790Z" fill="#000" fill-opacity="1" filter="url(#blf0)"/></g>
<path d="M2315.3 2760 C2570.3 2714.9 2825.4 2645.5 3080.4 2597.5 M2327.3 2760.7 C2582.3 2715.2 2837.4 2645.9 3092.4 2597.8 M2339.2 2761.4 C2594.3 2715.6 2849.4 2646.4 3104.4 2598.1 M2351.2 2762.1 C2606.3 2716 2861.4 2647 3116.4 2598.5 M2363.1 2762.9 C2618.2 2716.5 2873.3 2647.6 3128.5 2599 M2375.1 2763.7 C2630.2 2717 2885.3 2648.2 3140.5 2599.5 M2387 2764.5 C2642.2 2717.5 2897.3 2648.9 3152.5 2600 M2399 2765.4 C2654.2 2718.1 2909.3 2649.6 3164.5 2600.7 M2410.9 2766.4 C2666.1 2718.7 2921.3 2650.4 3176.5 2601.4 M2422.9 2767.3 C2678.1 2719.4 2933.3 2651.3 3188.5 2602.1 M2434.8 2768.3 C2690.1 2720.1 2945.3 2652.2 3200.6 2602.9 M2446.8 2769.4 C2702.1 2720.8 2957.3 2653.1 3212.6 2603.7 M2458.8 2770.4 C2714 2721.6 2969.3 2654.1 3224.6 2604.6 M2470.7 2771.6 C2726 2722.5 2981.3 2655.1 3236.6 2605.5 M2482.7 2772.7 C2738 2723.3 2993.3 2656.2 3248.6 2606.5 M2494.6 2773.9 C2750 2724.3 3005.3 2657.3 3260.6 2607.6 M2506.6 2775.1 C2761.9 2725.2 3017.3 2658.5 3272.7 2608.6 M2518.5 2776.3 C2773.9 2726.2 3029.3 2659.6 3284.7 2609.8 M2530.5 2777.6 C2785.9 2727.2 3041.3 2660.9 3296.7 2610.9 M2542.4 2778.9 C2797.9 2728.2 3053.3 2662.1 3308.7 2612.1 M2554.4 2780.2 C2809.8 2729.3 3065.3 2663.4 3320.7 2613.4 M2566.3 2781.6 C2821.8 2730.4 3077.3 2664.8 3332.7 2614.6 M2578.3 2783 C2833.8 2731.6 3089.3 2666.2 3344.7 2616 M2590.3 2784.4 C2845.8 2732.8 3101.3 2667.6 3356.8 2617.3 M2602.2 2785.8 C2857.7 2734 3113.3 2669 3368.8 2618.7 M2614.2 2787.3 C2869.7 2735.2 3125.2 2670.5 3380.8 2620.1 M2626.1 2788.8 C2881.7 2736.5 3137.2 2672 3392.8 2621.6 M2638.1 2790.3 C2893.7 2737.7 3149.2 2673.5 3404.8 2623.1 M2650 2791.8 C2905.6 2739.1 3161.2 2675.1 3416.8 2624.6 M2662 2793.4 C2917.6 2740.4 3173.2 2676.7 3428.9 2626.2 M2673.9 2795 C2929.6 2741.8 3185.2 2678.3 3440.9 2627.7 M2685.9 2796.6 C2941.6 2743.2 3197.2 2679.9 3452.9 2629.3 M2697.9 2798.2 C2953.5 2744.6 3209.2 2681.6 3464.9 2631 M2709.8 2799.9 C2965.5 2746 3221.2 2683.3 3476.9 2632.6 M2721.8 2801.5 C2977.5 2747.5 3233.2 2685 3488.9 2634.3 M2733.7 2803.2 C2989.5 2748.9 3245.2 2686.7 3500.9 2636 M2745.7 2804.9 C3001.4 2750.4 3257.2 2688.4 3513 2637.7 M2757.6 2806.7 C3013.4 2751.9 3269.2 2690.2 3525 2639.5 M2769.6 2808.4 C3025.4 2753.5 3281.2 2692 3537 2641.2 M2781.5 2810.2 C3037.4 2755 3293.2 2693.8 3549 2643 M2793.5 2812 C3049.3 2756.6 3305.2 2695.6 3561 2644.8 M2805.4 2813.8 C3061.3 2758.2 3317.2 2697.5 3573 2646.6 M2817.4 2815.6 C3073.3 2759.8 3329.2 2699.3 3585.1 2648.4 M2829.4 2817.4 C3085.3 2761.4 3341.2 2701.2 3597.1 2650.2 M2841.3 2819.3 C3097.2 2763 3353.2 2703 3609.1 2652.1 M2853.3 2821.1 C3109.2 2764.6 3365.2 2704.9 3621.1 2653.9 M2865.2 2823 C3121.2 2766.3 3377.2 2706.8 3633.1 2655.8 M2877.2 2824.9 C3133.2 2767.9 3389.1 2708.7 3645.1 2657.7 M2889.1 2826.7 C3145.1 2769.6 3401.1 2710.6 3657.2 2659.5 M2901.1 2828.6 C3157.1 2771.3 3413.1 2712.5 3669.2 2661.4 M2913 2830.6 C3169.1 2773 3425.1 2714.5 3681.2 2663.3 M2925 2832.5 C3181.1 2774.7 3437.1 2716.4 3693.2 2665.2 M2936.9 2834.4 C3193 2776.3 3449.1 2718.3 3705.2 2667.1 M2948.9 2836.3 C3205 2778 3461.1 2720.3 3717.2 2668.9 M2960.9 2838.3 C3217 2779.8 3473.1 2722.2 3729.2 2670.8 M2972.8 2840.2 C3229 2781.5 3485.1 2724.1 3741.3 2672.7 M2984.8 2842.2 C3240.9 2783.2 3497.1 2726.1 3753.3 2674.6 M2996.7 2844.2 C3252.9 2784.9 3509.1 2728 3765.3 2676.4 M3008.7 2846.1 C3264.9 2786.6 3521.1 2729.9 3777.3 2678.3 M3020.6 2848.1 C3276.9 2788.3 3533.1 2731.8 3789.3 2680.2 M3032.6 2850.1 C3288.8 2790 3545.1 2733.8 3801.3 2682 M3044.5 2852.1 C3300.8 2791.7 3557.1 2735.7 3813.4 2683.9 M3056.5 2854 C3312.8 2793.5 3569.1 2737.6 3825.4 2685.7 M3068.4 2856 C3324.8 2795.2 3581.1 2739.5 3837.4 2687.5 M3080.4 2858 C3336.7 2796.9 3593.1 2741.4 3849.4 2689.3" fill="none" stroke="#000" stroke-opacity="0.5" stroke-width="2.4"/>
<path d="M2315.3 2760 C2570.3 2773.5 2825.4 2815.7 3080.4 2858 M2327.3 2757.9 C2582.3 2771.1 2837.4 2813.1 3092.4 2855.1 M2339.2 2755.7 C2594.3 2768.6 2849.4 2810.5 3104.4 2852.3 M2351.2 2753.5 C2606.3 2766.1 2861.4 2807.9 3116.4 2849.4 M2363.1 2751.3 C2618.2 2763.5 2873.3 2805.3 3128.5 2846.6 M2375.1 2749 C2630.2 2761 2885.3 2802.7 3140.5 2843.8 M2387 2746.7 C2642.2 2758.4 2897.3 2800.1 3152.5 2841 M2399 2744.4 C2654.2 2755.8 2909.3 2797.5 3164.5 2838.1 M2410.9 2742 C2666.1 2753.2 2921.3 2794.9 3176.5 2835.3 M2422.9 2739.7 C2678.1 2750.6 2933.3 2792.2 3188.5 2832.5 M2434.8 2737.3 C2690.1 2748 2945.3 2789.6 3200.6 2829.7 M2446.8 2734.8 C2702.1 2745.3 2957.3 2787 3212.6 2827 M2458.8 2732.4 C2714 2742.7 2969.3 2784.3 3224.6 2824.2 M2470.7 2729.9 C2726 2740 2981.3 2781.7 3236.6 2821.4 M2482.7 2727.4 C2738 2737.3 2993.3 2779 3248.6 2818.7 M2494.6 2724.9 C2750 2734.6 3005.3 2776.4 3260.6 2815.9 M2506.6 2722.3 C2761.9 2731.9 3017.3 2773.8 3272.7 2813.2 M2518.5 2719.8 C2773.9 2729.2 3029.3 2771.1 3284.7 2810.4 M2530.5 2717.2 C2785.9 2726.5 3041.3 2768.5 3296.7 2807.7 M2542.4 2714.6 C2797.9 2723.7 3053.3 2765.8 3308.7 2805 M2554.4 2712 C2809.8 2721 3065.3 2763.2 3320.7 2802.3 M2566.3 2709.4 C2821.8 2718.2 3077.3 2760.5 3332.7 2799.6 M2578.3 2706.7 C2833.8 2715.5 3089.3 2757.9 3344.7 2796.9 M2590.3 2704.1 C2845.8 2712.7 3101.3 2755.2 3356.8 2794.2 M2602.2 2701.4 C2857.7 2710 3113.3 2752.6 3368.8 2791.5 M2614.2 2698.8 C2869.7 2707.2 3125.2 2749.9 3380.8 2788.8 M2626.1 2696.1 C2881.7 2704.4 3137.2 2747.3 3392.8 2786.1 M2638.1 2693.4 C2893.7 2701.6 3149.2 2744.6 3404.8 2783.5 M2650 2690.7 C2905.6 2698.8 3161.2 2742 3416.8 2780.8 M2662 2688 C2917.6 2696.1 3173.2 2739.4 3428.9 2778.2 M2673.9 2685.3 C2929.6 2693.3 3185.2 2736.7 3440.9 2775.5 M2685.9 2682.6 C2941.6 2690.5 3197.2 2734.1 3452.9 2772.9 M2697.9 2679.8 C2953.5 2687.7 3209.2 2731.5 3464.9 2770.3 M2709.8 2677.1 C2965.5 2684.9 3221.2 2728.8 3476.9 2767.6 M2721.8 2674.4 C2977.5 2682.1 3233.2 2726.2 3488.9 2765 M2733.7 2671.7 C2989.5 2679.3 3245.2 2723.6 3500.9 2762.4 M2745.7 2669 C3001.4 2676.6 3257.2 2721 3513 2759.8 M2757.6 2666.3 C3013.4 2673.8 3269.2 2718.4 3525 2757.2 M2769.6 2663.5 C3025.4 2671 3281.2 2715.8 3537 2754.6 M2781.5 2660.8 C3037.4 2668.3 3293.2 2713.2 3549 2752 M2793.5 2658.1 C3049.3 2665.5 3305.2 2710.6 3561 2749.5 M2805.4 2655.4 C3061.3 2662.7 3317.2 2708 3573 2746.9 M2817.4 2652.7 C3073.3 2660 3329.2 2705.4 3585.1 2744.3 M2829.4 2650.1 C3085.3 2657.2 3341.2 2702.9 3597.1 2741.8 M2841.3 2647.4 C3097.2 2654.5 3353.2 2700.3 3609.1 2739.2 M2853.3 2644.7 C3109.2 2651.8 3365.2 2697.7 3621.1 2736.6 M2865.2 2642.1 C3121.2 2649.1 3377.2 2695.2 3633.1 2734.1 M2877.2 2639.4 C3133.2 2646.4 3389.1 2692.7 3645.1 2731.6 M2889.1 2636.8 C3145.1 2643.7 3401.1 2690.1 3657.2 2729 M2901.1 2634.2 C3157.1 2641 3413.1 2687.6 3669.2 2726.5 M2913 2631.6 C3169.1 2638.3 3425.1 2685.1 3681.2 2724 M2925 2629 C3181.1 2635.7 3437.1 2682.6 3693.2 2721.5 M2936.9 2626.5 C3193 2633 3449.1 2680.1 3705.2 2719 M2948.9 2623.9 C3205 2630.4 3461.1 2677.6 3717.2 2716.5 M2960.9 2621.4 C3217 2627.8 3473.1 2675.1 3729.2 2714 M2972.8 2618.9 C3229 2625.2 3485.1 2672.7 3741.3 2711.5 M2984.8 2616.4 C3240.9 2622.6 3497.1 2670.2 3753.3 2709 M2996.7 2614 C3252.9 2620.1 3509.1 2667.8 3765.3 2706.5 M3008.7 2611.5 C3264.9 2617.5 3521.1 2665.3 3777.3 2704 M3020.6 2609.1 C3276.9 2615 3533.1 2662.9 3789.3 2701.6 M3032.6 2606.7 C3288.8 2612.5 3545.1 2660.5 3801.3 2699.1 M3044.5 2604.4 C3300.8 2610 3557.1 2658.1 3813.4 2696.6 M3056.5 2602.1 C3312.8 2607.5 3569.1 2655.7 3825.4 2694.2 M3068.4 2599.8 C3324.8 2605.1 3581.1 2653.4 3837.4 2691.7 M3080.4 2597.5 C3336.7 2602.7 3593.1 2651 3849.4 2689.3" fill="none" stroke="#000" stroke-opacity="0.5" stroke-width="2.4"/>
<g transform="translate(2341.5 2436.5)"><text font-size="62" text-anchor="middle" transform="scale(0.91 1)" y="13">f</text></g>
<g transform="translate(2209 2528.2)"><text font-size="62" text-anchor="middle" transform="scale(0.91 1)" y="18">100%</text></g>
<g transform="translate(2229.7 2627.8)"><text font-size="62" text-anchor="middle" transform="scale(0.91 1)" y="18">90%</text></g>
<g transform="translate(2241 2725.9)"><text font-size="62" text-anchor="middle" transform="scale(0.91 1)" y="18">80%</text></g>
<g transform="translate(2250.8 2826.4)"><text font-size="62" text-anchor="middle" transform="scale(0.91 1)" y="18">70%</text></g>
<g transform="translate(2258 2924.5)"><text font-size="62" text-anchor="middle" transform="scale(0.91 1)" y="18">60%</text></g>
<g transform="translate(2268 3026.7)"><text font-size="62" text-anchor="middle" transform="scale(0.91 1)" y="18">50%</text></g>
<g transform="translate(2314.5 3240) rotate(17.5)"><text font-size="62" text-anchor="middle" transform="scale(0.91 1)" y="18">25.00</text></g>
<g transform="translate(2496 3294) rotate(17.5)"><text font-size="62" text-anchor="middle" transform="scale(0.91 1)" y="18">20.00</text></g>
<g transform="translate(2680 3350.4) rotate(17.5)"><text font-size="62" text-anchor="middle" transform="scale(0.91 1)" y="18">15.00</text></g>
<g transform="translate(2873.6 3411.7) rotate(17.5)"><text font-size="62" text-anchor="middle" transform="scale(0.91 1)" y="18">10.00</text></g>
<g transform="translate(3037.4 3468) rotate(17.5)"><text font-size="62" text-anchor="middle" transform="scale(0.91 1)" y="18">5.00</text></g>
<g transform="translate(3145.3 3458.3) rotate(-17.5)"><text font-size="62" text-anchor="middle" transform="scale(0.91 1)" y="18">5.00</text></g>
<g transform="translate(3299.8 3409.2) rotate(-17.5)"><text font-size="62" text-anchor="middle" transform="scale(0.91 1)" y="18">10.00</text></g>
<g transform="translate(3481.3 3350.4) rotate(-17.5)"><text font-size="62" text-anchor="middle" transform="scale(0.91 1)" y="18">15.00</text></g>
<g transform="translate(3660.3 3296.4) rotate(-17.5)"><text font-size="62" text-anchor="middle" transform="scale(0.91 1)" y="18">20.00</text></g>
<g transform="translate(3868.7 3230.2) rotate(-17.5)"><text font-size="62" text-anchor="middle" transform="scale(0.91 1)" y="18">25.00</text></g>
<g transform="translate(3577 3463.2) rotate(-17.5)"><text class="cj" font-size="62" transform="translate(-189.7 0) scale(1 1.0)" y="22.3">反应时间</text><text font-size="62" transform="translate(66.3 0) scale(0.91 1)" y="22.3">/<tspan dx="12">min</tspan></text></g>
<g transform="translate(2591.6 3455.8) rotate(20)"><text class="cj" font-size="62" transform="translate(-169.3 0) scale(1 1.0)" y="22.3">反应温度</text><text font-size="62" transform="translate(86.7 0) scale(0.91 1)" y="22.3">/<tspan class="cj" dx="6" font-size="62">℃</tspan></text></g>
<g transform="translate(2074.7 2874.3) rotate(-95)"><text class="cj" font-size="62" text-anchor="middle" transform="scale(1 1.0)" y="22.3">磷回收率</text></g>
</g>
</svg>
</body>
</html>
